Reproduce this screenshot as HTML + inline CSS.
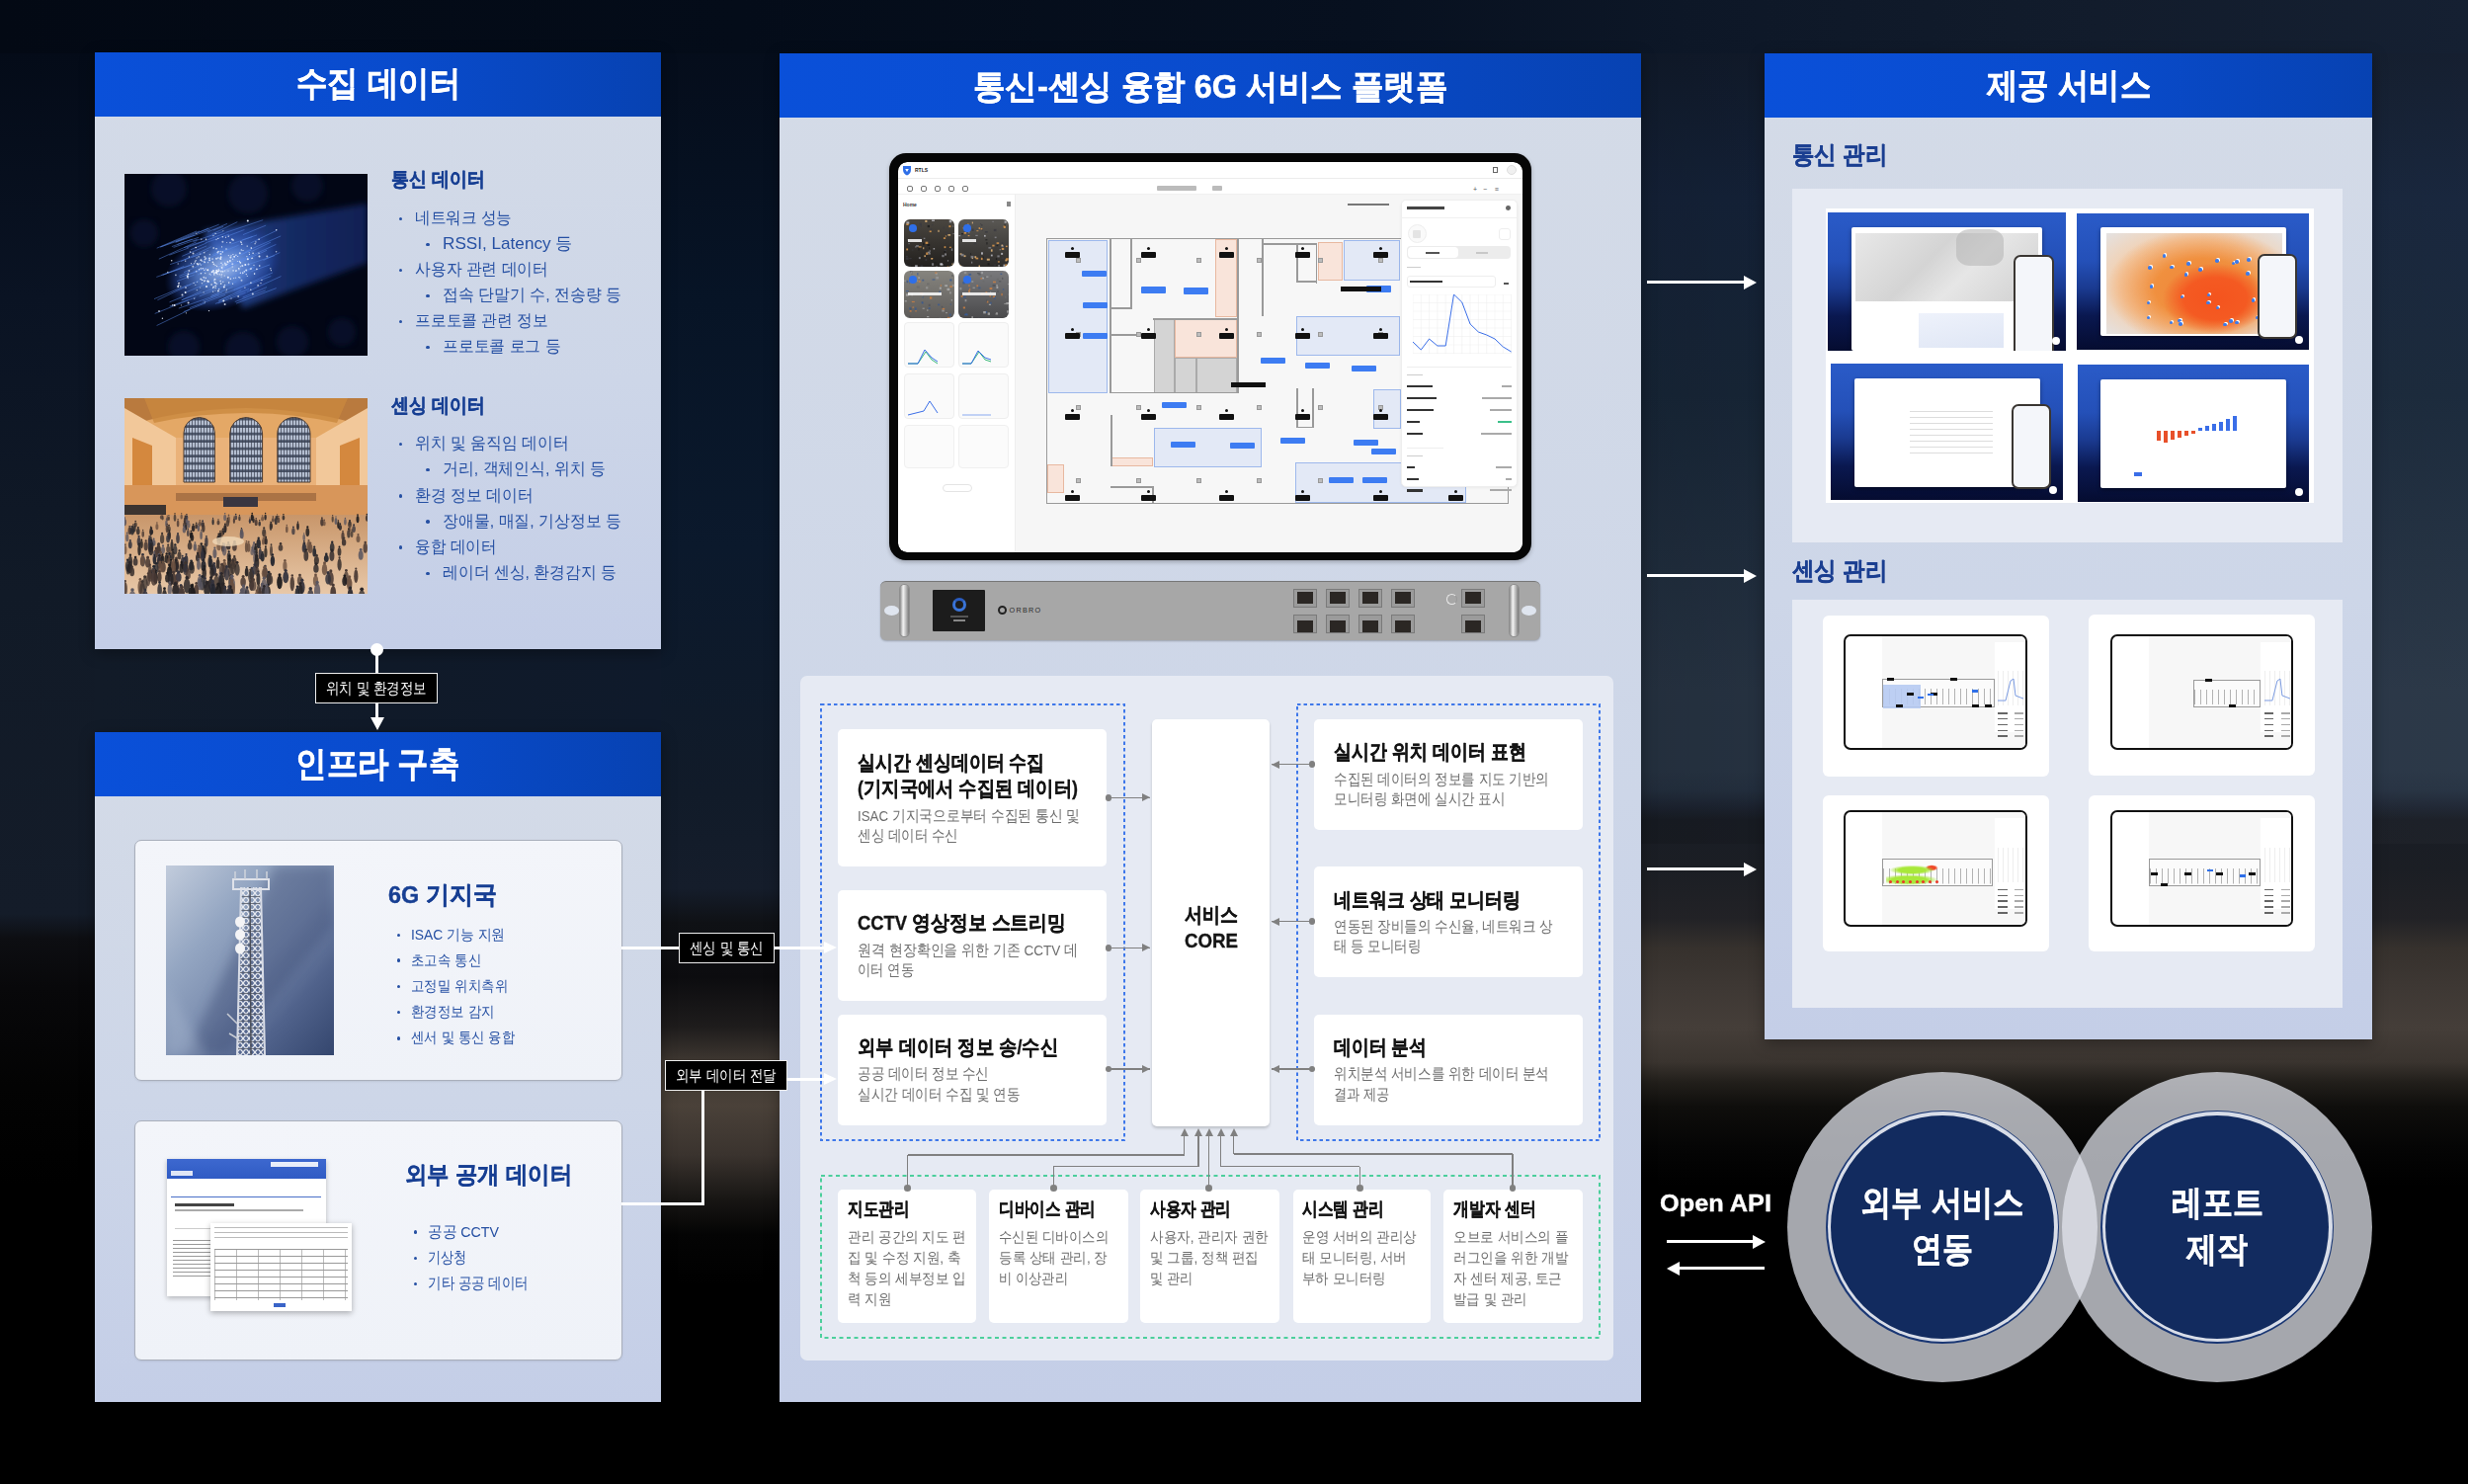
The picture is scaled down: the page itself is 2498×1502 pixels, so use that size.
<!DOCTYPE html>
<html lang="ko"><head><meta charset="utf-8"><title>6G Platform</title><style>
*{box-sizing:border-box;margin:0;padding:0}
html,body{width:2498px;height:1502px;overflow:hidden;background:#000}
body{position:relative;font-family:"Liberation Sans",sans-serif}
.a{position:absolute}
.bg{position:absolute}
.panel{position:absolute;background:linear-gradient(180deg,#d4dbe7 0%,#cdd6e8 55%,#c4cee7 100%);box-shadow:0 4px 14px rgba(0,0,0,.35)}
.hdr{position:absolute;left:0;top:0;width:100%;background:linear-gradient(90deg,#0a50d9 0%,#094bcc 55%,#0742b2 100%);color:#fff;font-weight:bold;text-align:center;white-space:nowrap}
.t{position:absolute;white-space:nowrap}
.lbl{position:absolute;background:#000;border:1.6px solid #eee;color:#fff;font-size:16.5px;text-align:center;white-space:nowrap;letter-spacing:-0.3px}
.wl{position:absolute;background:#fff}
</style></head>
<body>

<div class="bg" style="left:0;top:0;width:2498px;height:60px;background:linear-gradient(90deg,#030914 0%,#040c19 30%,#07101f 55%,#0d1727 68%,#121c2c 85%,#152032 100%)"></div>
<div class="bg" style="left:0;top:54px;width:96px;height:1448px;background:linear-gradient(180deg,#040b18 0px,#0a1323 246px,#111a27 546px,#141c29 871px,#0d0e12 896px,#08080a 946px,#030303 1046px,#000 1146px)"></div>
<div class="bg" style="left:96px;top:657px;width:573px;height:84px;background:linear-gradient(90deg,#121b28,#101a29 50%,#0f1a2b)"></div>
<div class="bg" style="left:669px;top:54px;width:120px;height:1448px;background:linear-gradient(180deg,#050d1b 0px,#071426 250px,#0b192c 500px,#111b29 750px,#151d2b 845px,#0f1115 880px,#0c0c0f 935px,#1e1c1c 985px,#3e3731 1020px,#4a4139 1065px,#3a332e 1115px,#181614 1160px,#040404 1195px,#000 1246px)"></div>
<div class="bg" style="left:1661px;top:54px;width:837px;height:1448px;background:linear-gradient(180deg,#111b2c 0px,#15233a 146px,#182739 346px,#283545 646px,#283545 726px,#253141 746px,#1e2634 761px,#191d25 776px,#1b1e24 826px,#222226 876px,#36312d 906px,#3e3834 946px,#453e39 986px,#3a342f 1021px,#221f1b 1041px,#0f0e0c 1066px,#050505 1106px,#000 1146px)"></div>
<div class="bg" style="left:1661px;top:54px;width:837px;height:800px;background:linear-gradient(90deg,rgba(0,0,0,.12),rgba(0,0,0,0) 40%,rgba(255,255,255,.02))"></div>

<div class="panel" style="left:96px;top:53px;width:573px;height:604px;"><div class="hdr" style="height:65px"></div></div>
<div class="t" style="left:299.5px;top:61.0px;font-size:35px;line-height:46px;font-weight:700;color:#fff;transform:scaleX(0.8986);transform-origin:0 50%;-webkit-text-stroke:0.5px #fff;">수집 데이터</div>
<div class="panel" style="left:96px;top:741px;width:573px;height:678px;"><div class="hdr" style="height:65px"></div></div>
<div class="t" style="left:299.4px;top:750.3px;font-size:35px;line-height:46px;font-weight:700;color:#fff;transform:scaleX(0.9002);transform-origin:0 50%;-webkit-text-stroke:0.5px #fff;">인프라 구축</div>
<div class="panel" style="left:789px;top:54px;width:872px;height:1365px;"><div class="hdr" style="height:65px"></div></div>
<div class="t" style="left:985.0px;top:64.5px;font-size:34px;line-height:44px;font-weight:700;color:#fff;transform:scaleX(0.9553);transform-origin:0 50%;-webkit-text-stroke:0.5px #fff;">통신-센싱 융합 6G 서비스 플랫폼</div>
<div class="panel" style="left:1786px;top:54px;width:615px;height:998px;"><div class="hdr" style="height:65px"></div></div>
<div class="t" style="left:2010.5px;top:63.0px;font-size:35px;line-height:46px;font-weight:700;color:#fff;transform:scaleX(0.8986);transform-origin:0 50%;-webkit-text-stroke:0.5px #fff;">제공 서비스</div>

<svg class="a" style="left:126px;top:176px" width="246" height="184" viewBox="0 0 246 184"><defs><linearGradient id="fs" x1="0" y1="0" x2="1" y2="0"><stop offset="0" stop-color="#3a64c0" stop-opacity=".75"/><stop offset=".5" stop-color="#22449a" stop-opacity=".6"/><stop offset="1" stop-color="#1a3486" stop-opacity=".55"/></linearGradient><radialGradient id="fc" cx=".5" cy=".5" r=".5"><stop offset="0" stop-color="#a8c4f4" stop-opacity=".95"/><stop offset=".45" stop-color="#5a86dc" stop-opacity=".8"/><stop offset=".8" stop-color="#2f56b8" stop-opacity=".45"/><stop offset="1" stop-color="#1a3a90" stop-opacity="0"/></radialGradient><filter id="fb"><feGaussianBlur stdDeviation="3"/></filter></defs><rect width="246" height="184" fill="#020615"/><circle cx="45" cy="15" r="18" fill="#0a1838" opacity=".55" filter="url(#fb)"/><circle cx="125" cy="20" r="20" fill="#0a1838" opacity=".55" filter="url(#fb)"/><circle cx="185" cy="12" r="16" fill="#0a1838" opacity=".55" filter="url(#fb)"/><circle cx="20" cy="60" r="14" fill="#0a1838" opacity=".55" filter="url(#fb)"/><circle cx="60" cy="175" r="16" fill="#0a1838" opacity=".55" filter="url(#fb)"/><circle cx="120" cy="178" r="18" fill="#0a1838" opacity=".55" filter="url(#fb)"/><circle cx="170" cy="170" r="16" fill="#0a1838" opacity=".55" filter="url(#fb)"/><circle cx="220" cy="160" r="14" fill="#0a1838" opacity=".55" filter="url(#fb)"/><polygon points="80,58 246,30 246,90 120,136" fill="url(#fs)" filter="url(#fb)"/><ellipse cx="100" cy="96" rx="62" ry="40" transform="rotate(-22 100 96)" fill="url(#fc)"/><line x1="75.1" y1="108.3" x2="63.5" y2="113.1" stroke="#5a8ae8" stroke-width=".7" opacity=".7"/><line x1="65.8" y1="99.1" x2="55.3" y2="103.3" stroke="#5a8ae8" stroke-width=".7" opacity=".7"/><line x1="69.1" y1="91.7" x2="32.3" y2="104.4" stroke="#5a8ae8" stroke-width=".7" opacity=".7"/><line x1="122.7" y1="120.1" x2="94.6" y2="131.0" stroke="#5a8ae8" stroke-width=".7" opacity=".7"/><line x1="64.7" y1="127.5" x2="45.6" y2="134.1" stroke="#5a8ae8" stroke-width=".7" opacity=".7"/><line x1="90.8" y1="117.6" x2="75.8" y2="123.9" stroke="#5a8ae8" stroke-width=".7" opacity=".7"/><line x1="97.2" y1="94.5" x2="85.7" y2="98.4" stroke="#5a8ae8" stroke-width=".7" opacity=".7"/><line x1="128.0" y1="77.2" x2="108.7" y2="85.3" stroke="#5a8ae8" stroke-width=".7" opacity=".7"/><line x1="90.0" y1="116.1" x2="57.6" y2="127.8" stroke="#5a8ae8" stroke-width=".7" opacity=".7"/><line x1="112.5" y1="116.9" x2="79.2" y2="129.2" stroke="#5a8ae8" stroke-width=".7" opacity=".7"/><line x1="71.8" y1="90.5" x2="37.3" y2="102.5" stroke="#5a8ae8" stroke-width=".7" opacity=".7"/><line x1="63.9" y1="112.5" x2="30.0" y2="126.6" stroke="#5a8ae8" stroke-width=".7" opacity=".7"/><line x1="91.4" y1="107.8" x2="62.9" y2="119.6" stroke="#5a8ae8" stroke-width=".7" opacity=".7"/><line x1="144.0" y1="114.6" x2="119.6" y2="125.1" stroke="#5a8ae8" stroke-width=".7" opacity=".7"/><line x1="130.1" y1="94.2" x2="89.4" y2="112.8" stroke="#5a8ae8" stroke-width=".7" opacity=".7"/><line x1="98.6" y1="103.8" x2="88.6" y2="107.8" stroke="#5a8ae8" stroke-width=".7" opacity=".7"/><line x1="71.7" y1="61.8" x2="36.8" y2="73.8" stroke="#5a8ae8" stroke-width=".7" opacity=".7"/><line x1="99.1" y1="119.9" x2="87.2" y2="124.7" stroke="#5a8ae8" stroke-width=".7" opacity=".7"/><line x1="148.3" y1="103.5" x2="110.6" y2="117.4" stroke="#5a8ae8" stroke-width=".7" opacity=".7"/><line x1="95.9" y1="121.8" x2="54.8" y2="136.1" stroke="#5a8ae8" stroke-width=".7" opacity=".7"/><line x1="83.2" y1="72.9" x2="58.3" y2="83.3" stroke="#5a8ae8" stroke-width=".7" opacity=".7"/><line x1="60.4" y1="93.4" x2="39.2" y2="102.2" stroke="#5a8ae8" stroke-width=".7" opacity=".7"/><line x1="129.0" y1="84.0" x2="100.0" y2="96.5" stroke="#5a8ae8" stroke-width=".7" opacity=".7"/><line x1="150.0" y1="99.9" x2="113.0" y2="116.7" stroke="#5a8ae8" stroke-width=".7" opacity=".7"/><line x1="99.9" y1="58.3" x2="69.4" y2="68.5" stroke="#5a8ae8" stroke-width=".7" opacity=".7"/><line x1="80.9" y1="67.8" x2="60.1" y2="74.7" stroke="#5a8ae8" stroke-width=".7" opacity=".7"/><line x1="75.1" y1="64.3" x2="53.5" y2="71.4" stroke="#5a8ae8" stroke-width=".7" opacity=".7"/><line x1="121.4" y1="56.5" x2="103.8" y2="63.2" stroke="#5a8ae8" stroke-width=".7" opacity=".7"/><line x1="72.3" y1="124.8" x2="30.7" y2="141.4" stroke="#5a8ae8" stroke-width=".7" opacity=".7"/><line x1="68.6" y1="66.0" x2="47.9" y2="73.6" stroke="#5a8ae8" stroke-width=".7" opacity=".7"/><line x1="76.1" y1="57.8" x2="36.1" y2="74.2" stroke="#5a8ae8" stroke-width=".7" opacity=".7"/><line x1="114.3" y1="48.6" x2="88.7" y2="61.0" stroke="#5a8ae8" stroke-width=".7" opacity=".7"/><line x1="129.6" y1="63.5" x2="108.1" y2="71.0" stroke="#5a8ae8" stroke-width=".7" opacity=".7"/><line x1="113.3" y1="109.0" x2="93.0" y2="116.3" stroke="#5a8ae8" stroke-width=".7" opacity=".7"/><line x1="158.5" y1="103.6" x2="123.7" y2="119.5" stroke="#5a8ae8" stroke-width=".7" opacity=".7"/><line x1="82.7" y1="95.7" x2="61.4" y2="102.8" stroke="#5a8ae8" stroke-width=".7" opacity=".7"/><line x1="87.9" y1="73.7" x2="57.1" y2="88.6" stroke="#5a8ae8" stroke-width=".7" opacity=".7"/><line x1="153.7" y1="115.6" x2="113.1" y2="131.1" stroke="#5a8ae8" stroke-width=".7" opacity=".7"/><line x1="82.7" y1="70.1" x2="66.9" y2="76.8" stroke="#5a8ae8" stroke-width=".7" opacity=".7"/><line x1="144.0" y1="77.3" x2="114.1" y2="90.9" stroke="#5a8ae8" stroke-width=".7" opacity=".7"/><line x1="126.1" y1="116.3" x2="91.9" y2="131.5" stroke="#5a8ae8" stroke-width=".7" opacity=".7"/><line x1="77.9" y1="118.7" x2="58.1" y2="127.6" stroke="#5a8ae8" stroke-width=".7" opacity=".7"/><line x1="99.6" y1="82.2" x2="60.1" y2="99.6" stroke="#5a8ae8" stroke-width=".7" opacity=".7"/><line x1="72.7" y1="68.9" x2="34.8" y2="86.2" stroke="#5a8ae8" stroke-width=".7" opacity=".7"/><line x1="142.7" y1="117.8" x2="111.8" y2="129.5" stroke="#5a8ae8" stroke-width=".7" opacity=".7"/><line x1="73.1" y1="57.9" x2="32.7" y2="75.2" stroke="#5a8ae8" stroke-width=".7" opacity=".7"/><line x1="153.4" y1="71.4" x2="116.5" y2="88.2" stroke="#5a8ae8" stroke-width=".7" opacity=".7"/><line x1="85.2" y1="77.1" x2="68.2" y2="84.2" stroke="#5a8ae8" stroke-width=".7" opacity=".7"/><line x1="101.9" y1="60.0" x2="62.8" y2="74.9" stroke="#5a8ae8" stroke-width=".7" opacity=".7"/><line x1="118.3" y1="117.8" x2="96.0" y2="128.3" stroke="#5a8ae8" stroke-width=".7" opacity=".7"/><line x1="113.2" y1="88.6" x2="103.3" y2="92.5" stroke="#5a8ae8" stroke-width=".7" opacity=".7"/><line x1="60.4" y1="123.8" x2="45.5" y2="129.8" stroke="#5a8ae8" stroke-width=".7" opacity=".7"/><line x1="115.6" y1="72.2" x2="89.6" y2="82.9" stroke="#5a8ae8" stroke-width=".7" opacity=".7"/><line x1="70.6" y1="102.2" x2="53.1" y2="108.6" stroke="#5a8ae8" stroke-width=".7" opacity=".7"/><line x1="110.8" y1="92.2" x2="77.7" y2="107.9" stroke="#5a8ae8" stroke-width=".7" opacity=".7"/><line x1="121.3" y1="85.1" x2="95.7" y2="96.3" stroke="#5a8ae8" stroke-width=".7" opacity=".7"/><line x1="113.3" y1="84.9" x2="74.0" y2="102.1" stroke="#5a8ae8" stroke-width=".7" opacity=".7"/><line x1="154.2" y1="57.2" x2="127.5" y2="70.0" stroke="#5a8ae8" stroke-width=".7" opacity=".7"/><line x1="73.7" y1="66.3" x2="49.6" y2="74.4" stroke="#5a8ae8" stroke-width=".7" opacity=".7"/><line x1="67.3" y1="111.7" x2="33.4" y2="127.7" stroke="#5a8ae8" stroke-width=".7" opacity=".7"/><line x1="131.6" y1="94.9" x2="118.0" y2="101.3" stroke="#5a8ae8" stroke-width=".7" opacity=".7"/><line x1="82.0" y1="130.7" x2="59.7" y2="139.6" stroke="#5a8ae8" stroke-width=".7" opacity=".7"/><line x1="143.2" y1="52.1" x2="120.0" y2="61.6" stroke="#5a8ae8" stroke-width=".7" opacity=".7"/><line x1="79.6" y1="80.6" x2="46.1" y2="91.6" stroke="#5a8ae8" stroke-width=".7" opacity=".7"/><line x1="104.0" y1="50.4" x2="84.2" y2="58.9" stroke="#5a8ae8" stroke-width=".7" opacity=".7"/><line x1="66.4" y1="137.2" x2="32.6" y2="153.5" stroke="#5a8ae8" stroke-width=".7" opacity=".7"/><line x1="86.6" y1="56.5" x2="51.6" y2="69.4" stroke="#5a8ae8" stroke-width=".7" opacity=".7"/><line x1="102.2" y1="122.4" x2="65.9" y2="135.6" stroke="#5a8ae8" stroke-width=".7" opacity=".7"/><line x1="151.9" y1="82.7" x2="119.2" y2="93.7" stroke="#5a8ae8" stroke-width=".7" opacity=".7"/><line x1="128.8" y1="76.8" x2="117.5" y2="82.2" stroke="#5a8ae8" stroke-width=".7" opacity=".7"/><line x1="140.2" y1="46.7" x2="102.3" y2="59.4" stroke="#5a8ae8" stroke-width=".7" opacity=".7"/><line x1="105.4" y1="75.8" x2="78.9" y2="88.4" stroke="#5a8ae8" stroke-width=".7" opacity=".7"/><line x1="72.9" y1="98.9" x2="55.6" y2="104.9" stroke="#5a8ae8" stroke-width=".7" opacity=".7"/><line x1="65.0" y1="74.9" x2="45.4" y2="82.2" stroke="#5a8ae8" stroke-width=".7" opacity=".7"/><line x1="89.0" y1="92.8" x2="73.8" y2="98.5" stroke="#5a8ae8" stroke-width=".7" opacity=".7"/><line x1="85.0" y1="55.0" x2="52.1" y2="68.6" stroke="#5a8ae8" stroke-width=".7" opacity=".7"/><line x1="107.5" y1="122.9" x2="95.0" y2="128.6" stroke="#5a8ae8" stroke-width=".7" opacity=".7"/><line x1="109.5" y1="114.4" x2="87.5" y2="123.3" stroke="#5a8ae8" stroke-width=".7" opacity=".7"/><line x1="158.2" y1="62.9" x2="122.4" y2="78.6" stroke="#5a8ae8" stroke-width=".7" opacity=".7"/><line x1="100.5" y1="77.7" x2="89.2" y2="81.6" stroke="#5a8ae8" stroke-width=".7" opacity=".7"/><line x1="134.1" y1="61.9" x2="119.2" y2="67.0" stroke="#5a8ae8" stroke-width=".7" opacity=".7"/><line x1="147.1" y1="91.9" x2="128.4" y2="98.7" stroke="#5a8ae8" stroke-width=".7" opacity=".7"/><line x1="105.9" y1="61.1" x2="81.9" y2="69.9" stroke="#5a8ae8" stroke-width=".7" opacity=".7"/><line x1="157.3" y1="79.5" x2="140.5" y2="87.5" stroke="#5a8ae8" stroke-width=".7" opacity=".7"/><line x1="95.7" y1="51.2" x2="74.0" y2="59.8" stroke="#5a8ae8" stroke-width=".7" opacity=".7"/><line x1="80.1" y1="95.4" x2="70.5" y2="98.9" stroke="#5a8ae8" stroke-width=".7" opacity=".7"/><line x1="100.0" y1="53.3" x2="89.8" y2="57.1" stroke="#5a8ae8" stroke-width=".7" opacity=".7"/><line x1="118.6" y1="87.7" x2="85.2" y2="102.0" stroke="#5a8ae8" stroke-width=".7" opacity=".7"/><line x1="147.9" y1="69.2" x2="128.6" y2="78.5" stroke="#5a8ae8" stroke-width=".7" opacity=".7"/><line x1="132.4" y1="93.4" x2="121.9" y2="98.2" stroke="#5a8ae8" stroke-width=".7" opacity=".7"/><circle cx="124.2" cy="73.1" r="0.7" fill="#eef4ff" opacity="0.96"/><circle cx="98.6" cy="73.8" r="0.6" fill="#eef4ff" opacity="0.93"/><circle cx="54.2" cy="91.0" r="0.7" fill="#eef4ff" opacity="0.63"/><circle cx="131.0" cy="92.4" r="0.6" fill="#eef4ff" opacity="0.75"/><circle cx="90.6" cy="99.9" r="0.6" fill="#eef4ff" opacity="0.85"/><circle cx="86.3" cy="81.7" r="0.6" fill="#eef4ff" opacity="0.78"/><circle cx="148.4" cy="97.7" r="0.6" fill="#eef4ff" opacity="0.86"/><circle cx="133.9" cy="96.4" r="0.8" fill="#eef4ff" opacity="0.92"/><circle cx="108.0" cy="82.8" r="0.7" fill="#eef4ff" opacity="0.69"/><circle cx="82.3" cy="85.4" r="1.0" fill="#eef4ff" opacity="0.63"/><circle cx="114.7" cy="83.5" r="0.6" fill="#eef4ff" opacity="0.85"/><circle cx="92.0" cy="92.5" r="0.7" fill="#eef4ff" opacity="0.73"/><circle cx="76.6" cy="81.1" r="0.7" fill="#eef4ff" opacity="0.60"/><circle cx="115.6" cy="95.7" r="0.6" fill="#eef4ff" opacity="0.88"/><circle cx="89.0" cy="86.1" r="0.8" fill="#eef4ff" opacity="0.79"/><circle cx="86.2" cy="101.3" r="0.7" fill="#eef4ff" opacity="0.72"/><circle cx="121.3" cy="98.9" r="0.8" fill="#eef4ff" opacity="0.78"/><circle cx="124.8" cy="47.6" r="1.0" fill="#eef4ff" opacity="1.00"/><circle cx="57.5" cy="132.9" r="0.7" fill="#eef4ff" opacity="0.63"/><circle cx="131.6" cy="101.1" r="0.8" fill="#eef4ff" opacity="0.98"/><circle cx="127.9" cy="110.3" r="0.8" fill="#eef4ff" opacity="0.95"/><circle cx="93.0" cy="85.7" r="1.0" fill="#eef4ff" opacity="0.76"/><circle cx="129.8" cy="121.5" r="1.0" fill="#eef4ff" opacity="0.76"/><circle cx="94.4" cy="79.6" r="1.0" fill="#eef4ff" opacity="0.73"/><circle cx="98.8" cy="94.9" r="0.8" fill="#eef4ff" opacity="0.94"/><circle cx="138.0" cy="110.6" r="0.6" fill="#eef4ff" opacity="0.96"/><circle cx="92.3" cy="113.6" r="1.0" fill="#eef4ff" opacity="0.76"/><circle cx="104.5" cy="89.1" r="1.0" fill="#eef4ff" opacity="0.90"/><circle cx="109.9" cy="81.5" r="0.6" fill="#eef4ff" opacity="0.93"/><circle cx="85.5" cy="138.6" r="0.7" fill="#eef4ff" opacity="0.99"/><circle cx="78.8" cy="107.5" r="0.8" fill="#eef4ff" opacity="0.91"/><circle cx="92.8" cy="99.4" r="1.0" fill="#eef4ff" opacity="0.97"/><circle cx="126.2" cy="79.7" r="0.6" fill="#eef4ff" opacity="0.62"/><circle cx="95.1" cy="78.4" r="0.7" fill="#eef4ff" opacity="0.86"/><circle cx="96.3" cy="101.8" r="0.7" fill="#eef4ff" opacity="0.67"/><circle cx="81.2" cy="108.1" r="0.8" fill="#eef4ff" opacity="0.90"/><circle cx="116.4" cy="88.5" r="0.7" fill="#eef4ff" opacity="0.72"/><circle cx="75.5" cy="96.7" r="0.7" fill="#eef4ff" opacity="0.86"/><circle cx="123.2" cy="97.6" r="1.0" fill="#eef4ff" opacity="0.82"/><circle cx="77.3" cy="106.6" r="1.0" fill="#eef4ff" opacity="0.77"/><circle cx="80.8" cy="97.4" r="0.7" fill="#eef4ff" opacity="0.74"/><circle cx="112.9" cy="98.3" r="0.8" fill="#eef4ff" opacity="0.92"/><circle cx="99.4" cy="98.8" r="1.0" fill="#eef4ff" opacity="0.75"/><circle cx="97.6" cy="84.5" r="0.8" fill="#eef4ff" opacity="0.74"/><circle cx="115.9" cy="95.8" r="0.8" fill="#eef4ff" opacity="0.65"/><circle cx="64.2" cy="105.6" r="0.7" fill="#eef4ff" opacity="0.64"/><circle cx="116.8" cy="80.2" r="1.0" fill="#eef4ff" opacity="0.77"/><circle cx="81.3" cy="129.9" r="0.6" fill="#eef4ff" opacity="0.65"/><circle cx="61.7" cy="120.0" r="1.0" fill="#eef4ff" opacity="0.99"/><circle cx="88.7" cy="99.2" r="1.0" fill="#eef4ff" opacity="0.99"/><circle cx="98.1" cy="104.1" r="0.7" fill="#eef4ff" opacity="0.66"/><circle cx="109.3" cy="91.2" r="1.0" fill="#eef4ff" opacity="0.63"/><circle cx="98.2" cy="95.1" r="0.7" fill="#eef4ff" opacity="0.69"/><circle cx="128.3" cy="75.1" r="0.8" fill="#eef4ff" opacity="0.98"/><circle cx="77.4" cy="87.3" r="1.0" fill="#eef4ff" opacity="0.88"/><circle cx="105.0" cy="98.1" r="0.7" fill="#eef4ff" opacity="0.76"/><circle cx="103.4" cy="117.1" r="0.6" fill="#eef4ff" opacity="0.81"/><circle cx="117.4" cy="89.9" r="0.8" fill="#eef4ff" opacity="0.86"/><circle cx="118.3" cy="77.0" r="0.7" fill="#eef4ff" opacity="0.82"/><circle cx="122.3" cy="91.9" r="0.8" fill="#eef4ff" opacity="0.62"/><circle cx="115.2" cy="124.0" r="1.0" fill="#eef4ff" opacity="0.63"/><circle cx="101.5" cy="112.6" r="0.8" fill="#eef4ff" opacity="0.69"/><circle cx="119.3" cy="92.9" r="1.0" fill="#eef4ff" opacity="0.74"/><circle cx="95.8" cy="97.9" r="0.8" fill="#eef4ff" opacity="0.90"/><circle cx="81.7" cy="100.5" r="0.7" fill="#eef4ff" opacity="0.72"/><circle cx="105.4" cy="82.6" r="0.7" fill="#eef4ff" opacity="0.71"/><circle cx="106.9" cy="88.1" r="1.0" fill="#eef4ff" opacity="0.84"/><circle cx="120.0" cy="77.5" r="0.6" fill="#eef4ff" opacity="0.98"/><circle cx="112.5" cy="105.2" r="0.7" fill="#eef4ff" opacity="0.61"/><circle cx="77.5" cy="92.1" r="0.6" fill="#eef4ff" opacity="0.67"/><circle cx="62.0" cy="115.1" r="0.8" fill="#eef4ff" opacity="0.89"/><circle cx="153.6" cy="78.7" r="0.8" fill="#eef4ff" opacity="0.68"/><circle cx="81.2" cy="84.1" r="1.0" fill="#eef4ff" opacity="0.61"/><circle cx="86.0" cy="85.4" r="0.8" fill="#eef4ff" opacity="0.99"/><circle cx="87.2" cy="102.1" r="0.6" fill="#eef4ff" opacity="0.71"/><circle cx="62.4" cy="140.8" r="0.6" fill="#eef4ff" opacity="0.82"/><circle cx="99.3" cy="79.0" r="0.8" fill="#eef4ff" opacity="0.93"/><circle cx="91.0" cy="100.3" r="1.0" fill="#eef4ff" opacity="0.68"/><circle cx="72.8" cy="98.8" r="0.8" fill="#eef4ff" opacity="0.75"/><circle cx="102.7" cy="92.0" r="1.0" fill="#eef4ff" opacity="0.70"/><circle cx="80.8" cy="88.9" r="1.0" fill="#eef4ff" opacity="0.61"/><circle cx="147.8" cy="95.7" r="0.8" fill="#eef4ff" opacity="0.68"/><circle cx="128.2" cy="95.9" r="0.8" fill="#eef4ff" opacity="0.71"/><circle cx="130.1" cy="80.2" r="0.8" fill="#eef4ff" opacity="0.90"/><circle cx="77.8" cy="66.2" r="0.8" fill="#eef4ff" opacity="0.60"/><circle cx="99.9" cy="57.6" r="0.6" fill="#eef4ff" opacity="0.61"/><circle cx="100.8" cy="114.4" r="1.0" fill="#eef4ff" opacity="0.98"/><circle cx="84.2" cy="108.6" r="1.0" fill="#eef4ff" opacity="0.93"/><circle cx="116.9" cy="105.1" r="0.6" fill="#eef4ff" opacity="0.92"/><circle cx="94.8" cy="65.4" r="0.7" fill="#eef4ff" opacity="0.84"/><circle cx="88.1" cy="112.1" r="0.8" fill="#eef4ff" opacity="0.91"/><circle cx="74.3" cy="91.6" r="1.0" fill="#eef4ff" opacity="0.90"/><circle cx="98.1" cy="102.2" r="0.6" fill="#eef4ff" opacity="0.79"/><circle cx="84.3" cy="97.3" r="1.0" fill="#eef4ff" opacity="0.95"/><circle cx="116.8" cy="89.3" r="0.6" fill="#eef4ff" opacity="0.68"/><circle cx="35.0" cy="139.1" r="1.0" fill="#eef4ff" opacity="0.67"/><circle cx="115.9" cy="104.6" r="0.7" fill="#eef4ff" opacity="0.90"/><circle cx="118.3" cy="69.3" r="0.6" fill="#eef4ff" opacity="0.91"/><circle cx="92.7" cy="110.8" r="0.8" fill="#eef4ff" opacity="0.75"/><circle cx="96.8" cy="85.1" r="0.7" fill="#eef4ff" opacity="0.67"/><circle cx="99.8" cy="109.2" r="0.7" fill="#eef4ff" opacity="0.73"/><circle cx="38.4" cy="146.2" r="0.7" fill="#eef4ff" opacity="0.86"/><circle cx="119.6" cy="100.7" r="0.6" fill="#eef4ff" opacity="0.64"/><circle cx="54.2" cy="114.1" r="1.0" fill="#eef4ff" opacity="0.97"/><circle cx="117.4" cy="93.7" r="0.6" fill="#eef4ff" opacity="0.62"/><circle cx="61.7" cy="88.1" r="0.7" fill="#eef4ff" opacity="0.97"/><circle cx="64.6" cy="130.6" r="1.0" fill="#eef4ff" opacity="0.84"/><circle cx="103.6" cy="69.5" r="0.6" fill="#eef4ff" opacity="0.64"/><circle cx="70.5" cy="90.8" r="0.7" fill="#eef4ff" opacity="0.61"/><circle cx="94.1" cy="101.5" r="0.8" fill="#eef4ff" opacity="0.62"/><circle cx="92.1" cy="60.4" r="0.6" fill="#eef4ff" opacity="0.93"/><circle cx="78.5" cy="110.7" r="0.8" fill="#eef4ff" opacity="0.63"/><circle cx="125.5" cy="91.6" r="1.0" fill="#eef4ff" opacity="0.63"/><circle cx="117.4" cy="100.3" r="0.7" fill="#eef4ff" opacity="0.86"/><circle cx="110.1" cy="97.9" r="0.8" fill="#eef4ff" opacity="0.76"/><circle cx="93.7" cy="111.5" r="0.6" fill="#eef4ff" opacity="0.72"/><circle cx="77.4" cy="95.7" r="1.0" fill="#eef4ff" opacity="0.61"/><circle cx="102.5" cy="64.2" r="0.7" fill="#eef4ff" opacity="0.76"/><circle cx="50.6" cy="133.0" r="1.0" fill="#eef4ff" opacity="0.96"/><circle cx="58.5" cy="122.4" r="1.0" fill="#eef4ff" opacity="0.83"/><circle cx="70.7" cy="126.2" r="0.7" fill="#eef4ff" opacity="0.61"/><circle cx="65.4" cy="98.0" r="1.0" fill="#eef4ff" opacity="0.64"/><circle cx="81.4" cy="89.6" r="0.7" fill="#eef4ff" opacity="0.66"/><circle cx="92.0" cy="118.0" r="0.6" fill="#eef4ff" opacity="0.64"/><circle cx="54.7" cy="110.8" r="0.7" fill="#eef4ff" opacity="0.72"/><circle cx="101.7" cy="90.6" r="1.0" fill="#eef4ff" opacity="0.73"/><circle cx="71.4" cy="88.9" r="0.6" fill="#eef4ff" opacity="0.96"/><circle cx="65.4" cy="84.0" r="0.7" fill="#eef4ff" opacity="0.86"/><circle cx="118.8" cy="71.2" r="0.7" fill="#eef4ff" opacity="0.93"/><circle cx="104.9" cy="104.8" r="1.0" fill="#eef4ff" opacity="0.98"/><circle cx="110.6" cy="105.6" r="0.7" fill="#eef4ff" opacity="0.70"/><circle cx="90.0" cy="62.6" r="0.6" fill="#eef4ff" opacity="0.95"/><circle cx="117.7" cy="68.9" r="0.8" fill="#eef4ff" opacity="0.65"/><circle cx="73.4" cy="90.8" r="0.8" fill="#eef4ff" opacity="0.86"/><circle cx="91.5" cy="110.0" r="1.0" fill="#eef4ff" opacity="0.86"/><circle cx="73.6" cy="109.3" r="0.6" fill="#eef4ff" opacity="0.60"/><circle cx="124.8" cy="86.3" r="1.0" fill="#eef4ff" opacity="0.91"/><circle cx="103.0" cy="76.0" r="0.7" fill="#eef4ff" opacity="0.92"/><circle cx="90.8" cy="101.9" r="0.8" fill="#eef4ff" opacity="0.77"/><circle cx="119.7" cy="99.5" r="0.6" fill="#eef4ff" opacity="0.62"/><circle cx="135.1" cy="112.9" r="0.8" fill="#eef4ff" opacity="0.91"/><circle cx="90.0" cy="98.0" r="1.0" fill="#eef4ff" opacity="0.86"/><circle cx="99.2" cy="91.8" r="0.6" fill="#eef4ff" opacity="1.00"/><circle cx="93.0" cy="66.5" r="0.7" fill="#eef4ff" opacity="0.65"/><circle cx="112.9" cy="82.3" r="0.7" fill="#eef4ff" opacity="0.87"/><circle cx="94.9" cy="85.1" r="0.8" fill="#eef4ff" opacity="0.84"/><circle cx="97.7" cy="111.1" r="0.8" fill="#eef4ff" opacity="0.96"/><circle cx="80.3" cy="104.8" r="1.0" fill="#eef4ff" opacity="0.68"/><circle cx="95.7" cy="116.8" r="0.8" fill="#eef4ff" opacity="0.75"/><circle cx="105.7" cy="110.1" r="0.8" fill="#eef4ff" opacity="0.87"/><circle cx="109.6" cy="86.2" r="0.8" fill="#eef4ff" opacity="0.65"/><circle cx="64.5" cy="101.4" r="0.8" fill="#eef4ff" opacity="0.99"/><circle cx="70.1" cy="110.4" r="0.6" fill="#eef4ff" opacity="0.70"/><circle cx="51.9" cy="102.4" r="0.8" fill="#eef4ff" opacity="0.71"/><circle cx="129.4" cy="85.2" r="0.8" fill="#eef4ff" opacity="0.73"/><circle cx="113.1" cy="97.5" r="0.6" fill="#eef4ff" opacity="0.72"/><circle cx="77.4" cy="100.7" r="0.8" fill="#eef4ff" opacity="0.89"/><circle cx="97.7" cy="84.1" r="0.8" fill="#eef4ff" opacity="0.85"/><circle cx="71.8" cy="112.3" r="0.6" fill="#eef4ff" opacity="0.65"/><circle cx="103.0" cy="119.0" r="0.6" fill="#eef4ff" opacity="0.62"/><circle cx="79.4" cy="95.7" r="0.8" fill="#eef4ff" opacity="0.81"/><circle cx="80.6" cy="108.7" r="0.7" fill="#eef4ff" opacity="0.68"/><circle cx="78.6" cy="88.3" r="0.7" fill="#eef4ff" opacity="0.61"/><circle cx="110.0" cy="67.1" r="1.0" fill="#eef4ff" opacity="0.64"/><circle cx="66.6" cy="79.1" r="0.8" fill="#eef4ff" opacity="0.76"/><circle cx="97.7" cy="98.7" r="0.8" fill="#eef4ff" opacity="0.84"/><circle cx="69.3" cy="93.7" r="1.0" fill="#eef4ff" opacity="0.70"/><circle cx="103.9" cy="91.3" r="0.6" fill="#eef4ff" opacity="0.76"/><circle cx="98.6" cy="101.7" r="0.6" fill="#eef4ff" opacity="0.60"/><circle cx="43.8" cy="99.5" r="0.7" fill="#eef4ff" opacity="0.77"/><circle cx="63.8" cy="103.5" r="1.0" fill="#eef4ff" opacity="0.93"/><circle cx="107.4" cy="106.2" r="0.8" fill="#eef4ff" opacity="0.85"/><circle cx="136.5" cy="83.4" r="1.0" fill="#eef4ff" opacity="0.89"/><circle cx="144.3" cy="83.4" r="1.0" fill="#eef4ff" opacity="0.63"/><circle cx="89.7" cy="89.7" r="0.6" fill="#eef4ff" opacity="0.70"/><circle cx="90.4" cy="91.4" r="0.8" fill="#eef4ff" opacity="0.88"/><circle cx="94.9" cy="118.4" r="1.0" fill="#eef4ff" opacity="0.87"/><circle cx="153.7" cy="56.7" r="0.8" fill="#eef4ff" opacity="0.86"/><circle cx="114.4" cy="88.5" r="0.6" fill="#eef4ff" opacity="0.67"/><circle cx="136.1" cy="66.2" r="0.7" fill="#eef4ff" opacity="0.98"/><circle cx="97.5" cy="81.0" r="1.0" fill="#eef4ff" opacity="0.73"/><circle cx="101.6" cy="131.9" r="1.0" fill="#eef4ff" opacity="0.79"/><circle cx="95.3" cy="96.4" r="0.6" fill="#eef4ff" opacity="0.77"/><circle cx="93.0" cy="75.7" r="0.8" fill="#eef4ff" opacity="0.92"/><circle cx="73.3" cy="117.6" r="0.7" fill="#eef4ff" opacity="0.66"/><circle cx="109.2" cy="94.0" r="0.7" fill="#eef4ff" opacity="0.74"/><circle cx="101.6" cy="98.1" r="0.6" fill="#eef4ff" opacity="0.66"/><circle cx="93.6" cy="93.4" r="0.6" fill="#eef4ff" opacity="0.89"/><circle cx="127.4" cy="96.3" r="0.8" fill="#eef4ff" opacity="0.68"/><circle cx="126.5" cy="81.5" r="0.6" fill="#eef4ff" opacity="0.95"/><circle cx="99.4" cy="68.8" r="1.0" fill="#eef4ff" opacity="0.64"/><circle cx="101.2" cy="103.0" r="0.6" fill="#eef4ff" opacity="0.98"/><circle cx="132.1" cy="70.7" r="0.6" fill="#eef4ff" opacity="0.93"/><circle cx="84.6" cy="89.7" r="0.6" fill="#eef4ff" opacity="0.65"/><circle cx="107.0" cy="69.6" r="0.8" fill="#eef4ff" opacity="0.73"/><circle cx="93.6" cy="98.9" r="0.8" fill="#eef4ff" opacity="0.97"/><circle cx="136.7" cy="93.0" r="0.8" fill="#eef4ff" opacity="0.91"/><circle cx="76.1" cy="91.0" r="0.8" fill="#eef4ff" opacity="0.85"/><circle cx="122.3" cy="92.1" r="1.0" fill="#eef4ff" opacity="0.81"/><circle cx="120.0" cy="100.5" r="0.6" fill="#eef4ff" opacity="0.82"/><circle cx="108.0" cy="126.1" r="0.6" fill="#eef4ff" opacity="0.83"/><circle cx="92.1" cy="115.5" r="0.7" fill="#eef4ff" opacity="0.72"/><circle cx="98.0" cy="90.3" r="0.8" fill="#eef4ff" opacity="0.80"/><circle cx="55.2" cy="110.5" r="0.7" fill="#eef4ff" opacity="0.99"/><circle cx="47.7" cy="87.7" r="0.8" fill="#eef4ff" opacity="0.83"/><circle cx="121.9" cy="115.1" r="0.7" fill="#eef4ff" opacity="0.80"/><circle cx="124.3" cy="103.5" r="0.6" fill="#eef4ff" opacity="0.80"/><circle cx="128.8" cy="85.6" r="0.6" fill="#eef4ff" opacity="0.85"/><circle cx="83.0" cy="114.1" r="1.0" fill="#eef4ff" opacity="0.96"/><circle cx="97.2" cy="78.4" r="0.6" fill="#eef4ff" opacity="0.75"/><circle cx="89.7" cy="115.5" r="0.7" fill="#eef4ff" opacity="0.75"/><circle cx="111.1" cy="83.8" r="1.0" fill="#eef4ff" opacity="0.65"/><circle cx="67.5" cy="90.7" r="0.6" fill="#eef4ff" opacity="0.74"/><circle cx="91.5" cy="106.7" r="1.0" fill="#eef4ff" opacity="0.86"/><circle cx="97.3" cy="85.9" r="1.0" fill="#eef4ff" opacity="0.88"/><circle cx="97.2" cy="108.5" r="0.8" fill="#eef4ff" opacity="0.78"/><circle cx="111.3" cy="83.7" r="0.7" fill="#eef4ff" opacity="0.71"/><circle cx="99.3" cy="63.8" r="0.7" fill="#eef4ff" opacity="0.89"/><circle cx="136.0" cy="80.3" r="0.8" fill="#eef4ff" opacity="0.66"/><circle cx="90.7" cy="107.9" r="0.6" fill="#eef4ff" opacity="0.67"/><circle cx="89.3" cy="89.2" r="0.7" fill="#eef4ff" opacity="0.99"/><circle cx="108.9" cy="66.2" r="1.0" fill="#eef4ff" opacity="0.71"/><circle cx="138.9" cy="107.5" r="0.8" fill="#eef4ff" opacity="0.68"/><circle cx="93.2" cy="100.3" r="1.0" fill="#eef4ff" opacity="0.94"/><circle cx="82.3" cy="105.4" r="0.8" fill="#eef4ff" opacity="0.79"/><circle cx="118.5" cy="107.8" r="1.0" fill="#eef4ff" opacity="0.60"/><circle cx="100.3" cy="128.6" r="1.0" fill="#eef4ff" opacity="0.94"/><circle cx="80.8" cy="79.7" r="0.7" fill="#eef4ff" opacity="0.87"/><circle cx="81.4" cy="86.5" r="0.8" fill="#eef4ff" opacity="0.70"/><circle cx="82.5" cy="66.3" r="0.7" fill="#eef4ff" opacity="0.91"/><circle cx="90.2" cy="75.0" r="0.8" fill="#eef4ff" opacity="0.94"/><circle cx="93.2" cy="97.8" r="1.0" fill="#eef4ff" opacity="0.81"/><circle cx="72.2" cy="74.5" r="0.8" fill="#eef4ff" opacity="0.91"/><circle cx="76.7" cy="115.1" r="0.6" fill="#eef4ff" opacity="0.62"/><circle cx="84.3" cy="97.4" r="0.7" fill="#eef4ff" opacity="0.81"/><circle cx="123.3" cy="101.6" r="0.7" fill="#eef4ff" opacity="0.89"/><circle cx="63.8" cy="104.4" r="0.8" fill="#eef4ff" opacity="0.81"/><circle cx="48.7" cy="132.9" r="0.7" fill="#eef4ff" opacity="1.00"/><circle cx="109.6" cy="111.2" r="0.6" fill="#eef4ff" opacity="0.89"/><circle cx="72.2" cy="87.8" r="0.8" fill="#eef4ff" opacity="0.71"/><circle cx="94.8" cy="98.6" r="1.0" fill="#eef4ff" opacity="0.97"/><circle cx="73.1" cy="85.0" r="0.8" fill="#eef4ff" opacity="0.64"/><circle cx="90.0" cy="114.6" r="0.7" fill="#eef4ff" opacity="1.00"/><circle cx="123.9" cy="83.6" r="0.7" fill="#eef4ff" opacity="0.65"/><circle cx="105.3" cy="63.3" r="0.7" fill="#eef4ff" opacity="0.79"/><circle cx="82.1" cy="96.1" r="0.7" fill="#eef4ff" opacity="0.74"/><circle cx="69.5" cy="80.5" r="1.0" fill="#eef4ff" opacity="0.79"/><circle cx="89.7" cy="119.1" r="0.7" fill="#eef4ff" opacity="0.91"/><circle cx="56.8" cy="114.0" r="0.7" fill="#eef4ff" opacity="0.71"/><circle cx="84.9" cy="109.0" r="1.0" fill="#eef4ff" opacity="0.87"/><circle cx="54.9" cy="112.5" r="0.8" fill="#eef4ff" opacity="0.74"/><circle cx="86.1" cy="87.3" r="1.0" fill="#eef4ff" opacity="0.77"/><circle cx="75.1" cy="83.9" r="0.8" fill="#eef4ff" opacity="0.66"/><circle cx="90.2" cy="114.2" r="0.6" fill="#eef4ff" opacity="0.93"/><circle cx="132.9" cy="68.9" r="0.7" fill="#eef4ff" opacity="0.81"/><circle cx="80.1" cy="119.9" r="0.6" fill="#eef4ff" opacity="0.68"/><circle cx="116.0" cy="96.8" r="0.6" fill="#eef4ff" opacity="0.83"/><circle cx="107.4" cy="84.5" r="1.0" fill="#eef4ff" opacity="0.74"/><circle cx="127.8" cy="117.2" r="0.7" fill="#eef4ff" opacity="0.84"/><circle cx="72.9" cy="60.3" r="0.6" fill="#eef4ff" opacity="0.87"/></svg>
<svg class="a" style="left:126px;top:403px" width="246" height="198" viewBox="0 0 246 198"><defs><pattern id="gw" width="3" height="7.5" patternUnits="userSpaceOnUse"><rect width="3" height="7.5" fill="#4a5468"/><rect y="0" width="3" height="4.8" fill="#b4bed0"/><rect x="2.3" width=".7" height="7.5" fill="#3a4050"/></pattern><linearGradient id="gf" x1="0" y1="0" x2="0" y2="1"><stop offset="0" stop-color="#c8966a"/><stop offset="1" stop-color="#e8c8a8"/></linearGradient><filter id="gb"><feGaussianBlur stdDeviation=".6"/></filter></defs><rect width="246" height="198" fill="#e4a866"/><path d="M0 0H246V30Q200 12 123 10Q46 12 0 30Z" fill="#b97a3e"/><path d="M20 0Q123 -5 226 0L215 25Q123 5 30 25Z" fill="#c9883f" opacity=".8"/><path d="M0 10L52 40L52 125L0 120Z" fill="#f2c89a"/><path d="M246 10L194 40L194 125L246 120Z" fill="#f2c89a"/><path d="M8 40L28 48L28 110L8 108Z" fill="#d4883e"/><path d="M238 40L218 48L218 110L238 108Z" fill="#d4883e"/><rect x="52" y="40" width="142" height="58" fill="#eab27a"/><path d="M60 85V35.2A15.700000000000003 15.700000000000003 0 0 1 91.4 35.2V85Z" fill="url(#gw)" stroke="#4a3a30" stroke-width="1"/><path d="M106.7 85V35.949999999999996A16.449999999999996 16.449999999999996 0 0 1 139.6 35.949999999999996V85Z" fill="url(#gw)" stroke="#4a3a30" stroke-width="1"/><path d="M154.8 85V36.099999999999994A16.599999999999994 16.599999999999994 0 0 1 188 36.099999999999994V85Z" fill="url(#gw)" stroke="#4a3a30" stroke-width="1"/><rect x="0" y="88" width="246" height="32" fill="#d8965a"/><rect x="0" y="108" width="42" height="12" fill="#3c3430"/><rect x="52" y="96" width="142" height="8" fill="#a06a40" opacity=".8"/><rect x="100" y="100" width="35" height="10" fill="#3a3640"/><rect x="0" y="118" width="246" height="80" fill="url(#gf)"/><ellipse cx="57.7" cy="120.1" rx="1.2" ry="2.5" fill="#6a5040" opacity="0.86"/><circle cx="57.7" cy="116.8" r="0.7" fill="#6a5040"/><ellipse cx="142.6" cy="120.5" rx="1.2" ry="3.1" fill="#2a2628" opacity="0.94"/><circle cx="142.6" cy="116.5" r="0.7" fill="#2a2628"/><ellipse cx="37.3" cy="120.6" rx="1.4" ry="2.1" fill="#4a3a34" opacity="0.76"/><circle cx="37.3" cy="117.7" r="0.8" fill="#4a3a34"/><ellipse cx="154.6" cy="120.8" rx="1.0" ry="2.2" fill="#3e3430" opacity="0.94"/><circle cx="154.6" cy="117.8" r="0.5" fill="#3e3430"/><ellipse cx="129.2" cy="120.8" rx="1.4" ry="3.5" fill="#1e1c1e" opacity="0.93"/><circle cx="129.2" cy="116.5" r="0.8" fill="#1e1c1e"/><ellipse cx="112.7" cy="120.9" rx="1.5" ry="2.4" fill="#33323c" opacity="0.76"/><circle cx="112.7" cy="117.6" r="0.8" fill="#33323c"/><ellipse cx="101.7" cy="120.9" rx="1.5" ry="3.2" fill="#5a5660" opacity="0.76"/><circle cx="101.7" cy="116.8" r="0.8" fill="#5a5660"/><ellipse cx="62.9" cy="120.9" rx="1.4" ry="2.4" fill="#33323c" opacity="0.94"/><circle cx="62.9" cy="117.7" r="0.8" fill="#33323c"/><ellipse cx="160.9" cy="121.0" rx="1.4" ry="2.5" fill="#2a2628" opacity="0.83"/><circle cx="160.9" cy="117.7" r="0.8" fill="#2a2628"/><ellipse cx="51.0" cy="121.2" rx="1.3" ry="3.6" fill="#3e3430" opacity="0.78"/><circle cx="51.0" cy="116.8" r="0.7" fill="#3e3430"/><ellipse cx="38.7" cy="121.2" rx="1.0" ry="2.4" fill="#3e3430" opacity="0.76"/><circle cx="38.7" cy="118.0" r="0.6" fill="#3e3430"/><ellipse cx="245.5" cy="121.6" rx="1.6" ry="3.1" fill="#2a2628" opacity="0.78"/><circle cx="245.5" cy="117.7" r="0.9" fill="#2a2628"/><ellipse cx="116.4" cy="121.7" rx="1.2" ry="2.6" fill="#3e3430" opacity="0.85"/><circle cx="116.4" cy="118.4" r="0.6" fill="#3e3430"/><ellipse cx="44.9" cy="121.8" rx="1.0" ry="2.3" fill="#3e3430" opacity="0.80"/><circle cx="44.9" cy="118.7" r="0.6" fill="#3e3430"/><ellipse cx="139.6" cy="122.2" rx="1.5" ry="2.4" fill="#6a5040" opacity="0.81"/><circle cx="139.6" cy="119.0" r="0.8" fill="#6a5040"/><ellipse cx="43.3" cy="122.2" rx="1.1" ry="2.3" fill="#4a3a34" opacity="0.78"/><circle cx="43.3" cy="119.1" r="0.6" fill="#4a3a34"/><ellipse cx="210.7" cy="122.5" rx="1.1" ry="3.2" fill="#3e3430" opacity="0.78"/><circle cx="210.7" cy="118.5" r="0.6" fill="#3e3430"/><ellipse cx="236.0" cy="122.6" rx="1.5" ry="3.7" fill="#1e1c1e" opacity="0.91"/><circle cx="236.0" cy="118.1" r="0.9" fill="#1e1c1e"/><ellipse cx="105.5" cy="122.9" rx="1.4" ry="3.6" fill="#6a5040" opacity="0.81"/><circle cx="105.5" cy="118.4" r="0.8" fill="#6a5040"/><ellipse cx="150.3" cy="123.3" rx="1.4" ry="2.3" fill="#4a3a34" opacity="0.76"/><circle cx="150.3" cy="120.1" r="0.8" fill="#4a3a34"/><ellipse cx="156.0" cy="123.4" rx="1.3" ry="2.8" fill="#4a3a34" opacity="0.80"/><circle cx="156.0" cy="119.8" r="0.7" fill="#4a3a34"/><ellipse cx="130.6" cy="123.7" rx="1.2" ry="2.6" fill="#2a2628" opacity="0.89"/><circle cx="130.6" cy="120.3" r="0.7" fill="#2a2628"/><ellipse cx="61.3" cy="123.8" rx="1.4" ry="3.8" fill="#2a2628" opacity="0.80"/><circle cx="61.3" cy="119.2" r="0.7" fill="#2a2628"/><ellipse cx="110.9" cy="124.1" rx="1.1" ry="3.1" fill="#4a3a34" opacity="0.92"/><circle cx="110.9" cy="120.2" r="0.6" fill="#4a3a34"/><ellipse cx="126.9" cy="124.3" rx="1.1" ry="2.6" fill="#33323c" opacity="0.93"/><circle cx="126.9" cy="121.0" r="0.6" fill="#33323c"/><ellipse cx="214.0" cy="124.4" rx="1.4" ry="3.5" fill="#5a5660" opacity="0.88"/><circle cx="214.0" cy="120.0" r="0.7" fill="#5a5660"/><ellipse cx="153.3" cy="124.4" rx="1.5" ry="3.6" fill="#24262e" opacity="0.82"/><circle cx="153.3" cy="120.1" r="0.8" fill="#24262e"/><ellipse cx="89.6" cy="125.2" rx="1.1" ry="3.1" fill="#24262e" opacity="0.90"/><circle cx="89.6" cy="121.3" r="0.6" fill="#24262e"/><ellipse cx="63.2" cy="125.3" rx="1.3" ry="3.5" fill="#5a5660" opacity="0.93"/><circle cx="63.2" cy="121.0" r="0.7" fill="#5a5660"/><ellipse cx="223.4" cy="125.3" rx="1.3" ry="3.2" fill="#5a5660" opacity="0.78"/><circle cx="223.4" cy="121.4" r="0.7" fill="#5a5660"/><ellipse cx="0.2" cy="125.6" rx="1.7" ry="3.7" fill="#5a5660" opacity="0.92"/><circle cx="0.2" cy="121.1" r="0.9" fill="#5a5660"/><ellipse cx="199.9" cy="125.7" rx="1.7" ry="3.7" fill="#4a3a34" opacity="0.95"/><circle cx="199.9" cy="121.2" r="0.9" fill="#4a3a34"/><ellipse cx="133.2" cy="125.9" rx="1.5" ry="3.2" fill="#4a3a34" opacity="0.90"/><circle cx="133.2" cy="121.9" r="0.8" fill="#4a3a34"/><ellipse cx="95.0" cy="126.1" rx="1.5" ry="2.3" fill="#4a3a34" opacity="0.89"/><circle cx="95.0" cy="123.0" r="0.8" fill="#4a3a34"/><ellipse cx="104.4" cy="126.3" rx="1.7" ry="3.6" fill="#3e3430" opacity="0.77"/><circle cx="104.4" cy="121.9" r="0.9" fill="#3e3430"/><ellipse cx="202.2" cy="126.8" rx="1.5" ry="2.5" fill="#6a5040" opacity="0.81"/><circle cx="202.2" cy="123.5" r="0.9" fill="#6a5040"/><ellipse cx="42.4" cy="126.8" rx="1.2" ry="3.6" fill="#5a5660" opacity="0.87"/><circle cx="42.4" cy="122.4" r="0.6" fill="#5a5660"/><ellipse cx="54.1" cy="126.9" rx="1.3" ry="3.4" fill="#4a3a34" opacity="0.80"/><circle cx="54.1" cy="122.7" r="0.7" fill="#4a3a34"/><ellipse cx="136.7" cy="127.1" rx="1.3" ry="2.5" fill="#24262e" opacity="0.85"/><circle cx="136.7" cy="123.8" r="0.7" fill="#24262e"/><ellipse cx="76.3" cy="127.2" rx="1.7" ry="2.5" fill="#6a5040" opacity="0.91"/><circle cx="76.3" cy="123.9" r="0.9" fill="#6a5040"/><ellipse cx="79.1" cy="127.7" rx="1.6" ry="2.7" fill="#33323c" opacity="0.84"/><circle cx="79.1" cy="124.2" r="0.9" fill="#33323c"/><ellipse cx="228.0" cy="127.8" rx="1.7" ry="3.2" fill="#2a2628" opacity="0.91"/><circle cx="228.0" cy="123.9" r="1.0" fill="#2a2628"/><ellipse cx="11.2" cy="128.1" rx="1.7" ry="2.6" fill="#3e3430" opacity="0.80"/><circle cx="11.2" cy="124.6" r="0.9" fill="#3e3430"/><ellipse cx="60.6" cy="128.3" rx="1.6" ry="2.7" fill="#3e3430" opacity="0.77"/><circle cx="60.6" cy="124.8" r="0.9" fill="#3e3430"/><ellipse cx="216.4" cy="128.3" rx="1.2" ry="3.6" fill="#1e1c1e" opacity="0.88"/><circle cx="216.4" cy="124.0" r="0.7" fill="#1e1c1e"/><ellipse cx="65.0" cy="128.5" rx="1.6" ry="2.8" fill="#5a5660" opacity="0.75"/><circle cx="65.0" cy="125.0" r="0.9" fill="#5a5660"/><ellipse cx="148.5" cy="129.4" rx="1.4" ry="2.8" fill="#1e1c1e" opacity="0.93"/><circle cx="148.5" cy="125.9" r="0.8" fill="#1e1c1e"/><ellipse cx="175.5" cy="129.7" rx="1.3" ry="3.7" fill="#2a2628" opacity="0.95"/><circle cx="175.5" cy="125.2" r="0.7" fill="#2a2628"/><ellipse cx="72.7" cy="129.7" rx="1.4" ry="2.6" fill="#3e3430" opacity="0.94"/><circle cx="72.7" cy="126.4" r="0.8" fill="#3e3430"/><ellipse cx="148.0" cy="130.1" rx="1.3" ry="4.0" fill="#3e3430" opacity="0.89"/><circle cx="148.0" cy="125.2" r="0.7" fill="#3e3430"/><ellipse cx="32.9" cy="130.1" rx="1.5" ry="3.2" fill="#6a5040" opacity="0.79"/><circle cx="32.9" cy="126.1" r="0.8" fill="#6a5040"/><ellipse cx="62.2" cy="130.8" rx="1.3" ry="3.0" fill="#24262e" opacity="0.94"/><circle cx="62.2" cy="127.0" r="0.7" fill="#24262e"/><ellipse cx="218.3" cy="131.0" rx="1.7" ry="2.9" fill="#2a2628" opacity="0.88"/><circle cx="218.3" cy="127.2" r="0.9" fill="#2a2628"/><ellipse cx="228.0" cy="131.4" rx="1.2" ry="3.7" fill="#6a5040" opacity="0.77"/><circle cx="228.0" cy="126.9" r="0.7" fill="#6a5040"/><ellipse cx="74.9" cy="131.6" rx="1.3" ry="3.4" fill="#5a5660" opacity="0.85"/><circle cx="74.9" cy="127.4" r="0.7" fill="#5a5660"/><ellipse cx="69.6" cy="131.7" rx="1.7" ry="3.2" fill="#2a2628" opacity="0.93"/><circle cx="69.6" cy="127.8" r="0.9" fill="#2a2628"/><ellipse cx="79.8" cy="131.7" rx="1.7" ry="4.1" fill="#3e3430" opacity="0.87"/><circle cx="79.8" cy="126.9" r="0.9" fill="#3e3430"/><ellipse cx="10.4" cy="132.0" rx="1.2" ry="3.6" fill="#24262e" opacity="0.82"/><circle cx="10.4" cy="127.6" r="0.6" fill="#24262e"/><ellipse cx="101.9" cy="132.2" rx="1.6" ry="4.1" fill="#2a2628" opacity="0.95"/><circle cx="101.9" cy="127.4" r="0.9" fill="#2a2628"/><ellipse cx="43.2" cy="132.3" rx="1.5" ry="3.9" fill="#4a3a34" opacity="0.85"/><circle cx="43.2" cy="127.6" r="0.8" fill="#4a3a34"/><ellipse cx="232.1" cy="132.5" rx="1.8" ry="3.5" fill="#33323c" opacity="0.76"/><circle cx="232.1" cy="128.2" r="1.0" fill="#33323c"/><ellipse cx="45.0" cy="132.6" rx="1.8" ry="3.0" fill="#3e3430" opacity="0.78"/><circle cx="45.0" cy="128.8" r="1.0" fill="#3e3430"/><ellipse cx="8.8" cy="132.8" rx="1.4" ry="3.9" fill="#3e3430" opacity="0.84"/><circle cx="8.8" cy="128.1" r="0.8" fill="#3e3430"/><ellipse cx="164.3" cy="132.8" rx="1.3" ry="3.5" fill="#6a5040" opacity="0.89"/><circle cx="164.3" cy="128.5" r="0.7" fill="#6a5040"/><ellipse cx="60.4" cy="133.3" rx="1.7" ry="3.2" fill="#5a5660" opacity="0.84"/><circle cx="60.4" cy="129.4" r="0.9" fill="#5a5660"/><ellipse cx="5.9" cy="134.1" rx="1.5" ry="3.6" fill="#33323c" opacity="0.87"/><circle cx="5.9" cy="129.7" r="0.8" fill="#33323c"/><ellipse cx="5.1" cy="134.3" rx="1.6" ry="3.7" fill="#4a3a34" opacity="0.86"/><circle cx="5.1" cy="129.8" r="0.9" fill="#4a3a34"/><ellipse cx="7.9" cy="134.8" rx="1.9" ry="3.8" fill="#24262e" opacity="0.81"/><circle cx="7.9" cy="130.1" r="1.0" fill="#24262e"/><ellipse cx="170.9" cy="134.8" rx="1.7" ry="3.5" fill="#33323c" opacity="0.76"/><circle cx="170.9" cy="130.5" r="0.9" fill="#33323c"/><ellipse cx="13.8" cy="135.1" rx="1.8" ry="3.3" fill="#2a2628" opacity="0.83"/><circle cx="13.8" cy="131.0" r="1.0" fill="#2a2628"/><ellipse cx="26.7" cy="135.1" rx="1.4" ry="4.0" fill="#3e3430" opacity="0.91"/><circle cx="26.7" cy="130.4" r="0.8" fill="#3e3430"/><ellipse cx="27.3" cy="135.3" rx="1.8" ry="2.9" fill="#2a2628" opacity="0.94"/><circle cx="27.3" cy="131.6" r="1.0" fill="#2a2628"/><ellipse cx="118.4" cy="135.5" rx="1.3" ry="2.9" fill="#24262e" opacity="0.75"/><circle cx="118.4" cy="131.8" r="0.7" fill="#24262e"/><ellipse cx="185.3" cy="135.6" rx="1.9" ry="4.4" fill="#1e1c1e" opacity="0.83"/><circle cx="185.3" cy="130.4" r="1.1" fill="#1e1c1e"/><ellipse cx="99.7" cy="136.0" rx="1.6" ry="2.7" fill="#2a2628" opacity="0.94"/><circle cx="99.7" cy="132.5" r="0.9" fill="#2a2628"/><ellipse cx="141.2" cy="136.2" rx="2.0" ry="4.0" fill="#3e3430" opacity="0.87"/><circle cx="141.2" cy="131.4" r="1.1" fill="#3e3430"/><ellipse cx="64.3" cy="136.6" rx="1.3" ry="3.5" fill="#33323c" opacity="0.76"/><circle cx="64.3" cy="132.3" r="0.7" fill="#33323c"/><ellipse cx="226.9" cy="137.3" rx="1.7" ry="4.3" fill="#2a2628" opacity="0.75"/><circle cx="226.9" cy="132.2" r="0.9" fill="#2a2628"/><ellipse cx="18.7" cy="137.5" rx="1.3" ry="3.3" fill="#4a3a34" opacity="0.82"/><circle cx="18.7" cy="133.4" r="0.7" fill="#4a3a34"/><ellipse cx="230.1" cy="137.5" rx="1.3" ry="3.5" fill="#3e3430" opacity="0.78"/><circle cx="230.1" cy="133.2" r="0.7" fill="#3e3430"/><ellipse cx="118.7" cy="138.1" rx="2.0" ry="4.3" fill="#5a5660" opacity="0.94"/><circle cx="118.7" cy="133.0" r="1.1" fill="#5a5660"/><ellipse cx="98.3" cy="138.3" rx="1.5" ry="3.4" fill="#6a5040" opacity="0.82"/><circle cx="98.3" cy="134.1" r="0.8" fill="#6a5040"/><ellipse cx="67.4" cy="138.7" rx="1.5" ry="3.3" fill="#1e1c1e" opacity="0.92"/><circle cx="67.4" cy="134.6" r="0.9" fill="#1e1c1e"/><ellipse cx="77.6" cy="138.8" rx="1.3" ry="4.3" fill="#5a5660" opacity="0.86"/><circle cx="77.6" cy="133.8" r="0.7" fill="#5a5660"/><ellipse cx="45.4" cy="139.0" rx="1.5" ry="4.2" fill="#1e1c1e" opacity="0.89"/><circle cx="45.4" cy="134.0" r="0.8" fill="#1e1c1e"/><ellipse cx="96.9" cy="139.5" rx="1.4" ry="4.0" fill="#1e1c1e" opacity="0.80"/><circle cx="96.9" cy="134.8" r="0.8" fill="#1e1c1e"/><ellipse cx="221.0" cy="139.8" rx="1.6" ry="4.2" fill="#4a3a34" opacity="0.90"/><circle cx="221.0" cy="134.8" r="0.9" fill="#4a3a34"/><ellipse cx="181.7" cy="141.0" rx="1.3" ry="3.2" fill="#5a5660" opacity="0.78"/><circle cx="181.7" cy="137.0" r="0.7" fill="#5a5660"/><ellipse cx="2.7" cy="141.2" rx="1.6" ry="3.9" fill="#5a5660" opacity="0.78"/><circle cx="2.7" cy="136.5" r="0.9" fill="#5a5660"/><ellipse cx="68.4" cy="141.2" rx="1.8" ry="3.5" fill="#1e1c1e" opacity="0.87"/><circle cx="68.4" cy="136.9" r="1.0" fill="#1e1c1e"/><ellipse cx="44.1" cy="142.3" rx="1.9" ry="4.0" fill="#33323c" opacity="0.87"/><circle cx="44.1" cy="137.6" r="1.0" fill="#33323c"/><ellipse cx="54.0" cy="142.3" rx="1.8" ry="4.7" fill="#33323c" opacity="0.84"/><circle cx="54.0" cy="136.9" r="1.0" fill="#33323c"/><ellipse cx="236.5" cy="142.5" rx="2.0" ry="3.6" fill="#6a5040" opacity="0.87"/><circle cx="236.5" cy="138.1" r="1.1" fill="#6a5040"/><ellipse cx="38.1" cy="142.5" rx="2.1" ry="4.8" fill="#3e3430" opacity="0.80"/><circle cx="38.1" cy="136.9" r="1.1" fill="#3e3430"/><ellipse cx="95.5" cy="142.8" rx="2.1" ry="4.5" fill="#2a2628" opacity="0.94"/><circle cx="95.5" cy="137.5" r="1.1" fill="#2a2628"/><ellipse cx="142.5" cy="143.4" rx="1.6" ry="4.7" fill="#6a5040" opacity="0.85"/><circle cx="142.5" cy="137.9" r="0.9" fill="#6a5040"/><ellipse cx="26.5" cy="143.9" rx="1.4" ry="4.4" fill="#3e3430" opacity="0.89"/><circle cx="26.5" cy="138.7" r="0.7" fill="#3e3430"/><ellipse cx="143.2" cy="145.0" rx="1.6" ry="3.6" fill="#2a2628" opacity="0.87"/><circle cx="143.2" cy="140.7" r="0.9" fill="#2a2628"/><ellipse cx="25.2" cy="145.1" rx="1.4" ry="4.5" fill="#33323c" opacity="0.93"/><circle cx="25.2" cy="139.9" r="0.8" fill="#33323c"/><ellipse cx="14.6" cy="145.3" rx="1.9" ry="4.6" fill="#33323c" opacity="0.88"/><circle cx="14.6" cy="139.9" r="1.1" fill="#33323c"/><ellipse cx="140.4" cy="145.3" rx="1.4" ry="3.3" fill="#6a5040" opacity="0.84"/><circle cx="140.4" cy="141.3" r="0.8" fill="#6a5040"/><ellipse cx="82.9" cy="145.5" rx="1.7" ry="5.0" fill="#33323c" opacity="0.86"/><circle cx="82.9" cy="139.8" r="0.9" fill="#33323c"/><ellipse cx="222.1" cy="145.9" rx="2.2" ry="3.5" fill="#3e3430" opacity="0.93"/><circle cx="222.1" cy="141.6" r="1.2" fill="#3e3430"/><ellipse cx="29.6" cy="146.5" rx="1.9" ry="3.3" fill="#5a5660" opacity="0.90"/><circle cx="29.6" cy="142.4" r="1.0" fill="#5a5660"/><ellipse cx="135.7" cy="147.3" rx="2.2" ry="4.7" fill="#24262e" opacity="0.94"/><circle cx="135.7" cy="141.8" r="1.2" fill="#24262e"/><ellipse cx="17.4" cy="148.0" rx="1.4" ry="3.9" fill="#1e1c1e" opacity="0.81"/><circle cx="17.4" cy="143.4" r="0.8" fill="#1e1c1e"/><ellipse cx="5.8" cy="148.5" rx="1.9" ry="3.7" fill="#33323c" opacity="0.86"/><circle cx="5.8" cy="144.0" r="1.1" fill="#33323c"/><ellipse cx="27.2" cy="149.4" rx="2.2" ry="4.6" fill="#24262e" opacity="0.83"/><circle cx="27.2" cy="143.9" r="1.2" fill="#24262e"/><ellipse cx="66.1" cy="149.6" rx="2.3" ry="3.9" fill="#3e3430" opacity="0.89"/><circle cx="66.1" cy="144.9" r="1.3" fill="#3e3430"/><ellipse cx="186.5" cy="149.8" rx="2.0" ry="5.0" fill="#6a5040" opacity="0.82"/><circle cx="186.5" cy="144.0" r="1.1" fill="#6a5040"/><ellipse cx="21.7" cy="149.8" rx="2.1" ry="4.6" fill="#4a3a34" opacity="0.88"/><circle cx="21.7" cy="144.4" r="1.1" fill="#4a3a34"/><ellipse cx="48.0" cy="150.1" rx="1.6" ry="5.3" fill="#2a2628" opacity="0.88"/><circle cx="48.0" cy="144.0" r="0.9" fill="#2a2628"/><ellipse cx="181.8" cy="150.2" rx="1.6" ry="4.5" fill="#33323c" opacity="0.75"/><circle cx="181.8" cy="144.9" r="0.9" fill="#33323c"/><ellipse cx="105.2" cy="150.3" rx="2.2" ry="3.3" fill="#2a2628" opacity="0.85"/><circle cx="105.2" cy="146.1" r="1.2" fill="#2a2628"/><ellipse cx="95.5" cy="150.3" rx="2.2" ry="4.0" fill="#6a5040" opacity="0.77"/><circle cx="95.5" cy="145.5" r="1.2" fill="#6a5040"/><ellipse cx="111.4" cy="150.4" rx="2.3" ry="4.3" fill="#4a3a34" opacity="0.90"/><circle cx="111.4" cy="145.3" r="1.3" fill="#4a3a34"/><ellipse cx="123.4" cy="150.8" rx="1.5" ry="5.3" fill="#6a5040" opacity="0.91"/><circle cx="123.4" cy="144.7" r="0.8" fill="#6a5040"/><ellipse cx="71.4" cy="150.8" rx="1.7" ry="3.9" fill="#5a5660" opacity="0.88"/><circle cx="71.4" cy="146.1" r="0.9" fill="#5a5660"/><ellipse cx="26.1" cy="151.0" rx="2.2" ry="5.1" fill="#33323c" opacity="0.89"/><circle cx="26.1" cy="145.1" r="1.2" fill="#33323c"/><ellipse cx="125.6" cy="151.1" rx="1.9" ry="4.7" fill="#6a5040" opacity="0.88"/><circle cx="125.6" cy="145.6" r="1.1" fill="#6a5040"/><ellipse cx="210.2" cy="151.3" rx="2.3" ry="4.7" fill="#24262e" opacity="0.83"/><circle cx="210.2" cy="145.8" r="1.2" fill="#24262e"/><ellipse cx="158.0" cy="151.5" rx="2.3" ry="3.3" fill="#3e3430" opacity="0.85"/><circle cx="158.0" cy="147.4" r="1.3" fill="#3e3430"/><ellipse cx="99.7" cy="151.7" rx="1.7" ry="3.9" fill="#4a3a34" opacity="0.92"/><circle cx="99.7" cy="147.0" r="0.9" fill="#4a3a34"/><ellipse cx="243.7" cy="151.7" rx="2.2" ry="5.0" fill="#4a3a34" opacity="0.86"/><circle cx="243.7" cy="145.9" r="1.2" fill="#4a3a34"/><ellipse cx="131.1" cy="151.9" rx="2.1" ry="4.8" fill="#5a5660" opacity="0.76"/><circle cx="131.1" cy="146.3" r="1.1" fill="#5a5660"/><ellipse cx="182.0" cy="152.1" rx="2.3" ry="4.4" fill="#33323c" opacity="0.81"/><circle cx="182.0" cy="147.0" r="1.3" fill="#33323c"/><ellipse cx="188.1" cy="152.3" rx="2.4" ry="4.8" fill="#6a5040" opacity="0.88"/><circle cx="188.1" cy="146.8" r="1.3" fill="#6a5040"/><ellipse cx="44.2" cy="153.0" rx="2.0" ry="3.5" fill="#3e3430" opacity="0.76"/><circle cx="44.2" cy="148.7" r="1.1" fill="#3e3430"/><ellipse cx="77.8" cy="153.2" rx="2.4" ry="4.8" fill="#2a2628" opacity="0.78"/><circle cx="77.8" cy="147.6" r="1.3" fill="#2a2628"/><ellipse cx="0.8" cy="153.6" rx="1.6" ry="4.6" fill="#6a5040" opacity="0.76"/><circle cx="0.8" cy="148.2" r="0.9" fill="#6a5040"/><ellipse cx="15.0" cy="153.7" rx="1.7" ry="5.6" fill="#1e1c1e" opacity="0.86"/><circle cx="15.0" cy="147.3" r="0.9" fill="#1e1c1e"/><ellipse cx="51.3" cy="153.7" rx="2.1" ry="4.5" fill="#24262e" opacity="0.76"/><circle cx="51.3" cy="148.4" r="1.2" fill="#24262e"/><ellipse cx="39.0" cy="153.8" rx="2.0" ry="3.6" fill="#5a5660" opacity="0.81"/><circle cx="39.0" cy="149.4" r="1.1" fill="#5a5660"/><ellipse cx="81.5" cy="153.8" rx="1.9" ry="4.9" fill="#3e3430" opacity="0.76"/><circle cx="81.5" cy="148.1" r="1.0" fill="#3e3430"/><ellipse cx="26.8" cy="153.9" rx="2.4" ry="5.1" fill="#2a2628" opacity="0.87"/><circle cx="26.8" cy="148.0" r="1.3" fill="#2a2628"/><ellipse cx="34.6" cy="153.9" rx="2.3" ry="5.6" fill="#2a2628" opacity="0.83"/><circle cx="34.6" cy="147.5" r="1.3" fill="#2a2628"/><ellipse cx="101.1" cy="154.1" rx="2.3" ry="5.4" fill="#5a5660" opacity="0.76"/><circle cx="101.1" cy="147.9" r="1.3" fill="#5a5660"/><ellipse cx="34.4" cy="154.2" rx="2.1" ry="4.9" fill="#4a3a34" opacity="0.79"/><circle cx="34.4" cy="148.5" r="1.2" fill="#4a3a34"/><ellipse cx="132.9" cy="154.4" rx="1.8" ry="5.5" fill="#1e1c1e" opacity="0.88"/><circle cx="132.9" cy="148.0" r="1.0" fill="#1e1c1e"/><ellipse cx="148.5" cy="154.6" rx="1.5" ry="5.6" fill="#3e3430" opacity="0.77"/><circle cx="148.5" cy="148.2" r="0.9" fill="#3e3430"/><ellipse cx="75.4" cy="155.0" rx="2.1" ry="4.6" fill="#6a5040" opacity="0.82"/><circle cx="75.4" cy="149.6" r="1.2" fill="#6a5040"/><ellipse cx="129.2" cy="155.4" rx="1.8" ry="3.5" fill="#5a5660" opacity="0.76"/><circle cx="129.2" cy="151.2" r="1.0" fill="#5a5660"/><ellipse cx="217.5" cy="155.5" rx="1.9" ry="4.2" fill="#1e1c1e" opacity="0.76"/><circle cx="217.5" cy="150.5" r="1.0" fill="#1e1c1e"/><ellipse cx="192.2" cy="156.1" rx="1.9" ry="4.6" fill="#24262e" opacity="0.92"/><circle cx="192.2" cy="150.7" r="1.1" fill="#24262e"/><ellipse cx="142.9" cy="156.1" rx="1.6" ry="5.2" fill="#1e1c1e" opacity="0.78"/><circle cx="142.9" cy="150.2" r="0.9" fill="#1e1c1e"/><ellipse cx="79.3" cy="156.2" rx="2.4" ry="5.0" fill="#24262e" opacity="0.81"/><circle cx="79.3" cy="150.3" r="1.3" fill="#24262e"/><ellipse cx="77.2" cy="157.0" rx="2.4" ry="5.4" fill="#6a5040" opacity="0.88"/><circle cx="77.2" cy="150.8" r="1.3" fill="#6a5040"/><ellipse cx="91.4" cy="157.2" rx="2.0" ry="4.8" fill="#5a5660" opacity="0.85"/><circle cx="91.4" cy="151.6" r="1.1" fill="#5a5660"/><ellipse cx="32.0" cy="157.2" rx="2.4" ry="4.3" fill="#4a3a34" opacity="0.94"/><circle cx="32.0" cy="152.1" r="1.3" fill="#4a3a34"/><ellipse cx="137.3" cy="157.7" rx="1.7" ry="5.5" fill="#33323c" opacity="0.88"/><circle cx="137.3" cy="151.4" r="0.9" fill="#33323c"/><ellipse cx="80.4" cy="158.3" rx="2.0" ry="4.9" fill="#1e1c1e" opacity="0.89"/><circle cx="80.4" cy="152.6" r="1.1" fill="#1e1c1e"/><ellipse cx="46.3" cy="158.5" rx="1.6" ry="5.8" fill="#6a5040" opacity="0.84"/><circle cx="46.3" cy="151.8" r="0.9" fill="#6a5040"/><ellipse cx="49.0" cy="159.0" rx="1.6" ry="4.6" fill="#1e1c1e" opacity="0.81"/><circle cx="49.0" cy="153.5" r="0.9" fill="#1e1c1e"/><ellipse cx="239.2" cy="159.0" rx="2.5" ry="4.8" fill="#5a5660" opacity="0.88"/><circle cx="239.2" cy="153.4" r="1.4" fill="#5a5660"/><ellipse cx="55.5" cy="159.2" rx="2.0" ry="4.0" fill="#2a2628" opacity="0.78"/><circle cx="55.5" cy="154.3" r="1.1" fill="#2a2628"/><ellipse cx="183.8" cy="159.6" rx="2.4" ry="5.3" fill="#2a2628" opacity="0.80"/><circle cx="183.8" cy="153.5" r="1.3" fill="#2a2628"/><ellipse cx="78.9" cy="159.6" rx="1.9" ry="5.5" fill="#33323c" opacity="0.90"/><circle cx="78.9" cy="153.3" r="1.0" fill="#33323c"/><ellipse cx="209.9" cy="159.8" rx="2.5" ry="5.1" fill="#2a2628" opacity="0.80"/><circle cx="209.9" cy="153.8" r="1.4" fill="#2a2628"/><ellipse cx="105.7" cy="160.6" rx="2.0" ry="4.3" fill="#24262e" opacity="0.81"/><circle cx="105.7" cy="155.4" r="1.1" fill="#24262e"/><ellipse cx="139.7" cy="161.1" rx="2.0" ry="4.3" fill="#24262e" opacity="0.93"/><circle cx="139.7" cy="156.0" r="1.1" fill="#24262e"/><ellipse cx="131.8" cy="161.3" rx="1.6" ry="6.0" fill="#5a5660" opacity="0.77"/><circle cx="131.8" cy="154.5" r="0.9" fill="#5a5660"/><ellipse cx="133.7" cy="161.5" rx="1.8" ry="4.0" fill="#2a2628" opacity="0.85"/><circle cx="133.7" cy="156.6" r="1.0" fill="#2a2628"/><ellipse cx="74.2" cy="161.6" rx="2.2" ry="3.9" fill="#2a2628" opacity="0.89"/><circle cx="74.2" cy="156.9" r="1.2" fill="#2a2628"/><ellipse cx="30.2" cy="161.9" rx="1.8" ry="4.9" fill="#5a5660" opacity="0.76"/><circle cx="30.2" cy="156.1" r="1.0" fill="#5a5660"/><ellipse cx="45.4" cy="162.0" rx="2.4" ry="3.8" fill="#24262e" opacity="0.91"/><circle cx="45.4" cy="157.4" r="1.3" fill="#24262e"/><ellipse cx="204.3" cy="162.3" rx="2.4" ry="3.6" fill="#24262e" opacity="0.94"/><circle cx="204.3" cy="157.9" r="1.3" fill="#24262e"/><ellipse cx="36.6" cy="162.4" rx="2.5" ry="5.3" fill="#6a5040" opacity="0.88"/><circle cx="36.6" cy="156.2" r="1.4" fill="#6a5040"/><ellipse cx="42.7" cy="162.6" rx="2.2" ry="4.4" fill="#1e1c1e" opacity="0.84"/><circle cx="42.7" cy="157.4" r="1.2" fill="#1e1c1e"/><ellipse cx="38.5" cy="163.5" rx="1.8" ry="4.4" fill="#1e1c1e" opacity="0.88"/><circle cx="38.5" cy="158.3" r="1.0" fill="#1e1c1e"/><ellipse cx="30.5" cy="164.1" rx="1.7" ry="4.3" fill="#24262e" opacity="0.89"/><circle cx="30.5" cy="159.0" r="0.9" fill="#24262e"/><ellipse cx="34.9" cy="164.2" rx="2.3" ry="5.2" fill="#5a5660" opacity="0.83"/><circle cx="34.9" cy="158.2" r="1.3" fill="#5a5660"/><ellipse cx="62.5" cy="164.2" rx="1.9" ry="5.2" fill="#33323c" opacity="0.94"/><circle cx="62.5" cy="158.1" r="1.1" fill="#33323c"/><ellipse cx="194.4" cy="164.3" rx="2.5" ry="4.3" fill="#3e3430" opacity="0.92"/><circle cx="194.4" cy="159.2" r="1.4" fill="#3e3430"/><ellipse cx="149.9" cy="164.6" rx="2.2" ry="5.4" fill="#24262e" opacity="0.95"/><circle cx="149.9" cy="158.4" r="1.2" fill="#24262e"/><ellipse cx="18.5" cy="164.8" rx="2.6" ry="5.6" fill="#33323c" opacity="0.78"/><circle cx="18.5" cy="158.4" r="1.4" fill="#33323c"/><ellipse cx="45.2" cy="165.1" rx="1.9" ry="4.2" fill="#6a5040" opacity="0.80"/><circle cx="45.2" cy="160.0" r="1.0" fill="#6a5040"/><ellipse cx="18.1" cy="165.5" rx="2.2" ry="4.3" fill="#6a5040" opacity="0.81"/><circle cx="18.1" cy="160.4" r="1.2" fill="#6a5040"/><ellipse cx="5.9" cy="165.6" rx="2.2" ry="6.0" fill="#2a2628" opacity="0.83"/><circle cx="5.9" cy="158.7" r="1.2" fill="#2a2628"/><ellipse cx="11.1" cy="165.7" rx="2.4" ry="3.9" fill="#2a2628" opacity="0.80"/><circle cx="11.1" cy="161.0" r="1.3" fill="#2a2628"/><ellipse cx="111.3" cy="165.9" rx="2.2" ry="5.1" fill="#3e3430" opacity="0.87"/><circle cx="111.3" cy="160.1" r="1.2" fill="#3e3430"/><ellipse cx="86.4" cy="165.9" rx="1.9" ry="5.3" fill="#24262e" opacity="0.90"/><circle cx="86.4" cy="159.8" r="1.1" fill="#24262e"/><ellipse cx="35.4" cy="166.3" rx="2.4" ry="6.3" fill="#2a2628" opacity="0.80"/><circle cx="35.4" cy="159.2" r="1.3" fill="#2a2628"/><ellipse cx="133.9" cy="166.5" rx="2.4" ry="5.9" fill="#2a2628" opacity="0.89"/><circle cx="133.9" cy="159.9" r="1.3" fill="#2a2628"/><ellipse cx="106.3" cy="166.6" rx="2.2" ry="5.9" fill="#1e1c1e" opacity="0.88"/><circle cx="106.3" cy="159.8" r="1.2" fill="#1e1c1e"/><ellipse cx="58.7" cy="166.7" rx="1.8" ry="6.2" fill="#33323c" opacity="0.90"/><circle cx="58.7" cy="159.7" r="1.0" fill="#33323c"/><ellipse cx="23.6" cy="166.7" rx="2.6" ry="4.7" fill="#4a3a34" opacity="0.88"/><circle cx="23.6" cy="161.2" r="1.4" fill="#4a3a34"/><ellipse cx="94.6" cy="167.8" rx="1.9" ry="5.1" fill="#1e1c1e" opacity="0.84"/><circle cx="94.6" cy="161.9" r="1.0" fill="#1e1c1e"/><ellipse cx="87.7" cy="168.0" rx="1.8" ry="6.2" fill="#24262e" opacity="0.83"/><circle cx="87.7" cy="161.0" r="1.0" fill="#24262e"/><ellipse cx="52.5" cy="168.3" rx="2.8" ry="5.5" fill="#4a3a34" opacity="0.83"/><circle cx="52.5" cy="162.0" r="1.5" fill="#4a3a34"/><ellipse cx="217.6" cy="168.4" rx="2.1" ry="6.3" fill="#3e3430" opacity="0.90"/><circle cx="217.6" cy="161.3" r="1.1" fill="#3e3430"/><ellipse cx="60.5" cy="168.4" rx="2.8" ry="5.4" fill="#33323c" opacity="0.75"/><circle cx="60.5" cy="162.3" r="1.5" fill="#33323c"/><ellipse cx="109.9" cy="168.7" rx="2.8" ry="4.2" fill="#6a5040" opacity="0.80"/><circle cx="109.9" cy="163.6" r="1.5" fill="#6a5040"/><ellipse cx="75.0" cy="168.7" rx="1.9" ry="5.0" fill="#5a5660" opacity="0.85"/><circle cx="75.0" cy="162.8" r="1.0" fill="#5a5660"/><ellipse cx="80.0" cy="169.9" rx="2.6" ry="5.2" fill="#24262e" opacity="0.93"/><circle cx="80.0" cy="163.9" r="1.5" fill="#24262e"/><ellipse cx="162.4" cy="169.9" rx="2.1" ry="4.8" fill="#6a5040" opacity="0.79"/><circle cx="162.4" cy="164.3" r="1.2" fill="#6a5040"/><ellipse cx="67.6" cy="170.0" rx="2.5" ry="4.4" fill="#24262e" opacity="0.89"/><circle cx="67.6" cy="164.8" r="1.4" fill="#24262e"/><ellipse cx="3.1" cy="170.1" rx="2.2" ry="5.5" fill="#24262e" opacity="0.76"/><circle cx="3.1" cy="163.8" r="1.2" fill="#24262e"/><ellipse cx="52.2" cy="170.5" rx="2.7" ry="5.6" fill="#2a2628" opacity="0.93"/><circle cx="52.2" cy="164.1" r="1.5" fill="#2a2628"/><ellipse cx="47.1" cy="170.7" rx="1.9" ry="6.0" fill="#1e1c1e" opacity="0.85"/><circle cx="47.1" cy="163.8" r="1.1" fill="#1e1c1e"/><ellipse cx="49.4" cy="170.9" rx="2.5" ry="6.6" fill="#6a5040" opacity="0.95"/><circle cx="49.4" cy="163.6" r="1.4" fill="#6a5040"/><ellipse cx="39.2" cy="171.0" rx="2.4" ry="4.9" fill="#24262e" opacity="0.80"/><circle cx="39.2" cy="165.3" r="1.3" fill="#24262e"/><ellipse cx="101.2" cy="171.2" rx="2.6" ry="6.0" fill="#6a5040" opacity="0.87"/><circle cx="101.2" cy="164.4" r="1.4" fill="#6a5040"/><ellipse cx="39.0" cy="171.6" rx="2.6" ry="5.0" fill="#6a5040" opacity="0.77"/><circle cx="39.0" cy="165.8" r="1.4" fill="#6a5040"/><ellipse cx="109.8" cy="171.7" rx="2.7" ry="6.6" fill="#3e3430" opacity="0.78"/><circle cx="109.8" cy="164.3" r="1.5" fill="#3e3430"/><ellipse cx="36.0" cy="171.8" rx="2.7" ry="5.1" fill="#6a5040" opacity="0.84"/><circle cx="36.0" cy="165.9" r="1.5" fill="#6a5040"/><ellipse cx="57.7" cy="171.9" rx="2.3" ry="5.0" fill="#1e1c1e" opacity="0.84"/><circle cx="57.7" cy="166.1" r="1.2" fill="#1e1c1e"/><ellipse cx="5.7" cy="171.9" rx="2.5" ry="5.4" fill="#3e3430" opacity="0.89"/><circle cx="5.7" cy="165.7" r="1.4" fill="#3e3430"/><ellipse cx="61.6" cy="172.0" rx="2.6" ry="4.5" fill="#3e3430" opacity="0.76"/><circle cx="61.6" cy="166.7" r="1.5" fill="#3e3430"/><ellipse cx="62.2" cy="172.1" rx="2.6" ry="4.4" fill="#3e3430" opacity="0.80"/><circle cx="62.2" cy="166.8" r="1.4" fill="#3e3430"/><ellipse cx="5.2" cy="172.2" rx="2.6" ry="4.8" fill="#2a2628" opacity="0.90"/><circle cx="5.2" cy="166.5" r="1.4" fill="#2a2628"/><ellipse cx="68.1" cy="172.5" rx="2.9" ry="5.2" fill="#2a2628" opacity="0.77"/><circle cx="68.1" cy="166.5" r="1.6" fill="#2a2628"/><ellipse cx="193.9" cy="172.7" rx="2.7" ry="4.1" fill="#2a2628" opacity="0.82"/><circle cx="193.9" cy="167.8" r="1.5" fill="#2a2628"/><ellipse cx="32.2" cy="172.8" rx="2.3" ry="4.5" fill="#24262e" opacity="0.76"/><circle cx="32.2" cy="167.4" r="1.3" fill="#24262e"/><ellipse cx="114.1" cy="173.4" rx="2.6" ry="6.3" fill="#2a2628" opacity="0.76"/><circle cx="114.1" cy="166.3" r="1.4" fill="#2a2628"/><ellipse cx="202.5" cy="173.4" rx="2.7" ry="5.9" fill="#6a5040" opacity="0.86"/><circle cx="202.5" cy="166.7" r="1.5" fill="#6a5040"/><ellipse cx="90.8" cy="173.6" rx="2.2" ry="5.5" fill="#33323c" opacity="0.87"/><circle cx="90.8" cy="167.3" r="1.2" fill="#33323c"/><ellipse cx="98.7" cy="173.8" rx="2.9" ry="4.6" fill="#4a3a34" opacity="0.81"/><circle cx="98.7" cy="168.4" r="1.6" fill="#4a3a34"/><ellipse cx="132.0" cy="173.9" rx="2.8" ry="4.6" fill="#33323c" opacity="0.84"/><circle cx="132.0" cy="168.5" r="1.6" fill="#33323c"/><ellipse cx="3.6" cy="174.3" rx="1.8" ry="4.2" fill="#2a2628" opacity="0.76"/><circle cx="3.6" cy="169.3" r="1.0" fill="#2a2628"/><ellipse cx="62.0" cy="174.6" rx="2.6" ry="4.4" fill="#33323c" opacity="0.77"/><circle cx="62.0" cy="169.4" r="1.4" fill="#33323c"/><ellipse cx="90.2" cy="174.8" rx="2.6" ry="5.1" fill="#33323c" opacity="0.79"/><circle cx="90.2" cy="168.9" r="1.4" fill="#33323c"/><ellipse cx="45.5" cy="175.6" rx="2.5" ry="5.7" fill="#1e1c1e" opacity="0.95"/><circle cx="45.5" cy="169.1" r="1.4" fill="#1e1c1e"/><ellipse cx="107.4" cy="175.7" rx="2.7" ry="5.8" fill="#3e3430" opacity="0.76"/><circle cx="107.4" cy="169.1" r="1.5" fill="#3e3430"/><ellipse cx="134.4" cy="175.8" rx="2.0" ry="4.5" fill="#4a3a34" opacity="0.77"/><circle cx="134.4" cy="170.5" r="1.1" fill="#4a3a34"/><ellipse cx="7.7" cy="175.9" rx="2.4" ry="4.3" fill="#3e3430" opacity="0.89"/><circle cx="7.7" cy="170.8" r="1.3" fill="#3e3430"/><ellipse cx="100.6" cy="176.1" rx="2.2" ry="5.2" fill="#4a3a34" opacity="0.76"/><circle cx="100.6" cy="170.1" r="1.2" fill="#4a3a34"/><ellipse cx="123.7" cy="176.2" rx="1.9" ry="4.4" fill="#1e1c1e" opacity="0.90"/><circle cx="123.7" cy="171.0" r="1.1" fill="#1e1c1e"/><ellipse cx="88.5" cy="176.3" rx="2.3" ry="5.4" fill="#2a2628" opacity="0.86"/><circle cx="88.5" cy="170.1" r="1.3" fill="#2a2628"/><ellipse cx="25.8" cy="176.4" rx="2.1" ry="6.9" fill="#4a3a34" opacity="0.81"/><circle cx="25.8" cy="168.7" r="1.2" fill="#4a3a34"/><ellipse cx="142.4" cy="176.5" rx="2.4" ry="5.7" fill="#33323c" opacity="0.94"/><circle cx="142.4" cy="170.0" r="1.3" fill="#33323c"/><ellipse cx="29.7" cy="176.7" rx="2.7" ry="5.5" fill="#24262e" opacity="0.82"/><circle cx="29.7" cy="170.3" r="1.5" fill="#24262e"/><ellipse cx="141.8" cy="177.2" rx="3.0" ry="5.2" fill="#6a5040" opacity="0.84"/><circle cx="141.8" cy="171.2" r="1.6" fill="#6a5040"/><ellipse cx="80.7" cy="177.2" rx="2.2" ry="6.2" fill="#1e1c1e" opacity="0.83"/><circle cx="80.7" cy="170.1" r="1.2" fill="#1e1c1e"/><ellipse cx="103.5" cy="178.0" rx="2.9" ry="6.5" fill="#33323c" opacity="0.82"/><circle cx="103.5" cy="170.7" r="1.6" fill="#33323c"/><ellipse cx="128.9" cy="178.2" rx="2.4" ry="5.4" fill="#33323c" opacity="0.94"/><circle cx="128.9" cy="172.0" r="1.3" fill="#33323c"/><ellipse cx="64.4" cy="178.9" rx="2.5" ry="4.3" fill="#4a3a34" opacity="0.81"/><circle cx="64.4" cy="173.8" r="1.4" fill="#4a3a34"/><ellipse cx="234.3" cy="180.2" rx="2.1" ry="6.9" fill="#4a3a34" opacity="0.92"/><circle cx="234.3" cy="172.5" r="1.1" fill="#4a3a34"/><ellipse cx="29.9" cy="180.6" rx="2.5" ry="5.6" fill="#5a5660" opacity="0.92"/><circle cx="29.9" cy="174.1" r="1.4" fill="#5a5660"/><ellipse cx="127.7" cy="180.8" rx="2.6" ry="6.2" fill="#3e3430" opacity="0.86"/><circle cx="127.7" cy="173.8" r="1.4" fill="#3e3430"/><ellipse cx="25.9" cy="180.9" rx="2.6" ry="4.8" fill="#4a3a34" opacity="0.79"/><circle cx="25.9" cy="175.2" r="1.5" fill="#4a3a34"/><ellipse cx="35.4" cy="181.2" rx="2.2" ry="4.9" fill="#4a3a34" opacity="0.93"/><circle cx="35.4" cy="175.4" r="1.2" fill="#4a3a34"/><ellipse cx="54.6" cy="181.2" rx="3.0" ry="4.5" fill="#33323c" opacity="0.91"/><circle cx="54.6" cy="175.9" r="1.7" fill="#33323c"/><ellipse cx="163.2" cy="181.3" rx="2.9" ry="6.0" fill="#33323c" opacity="0.93"/><circle cx="163.2" cy="174.5" r="1.6" fill="#33323c"/><ellipse cx="224.4" cy="181.8" rx="2.5" ry="6.7" fill="#4a3a34" opacity="0.77"/><circle cx="224.4" cy="174.3" r="1.4" fill="#4a3a34"/><ellipse cx="31.6" cy="181.9" rx="2.1" ry="6.5" fill="#1e1c1e" opacity="0.84"/><circle cx="31.6" cy="174.6" r="1.2" fill="#1e1c1e"/><ellipse cx="43.4" cy="182.2" rx="2.3" ry="4.3" fill="#1e1c1e" opacity="0.85"/><circle cx="43.4" cy="177.1" r="1.3" fill="#1e1c1e"/><ellipse cx="29.7" cy="182.7" rx="3.1" ry="7.1" fill="#4a3a34" opacity="0.83"/><circle cx="29.7" cy="174.8" r="1.7" fill="#4a3a34"/><ellipse cx="208.8" cy="182.8" rx="3.0" ry="7.0" fill="#4a3a34" opacity="0.88"/><circle cx="208.8" cy="174.9" r="1.6" fill="#4a3a34"/><ellipse cx="135.4" cy="183.0" rx="2.0" ry="6.8" fill="#2a2628" opacity="0.91"/><circle cx="135.4" cy="175.4" r="1.1" fill="#2a2628"/><ellipse cx="49.7" cy="183.0" rx="2.8" ry="5.9" fill="#4a3a34" opacity="0.93"/><circle cx="49.7" cy="176.3" r="1.6" fill="#4a3a34"/><ellipse cx="206.1" cy="183.1" rx="2.9" ry="5.5" fill="#33323c" opacity="0.85"/><circle cx="206.1" cy="176.7" r="1.6" fill="#33323c"/><ellipse cx="46.7" cy="183.1" rx="2.9" ry="6.8" fill="#2a2628" opacity="0.94"/><circle cx="46.7" cy="175.5" r="1.6" fill="#2a2628"/><ellipse cx="146.1" cy="183.2" rx="2.5" ry="6.4" fill="#24262e" opacity="0.87"/><circle cx="146.1" cy="176.1" r="1.4" fill="#24262e"/><ellipse cx="147.5" cy="183.8" rx="2.7" ry="4.9" fill="#3e3430" opacity="0.83"/><circle cx="147.5" cy="178.1" r="1.5" fill="#3e3430"/><ellipse cx="24.0" cy="184.3" rx="2.2" ry="6.0" fill="#4a3a34" opacity="0.75"/><circle cx="24.0" cy="177.5" r="1.2" fill="#4a3a34"/><ellipse cx="177.5" cy="184.6" rx="2.6" ry="4.7" fill="#4a3a34" opacity="0.77"/><circle cx="177.5" cy="179.1" r="1.4" fill="#4a3a34"/><ellipse cx="193.5" cy="184.9" rx="2.6" ry="5.1" fill="#6a5040" opacity="0.79"/><circle cx="193.5" cy="179.0" r="1.4" fill="#6a5040"/><ellipse cx="96.8" cy="184.9" rx="2.1" ry="7.3" fill="#5a5660" opacity="0.95"/><circle cx="96.8" cy="176.9" r="1.2" fill="#5a5660"/><ellipse cx="222.8" cy="185.3" rx="2.5" ry="4.7" fill="#1e1c1e" opacity="0.87"/><circle cx="222.8" cy="179.8" r="1.4" fill="#1e1c1e"/><ellipse cx="76.1" cy="185.6" rx="2.4" ry="5.6" fill="#5a5660" opacity="0.79"/><circle cx="76.1" cy="179.2" r="1.3" fill="#5a5660"/><ellipse cx="107.7" cy="185.9" rx="2.4" ry="5.7" fill="#3e3430" opacity="0.94"/><circle cx="107.7" cy="179.4" r="1.3" fill="#3e3430"/><ellipse cx="98.2" cy="185.9" rx="3.0" ry="7.5" fill="#2a2628" opacity="0.91"/><circle cx="98.2" cy="177.5" r="1.6" fill="#2a2628"/><ellipse cx="120.1" cy="186.0" rx="2.8" ry="4.6" fill="#4a3a34" opacity="0.87"/><circle cx="120.1" cy="180.6" r="1.5" fill="#4a3a34"/><ellipse cx="157.0" cy="186.4" rx="2.8" ry="6.8" fill="#1e1c1e" opacity="0.94"/><circle cx="157.0" cy="178.8" r="1.5" fill="#1e1c1e"/><ellipse cx="93.0" cy="187.0" rx="3.1" ry="7.4" fill="#3e3430" opacity="0.80"/><circle cx="93.0" cy="178.7" r="1.7" fill="#3e3430"/><ellipse cx="169.8" cy="187.7" rx="2.2" ry="7.5" fill="#4a3a34" opacity="0.91"/><circle cx="169.8" cy="179.4" r="1.2" fill="#4a3a34"/><ellipse cx="81.6" cy="187.8" rx="2.2" ry="4.8" fill="#33323c" opacity="0.76"/><circle cx="81.6" cy="182.2" r="1.2" fill="#33323c"/><ellipse cx="20.7" cy="187.9" rx="2.9" ry="6.3" fill="#3e3430" opacity="0.76"/><circle cx="20.7" cy="180.8" r="1.6" fill="#3e3430"/><ellipse cx="78.8" cy="188.0" rx="2.8" ry="6.6" fill="#24262e" opacity="0.76"/><circle cx="78.8" cy="180.5" r="1.6" fill="#24262e"/><ellipse cx="227.7" cy="188.1" rx="2.7" ry="6.6" fill="#6a5040" opacity="0.95"/><circle cx="227.7" cy="180.7" r="1.5" fill="#6a5040"/><ellipse cx="87.6" cy="188.2" rx="3.0" ry="5.8" fill="#2a2628" opacity="0.94"/><circle cx="87.6" cy="181.6" r="1.6" fill="#2a2628"/><ellipse cx="108.8" cy="188.4" rx="3.2" ry="7.3" fill="#5a5660" opacity="0.79"/><circle cx="108.8" cy="180.3" r="1.8" fill="#5a5660"/><ellipse cx="141.3" cy="189.1" rx="2.8" ry="6.1" fill="#5a5660" opacity="0.80"/><circle cx="141.3" cy="182.2" r="1.6" fill="#5a5660"/><ellipse cx="128.6" cy="189.2" rx="2.5" ry="5.8" fill="#3e3430" opacity="0.93"/><circle cx="128.6" cy="182.6" r="1.4" fill="#3e3430"/><ellipse cx="76.3" cy="189.6" rx="3.0" ry="4.7" fill="#5a5660" opacity="0.86"/><circle cx="76.3" cy="184.1" r="1.6" fill="#5a5660"/><ellipse cx="130.3" cy="189.8" rx="3.2" ry="5.3" fill="#4a3a34" opacity="0.75"/><circle cx="130.3" cy="183.7" r="1.8" fill="#4a3a34"/><ellipse cx="63.2" cy="189.9" rx="3.3" ry="7.5" fill="#2a2628" opacity="0.84"/><circle cx="63.2" cy="181.7" r="1.8" fill="#2a2628"/><ellipse cx="15.9" cy="191.3" rx="2.4" ry="7.2" fill="#6a5040" opacity="0.87"/><circle cx="15.9" cy="183.3" r="1.3" fill="#6a5040"/><ellipse cx="179.8" cy="191.5" rx="2.8" ry="6.5" fill="#33323c" opacity="0.92"/><circle cx="179.8" cy="184.2" r="1.6" fill="#33323c"/><ellipse cx="89.1" cy="193.1" rx="3.0" ry="7.0" fill="#33323c" opacity="0.95"/><circle cx="89.1" cy="185.3" r="1.7" fill="#33323c"/><ellipse cx="0.7" cy="193.1" rx="2.2" ry="7.2" fill="#4a3a34" opacity="0.85"/><circle cx="0.7" cy="185.1" r="1.2" fill="#4a3a34"/><ellipse cx="108.7" cy="193.4" rx="3.3" ry="7.8" fill="#6a5040" opacity="0.91"/><circle cx="108.7" cy="184.8" r="1.8" fill="#6a5040"/><ellipse cx="45.8" cy="193.6" rx="2.2" ry="6.2" fill="#5a5660" opacity="0.80"/><circle cx="45.8" cy="186.5" r="1.2" fill="#5a5660"/><ellipse cx="100.5" cy="193.7" rx="2.2" ry="5.2" fill="#4a3a34" opacity="0.91"/><circle cx="100.5" cy="187.8" r="1.2" fill="#4a3a34"/><ellipse cx="52.5" cy="193.8" rx="3.4" ry="6.5" fill="#4a3a34" opacity="0.80"/><circle cx="52.5" cy="186.5" r="1.9" fill="#4a3a34"/><ellipse cx="83.6" cy="193.9" rx="3.4" ry="6.4" fill="#2a2628" opacity="0.92"/><circle cx="83.6" cy="186.6" r="1.9" fill="#2a2628"/><ellipse cx="99.5" cy="194.2" rx="3.3" ry="5.3" fill="#2a2628" opacity="0.83"/><circle cx="99.5" cy="188.1" r="1.8" fill="#2a2628"/><ellipse cx="18.1" cy="194.3" rx="2.8" ry="8.0" fill="#3e3430" opacity="0.77"/><circle cx="18.1" cy="185.5" r="1.5" fill="#3e3430"/><ellipse cx="178.0" cy="194.4" rx="2.6" ry="6.0" fill="#2a2628" opacity="0.86"/><circle cx="178.0" cy="187.6" r="1.4" fill="#2a2628"/><ellipse cx="35.6" cy="194.5" rx="2.3" ry="7.2" fill="#24262e" opacity="0.80"/><circle cx="35.6" cy="186.5" r="1.3" fill="#24262e"/><ellipse cx="51.6" cy="194.6" rx="3.5" ry="6.1" fill="#2a2628" opacity="0.86"/><circle cx="51.6" cy="187.8" r="1.9" fill="#2a2628"/><ellipse cx="139.6" cy="194.8" rx="3.4" ry="5.3" fill="#5a5660" opacity="0.83"/><circle cx="139.6" cy="188.7" r="1.9" fill="#5a5660"/><ellipse cx="195.1" cy="195.0" rx="3.1" ry="7.8" fill="#5a5660" opacity="0.83"/><circle cx="195.1" cy="186.5" r="1.7" fill="#5a5660"/><ellipse cx="68.9" cy="195.2" rx="2.2" ry="5.6" fill="#6a5040" opacity="0.90"/><circle cx="68.9" cy="188.8" r="1.2" fill="#6a5040"/><ellipse cx="72.7" cy="195.7" rx="2.4" ry="7.6" fill="#4a3a34" opacity="0.90"/><circle cx="72.7" cy="187.3" r="1.3" fill="#4a3a34"/><ellipse cx="145.1" cy="195.7" rx="2.7" ry="5.8" fill="#1e1c1e" opacity="0.87"/><circle cx="145.1" cy="189.1" r="1.5" fill="#1e1c1e"/><ellipse cx="141.4" cy="196.0" rx="2.6" ry="4.8" fill="#2a2628" opacity="0.79"/><circle cx="141.4" cy="190.4" r="1.4" fill="#2a2628"/><ellipse cx="135.8" cy="196.0" rx="2.2" ry="7.9" fill="#3e3430" opacity="0.80"/><circle cx="135.8" cy="187.3" r="1.2" fill="#3e3430"/><ellipse cx="120.5" cy="196.3" rx="3.1" ry="5.5" fill="#5a5660" opacity="0.90"/><circle cx="120.5" cy="190.0" r="1.7" fill="#5a5660"/><ellipse cx="211.2" cy="196.7" rx="2.9" ry="6.8" fill="#4a3a34" opacity="0.95"/><circle cx="211.2" cy="189.1" r="1.6" fill="#4a3a34"/><ellipse cx="95.1" cy="197.0" rx="3.5" ry="7.7" fill="#1e1c1e" opacity="0.92"/><circle cx="95.1" cy="188.4" r="1.9" fill="#1e1c1e"/><ellipse cx="68.2" cy="197.0" rx="3.6" ry="6.3" fill="#1e1c1e" opacity="0.94"/><circle cx="68.2" cy="189.9" r="2.0" fill="#1e1c1e"/><ellipse cx="144.0" cy="197.2" rx="2.4" ry="7.2" fill="#5a5660" opacity="0.88"/><circle cx="144.0" cy="189.2" r="1.3" fill="#5a5660"/><ellipse cx="107.0" cy="197.2" rx="3.2" ry="5.5" fill="#1e1c1e" opacity="0.82"/><circle cx="107.0" cy="190.9" r="1.7" fill="#1e1c1e"/><ellipse cx="57.1" cy="197.5" rx="2.7" ry="7.1" fill="#33323c" opacity="0.75"/><circle cx="57.1" cy="189.6" r="1.5" fill="#33323c"/><ellipse cx="58.1" cy="197.9" rx="3.1" ry="5.9" fill="#4a3a34" opacity="0.92"/><circle cx="58.1" cy="191.2" r="1.7" fill="#4a3a34"/><ellipse cx="175.0" cy="197.9" rx="2.4" ry="6.4" fill="#24262e" opacity="0.89"/><circle cx="175.0" cy="190.7" r="1.3" fill="#24262e"/><ellipse cx="89.5" cy="198.0" rx="2.6" ry="7.8" fill="#24262e" opacity="0.87"/><circle cx="89.5" cy="189.4" r="1.4" fill="#24262e"/><ellipse cx="228.5" cy="198.3" rx="2.6" ry="6.3" fill="#5a5660" opacity="0.90"/><circle cx="228.5" cy="191.3" r="1.4" fill="#5a5660"/><ellipse cx="101.8" cy="198.5" rx="2.6" ry="6.5" fill="#33323c" opacity="0.92"/><circle cx="101.8" cy="191.2" r="1.4" fill="#33323c"/><ellipse cx="105.8" cy="198.9" rx="2.8" ry="7.3" fill="#33323c" opacity="0.79"/><circle cx="105.8" cy="190.8" r="1.5" fill="#33323c"/><ellipse cx="137.2" cy="199.7" rx="2.4" ry="5.9" fill="#4a3a34" opacity="0.76"/><circle cx="137.2" cy="193.0" r="1.3" fill="#4a3a34"/><ellipse cx="228.6" cy="200.1" rx="2.9" ry="7.2" fill="#2a2628" opacity="0.77"/><circle cx="228.6" cy="192.1" r="1.6" fill="#2a2628"/><ellipse cx="188.3" cy="200.4" rx="3.2" ry="6.8" fill="#33323c" opacity="0.80"/><circle cx="188.3" cy="192.8" r="1.8" fill="#33323c"/><ellipse cx="124.1" cy="200.6" rx="2.6" ry="8.1" fill="#33323c" opacity="0.79"/><circle cx="124.1" cy="191.7" r="1.4" fill="#33323c"/><ellipse cx="21.0" cy="200.7" rx="2.7" ry="6.0" fill="#33323c" opacity="0.88"/><circle cx="21.0" cy="193.9" r="1.5" fill="#33323c"/><ellipse cx="8.0" cy="201.0" rx="3.3" ry="6.1" fill="#5a5660" opacity="0.79"/><circle cx="8.0" cy="194.0" r="1.8" fill="#5a5660"/><ellipse cx="40.5" cy="201.0" rx="2.5" ry="7.5" fill="#1e1c1e" opacity="0.84"/><circle cx="40.5" cy="192.7" r="1.4" fill="#1e1c1e"/><ellipse cx="133.8" cy="201.1" rx="2.4" ry="5.5" fill="#6a5040" opacity="0.79"/><circle cx="133.8" cy="194.8" r="1.3" fill="#6a5040"/><ellipse cx="240.2" cy="201.4" rx="3.4" ry="7.2" fill="#2a2628" opacity="0.75"/><circle cx="240.2" cy="193.3" r="1.9" fill="#2a2628"/><ellipse cx="118.9" cy="201.8" rx="3.5" ry="6.7" fill="#5a5660" opacity="0.92"/><circle cx="118.9" cy="194.3" r="1.9" fill="#5a5660"/><ellipse cx="105" cy="145" rx="16" ry="5" fill="#f0d8b8" opacity=".8"/></svg>
<div class="t" style="left:396.0px;top:168.7px;font-size:19.5px;line-height:25px;font-weight:700;color:#173f93;transform:scaleX(0.8964);transform-origin:0 50%;-webkit-text-stroke:0.35px #173f93;">통신 데이터</div>
<div class="a" style="left:403.8px;top:219.7px;width:3.6px;height:3.6px;border-radius:50%;background:#2650a3;"></div>
<div class="t" style="left:420.0px;top:210.0px;font-size:17px;line-height:22px;font-weight:400;color:#2650a3;transform:scaleX(0.9182);transform-origin:0 50%;">네트워크 성능</div>
<div class="a" style="left:431.2px;top:245.7px;width:3.6px;height:3.6px;border-radius:50%;background:#2650a3;"></div>
<div class="t" style="left:448.0px;top:236.0px;font-size:17px;line-height:22px;font-weight:400;color:#2650a3;transform:scaleX(1.0085);transform-origin:0 50%;">RSSI, Latency 등</div>
<div class="a" style="left:403.8px;top:271.7px;width:3.6px;height:3.6px;border-radius:50%;background:#2650a3;"></div>
<div class="t" style="left:420.0px;top:262.0px;font-size:17px;line-height:22px;font-weight:400;color:#2650a3;transform:scaleX(0.9281);transform-origin:0 50%;">사용자 관련 데이터</div>
<div class="a" style="left:431.2px;top:297.7px;width:3.6px;height:3.6px;border-radius:50%;background:#2650a3;"></div>
<div class="t" style="left:448.0px;top:288.0px;font-size:17px;line-height:22px;font-weight:400;color:#2650a3;transform:scaleX(0.9348);transform-origin:0 50%;">접속 단말기 수, 전송량 등</div>
<div class="a" style="left:403.8px;top:323.7px;width:3.6px;height:3.6px;border-radius:50%;background:#2650a3;"></div>
<div class="t" style="left:420.0px;top:314.0px;font-size:17px;line-height:22px;font-weight:400;color:#2650a3;transform:scaleX(0.9281);transform-origin:0 50%;">프로토콜 관련 정보</div>
<div class="a" style="left:431.2px;top:349.7px;width:3.6px;height:3.6px;border-radius:50%;background:#2650a3;"></div>
<div class="t" style="left:448.0px;top:340.0px;font-size:17px;line-height:22px;font-weight:400;color:#2650a3;transform:scaleX(0.9303);transform-origin:0 50%;">프로토콜 로그 등</div>
<div class="t" style="left:396.0px;top:397.7px;font-size:19.5px;line-height:25px;font-weight:700;color:#173f93;transform:scaleX(0.8964);transform-origin:0 50%;-webkit-text-stroke:0.35px #173f93;">센싱 데이터</div>
<div class="a" style="left:403.8px;top:447.7px;width:3.6px;height:3.6px;border-radius:50%;background:#2650a3;"></div>
<div class="t" style="left:420.0px;top:438.0px;font-size:17px;line-height:22px;font-weight:400;color:#2650a3;transform:scaleX(0.9332);transform-origin:0 50%;">위치 및 움직임 데이터</div>
<div class="a" style="left:431.2px;top:473.7px;width:3.6px;height:3.6px;border-radius:50%;background:#2650a3;"></div>
<div class="t" style="left:448.0px;top:464.0px;font-size:17px;line-height:22px;font-weight:400;color:#2650a3;transform:scaleX(0.9342);transform-origin:0 50%;">거리, 객체인식, 위치 등</div>
<div class="a" style="left:403.8px;top:500.2px;width:3.6px;height:3.6px;border-radius:50%;background:#2650a3;"></div>
<div class="t" style="left:420.0px;top:490.5px;font-size:17px;line-height:22px;font-weight:400;color:#2650a3;transform:scaleX(0.9303);transform-origin:0 50%;">환경 정보 데이터</div>
<div class="a" style="left:431.2px;top:526.2px;width:3.6px;height:3.6px;border-radius:50%;background:#2650a3;"></div>
<div class="t" style="left:448.0px;top:516.5px;font-size:17px;line-height:22px;font-weight:400;color:#2650a3;transform:scaleX(0.9348);transform-origin:0 50%;">장애물, 매질, 기상정보 등</div>
<div class="a" style="left:403.8px;top:552.2px;width:3.6px;height:3.6px;border-radius:50%;background:#2650a3;"></div>
<div class="t" style="left:420.0px;top:542.5px;font-size:17px;line-height:22px;font-weight:400;color:#2650a3;transform:scaleX(0.9194);transform-origin:0 50%;">융합 데이터</div>
<div class="a" style="left:431.2px;top:578.7px;width:3.6px;height:3.6px;border-radius:50%;background:#2650a3;"></div>
<div class="t" style="left:448.0px;top:569.0px;font-size:17px;line-height:22px;font-weight:400;color:#2650a3;transform:scaleX(0.9317);transform-origin:0 50%;">레이더 센싱, 환경감지 등</div>
<div class="a" style="left:375.0px;top:650.5px;width:13.0px;height:13.0px;border-radius:50%;background:#fff;"></div>
<div class="wl" style="left:380px;top:657px;width:3px;height:26px"></div>
<div class="lbl" style="left:319px;top:681px;width:124px;height:31px"></div>
<div class="t" style="left:330.0px;top:685.8px;font-size:16px;line-height:21px;font-weight:400;color:#fff;transform:scaleX(0.8437);transform-origin:0 50%;">위치 및 환경정보</div>
<div class="wl" style="left:380px;top:711px;width:3px;height:16px"></div>
<div class="a" style="left:374.5px;top:726px;width:0;height:0;border-left:7px solid transparent;border-right:7px solid transparent;border-top:13px solid #fff"></div>

<div class="a" style="left:136px;top:850px;width:494px;height:244px;background:linear-gradient(180deg,#f3f5fa,#eff2f8);border:1px solid #a9afbb;border-radius:7px;box-shadow:0 1px 2px rgba(0,0,0,.08)"></div>
<div class="a" style="left:136px;top:1134px;width:494px;height:243px;background:linear-gradient(180deg,#f3f5fa,#eff2f8);border:1px solid #a9afbb;border-radius:7px;box-shadow:0 1px 2px rgba(0,0,0,.08)"></div>
<svg class="a" style="left:168px;top:876px" width="170" height="192" viewBox="0 0 170 192"><defs><linearGradient id="ts" x1="0" y1="0" x2="1" y2="1"><stop offset="0" stop-color="#c2ccdc"/><stop offset=".3" stop-color="#94a6c2"/><stop offset=".55" stop-color="#7a8cae"/><stop offset=".75" stop-color="#51638c"/><stop offset="1" stop-color="#34466e"/></linearGradient><linearGradient id="tb" x1="0" y1="0" x2="1" y2="0"><stop offset="0" stop-color="#2a3a64" stop-opacity="0"/><stop offset=".5" stop-color="#2a3a64" stop-opacity=".55"/><stop offset="1" stop-color="#2a3a64" stop-opacity="0"/></linearGradient><pattern id="tl" width="6" height="7" patternUnits="userSpaceOnUse"><path d="M0 0L6 7M6 0L0 7" stroke="#e8eaf0" stroke-width="1.2"/><path d="M0 3.5H6" stroke="#555a66" stroke-width=".8"/></pattern><filter id="tbf"><feGaussianBlur stdDeviation="6"/></filter></defs><rect width="170" height="192" fill="url(#ts)"/><path d="M110 0L170 0L170 60L60 192L20 192Z" fill="#2e3e68" opacity=".35" filter="url(#tbf)"/><path d="M0 120L40 192L0 192Z" fill="#a8b8d0" opacity=".4" filter="url(#tbf)"/><path d="M76 22L96 22L100 192L72 192Z" fill="url(#tl)"/><path d="M76 22L72 192M96 22L100 192" stroke="#d8dce6" stroke-width="2"/><path d="M85 22L86 192" stroke="#4a4e5a" stroke-width="1.5"/><rect x="68" y="14" width="36" height="10" fill="none" stroke="#dfe2ea" stroke-width="2"/><path d="M70 14V6M80 14V4M92 14V4M102 14V6" stroke="#cfd3dc" stroke-width="1.5"/><ellipse cx="75" cy="57" rx="5" ry="5.5" fill="#f4f4f6"/><ellipse cx="75" cy="70" rx="5" ry="5.5" fill="#f4f4f6"/><ellipse cx="75" cy="84" rx="5" ry="5.5" fill="#f4f4f6"/><path d="M62 150L72 160M64 170L74 176" stroke="#c8ccd4" stroke-width="1.5"/></svg>
<div class="t" style="left:392.5px;top:889.8px;font-size:24.5px;line-height:32px;font-weight:700;color:#173f93;transform:scaleX(0.9563);transform-origin:0 50%;-webkit-text-stroke:0.35px #173f93;">6G 기지국</div>
<div class="a" style="left:401.9px;top:944.5px;width:3.4px;height:3.4px;border-radius:50%;background:#2650a3;"></div>
<div class="t" style="left:416.0px;top:935.7px;font-size:15px;line-height:20px;font-weight:400;color:#2650a3;transform:scaleX(0.9220);transform-origin:0 50%;">ISAC 기능 지원</div>
<div class="a" style="left:401.9px;top:970.4px;width:3.4px;height:3.4px;border-radius:50%;background:#2650a3;"></div>
<div class="t" style="left:416.0px;top:961.6px;font-size:15px;line-height:20px;font-weight:400;color:#2650a3;transform:scaleX(0.8968);transform-origin:0 50%;">초고속 통신</div>
<div class="a" style="left:401.9px;top:996.7px;width:3.4px;height:3.4px;border-radius:50%;background:#2650a3;"></div>
<div class="t" style="left:416.0px;top:987.9px;font-size:15px;line-height:20px;font-weight:400;color:#2650a3;transform:scaleX(0.8977);transform-origin:0 50%;">고정밀 위치측위</div>
<div class="a" style="left:401.9px;top:1022.9px;width:3.4px;height:3.4px;border-radius:50%;background:#2650a3;"></div>
<div class="t" style="left:416.0px;top:1014.1px;font-size:15px;line-height:20px;font-weight:400;color:#2650a3;transform:scaleX(0.8973);transform-origin:0 50%;">환경정보 감지</div>
<div class="a" style="left:401.9px;top:1049.2px;width:3.4px;height:3.4px;border-radius:50%;background:#2650a3;"></div>
<div class="t" style="left:416.0px;top:1040.4px;font-size:15px;line-height:20px;font-weight:400;color:#2650a3;transform:scaleX(0.8935);transform-origin:0 50%;">센서 및 통신 융합</div>
<div class="a" style="left:169px;top:1173px;width:161px;height:139px;background:#fff;box-shadow:0 2px 5px rgba(0,0,0,.25);overflow:hidden">
<div class="a" style="left:0;top:0;width:161px;height:20px;background:linear-gradient(180deg,#3d68cf,#2f5bc4)"></div>
<div class="a" style="left:4px;top:12px;width:22px;height:5px;background:#dfe6f6"></div>
<div class="a" style="left:105px;top:3px;width:48px;height:5px;background:#e8eefa"></div>
<div class="a" style="left:4px;top:38px;width:152px;height:1px;background:#4a70c8"></div>
<div class="a" style="left:8px;top:45px;width:60px;height:3px;background:#444"></div>
<div class="a" style="left:8px;top:51px;width:130px;height:2px;background:#aaa"></div>
<div class="a" style="left:8px;top:70px;width:150px;height:1px;background:#ccc"></div>
<div class="a" style="left:6px;top:82px;width:40px;height:40px;background:repeating-linear-gradient(180deg,#999 0 1px,transparent 1px 4px)"></div>
</div>
<div class="a" style="left:213px;top:1238px;width:143px;height:89px;background:#fff;box-shadow:0 2px 6px rgba(0,0,0,.3);overflow:hidden">
<div class="a" style="left:4px;top:4px;width:135px;height:12px;background:repeating-linear-gradient(180deg,#bbb 0 1px,transparent 1px 5px)"></div>
<div class="a" style="left:4px;top:26px;width:135px;height:52px;background:repeating-linear-gradient(180deg,#999 0 1px,transparent 1px 7px),repeating-linear-gradient(90deg,#bbb 0 1px,transparent 1px 22px)"></div>
<div class="a" style="left:64px;top:81px;width:12px;height:4px;background:#3a64c8"></div>
</div>
<div class="t" style="left:410.0px;top:1172.7px;font-size:24px;line-height:31px;font-weight:700;color:#173f93;transform:scaleX(0.9319);transform-origin:0 50%;-webkit-text-stroke:0.35px #173f93;">외부 공개 데이터</div>
<div class="a" style="left:418.7px;top:1245.3px;width:3.4px;height:3.4px;border-radius:50%;background:#2650a3;"></div>
<div class="t" style="left:433.0px;top:1236.5px;font-size:15.5px;line-height:20px;font-weight:400;color:#2650a3;transform:scaleX(0.9172);transform-origin:0 50%;">공공 CCTV</div>
<div class="a" style="left:418.7px;top:1271.5px;width:3.4px;height:3.4px;border-radius:50%;background:#2650a3;"></div>
<div class="t" style="left:433.0px;top:1262.7px;font-size:15.5px;line-height:20px;font-weight:400;color:#2650a3;transform:scaleX(0.8229);transform-origin:0 50%;">기상청</div>
<div class="a" style="left:418.7px;top:1298.1px;width:3.4px;height:3.4px;border-radius:50%;background:#2650a3;"></div>
<div class="t" style="left:433.0px;top:1289.3px;font-size:15.5px;line-height:20px;font-weight:400;color:#2650a3;transform:scaleX(0.8456);transform-origin:0 50%;">기타 공공 데이터</div>

<div class="a" style="left:900px;top:155px;width:650px;height:412px;background:#060606;border-radius:17px;box-shadow:0 2px 4px rgba(0,0,0,.25)"></div>
<div class="a" style="left:909px;top:164px;width:632px;height:395px;overflow:hidden;border-radius:9px">
<div class="a" style="left:0px;top:0px;width:632px;height:395px;background:#fff;border-radius:9px"></div>
<div class="a" style="left:0px;top:16px;width:632px;height:1px;background:#ececec"></div>
<svg class="a" style="left:4px;top:3px" width="10" height="11" viewBox="0 0 10 11"><path d="M1 1h8v4c0 3-2 4.5-4 5.5C3 9.5 1 8 1 5z" fill="#2f6fe8"/><path d="M3.2 4h3.6L5 7z" fill="#fff"/></svg>
<div class="t" style="left:17px;top:5.0px;font-size:5px;line-height:6px;font-weight:700;color:#222;letter-spacing:0px;">RTLS</div>
<div class="a" style="left:616.0px;top:3.0px;width:10px;height:10px;border-radius:50%;background:#f0f0f0;border:1px solid #ddd"></div>
<div class="a" style="left:602px;top:5px;width:5px;height:6px;border:1px solid #666"></div>
<div class="a" style="left:9px;top:24px;width:6px;height:6px;border:1px solid #777;border-radius:2px"></div>
<div class="a" style="left:23px;top:24px;width:6px;height:6px;border:1px solid #777;border-radius:2px"></div>
<div class="a" style="left:37px;top:24px;width:6px;height:6px;border:1px solid #777;border-radius:2px"></div>
<div class="a" style="left:51px;top:24px;width:6px;height:6px;border:1px solid #777;border-radius:2px"></div>
<div class="a" style="left:65px;top:24px;width:6px;height:6px;border:1px solid #777;border-radius:2px"></div>
<div class="a" style="left:262px;top:24px;width:40px;height:5px;background:#bbb;border-radius:1px"></div>
<div class="a" style="left:318px;top:24px;width:10px;height:5px;background:#bbb;border-radius:1px"></div>
<div class="t" style="left:582px;top:22.5px;font-size:7px;line-height:9px;font-weight:400;color:#555;letter-spacing:0px;">+ &nbsp; − &nbsp;&nbsp; ≡</div>
<div class="a" style="left:0px;top:32px;width:632px;height:1px;background:#f0f0f0"></div>
<div class="a" style="left:118px;top:33px;width:1px;height:362px;background:#eee"></div>
<div class="t" style="left:5px;top:40.0px;font-size:5px;line-height:6px;font-weight:700;color:#333;letter-spacing:0px;">Home</div>
<div class="a" style="left:110px;top:40px;width:4px;height:5px;background:#888"></div>
<svg class="a" style="left:6px;top:58px" width="51" height="48" viewBox="0 0 51 48"><defs><clipPath id="tc0"><rect width="51" height="48" rx="6"/></clipPath><linearGradient id="tg0" x1="0" y1="0" x2="0" y2="1"><stop offset="0" stop-color="#4a4640"/><stop offset="1" stop-color="#22201e"/></linearGradient></defs><g clip-path="url(#tc0)"><rect width="51" height="48" fill="url(#tg0)"/><rect x="12.1" y="26.1" width="2.8" height="1.7" fill="#8a8a90" opacity=".8"/><rect x="29.6" y="29.1" width="1.5" height="1.4" fill="#c0c0c8" opacity=".8"/><rect x="50.8" y="22.6" width="2.0" height="2.0" fill="#3a3a40" opacity=".8"/><rect x="7.7" y="30.5" width="1.8" height="1.0" fill="#3a3a40" opacity=".8"/><rect x="39.6" y="7.7" width="1.1" height="2.2" fill="#3a3a40" opacity=".8"/><rect x="42.0" y="12.9" width="2.4" height="2.3" fill="#3a3a40" opacity=".8"/><rect x="36.4" y="44.2" width="2.5" height="1.9" fill="#c0c0c8" opacity=".8"/><rect x="49.2" y="6.4" width="1.2" height="1.2" fill="#8a8a90" opacity=".8"/><rect x="11.1" y="46.3" width="2.6" height="2.3" fill="#c0c0c8" opacity=".8"/><rect x="21.5" y="40.0" width="1.7" height="1.9" fill="#3a3a40" opacity=".8"/><rect x="29.8" y="43.4" width="2.8" height="1.0" fill="#1a1a1c" opacity=".8"/><rect x="14.3" y="29.1" width="1.3" height="2.3" fill="#1a1a1c" opacity=".8"/><rect x="49.2" y="43.4" width="1.2" height="2.0" fill="#3a3a40" opacity=".8"/><rect x="32.3" y="47.4" width="1.6" height="1.1" fill="#8a8a90" opacity=".8"/><rect x="43.6" y="47.5" width="1.7" height="1.1" fill="#e8a050" opacity=".8"/><rect x="45.8" y="1.0" width="2.5" height="2.3" fill="#c0c0c8" opacity=".8"/><rect x="2.3" y="29.5" width="1.8" height="1.9" fill="#e8a050" opacity=".8"/><rect x="28.1" y="44.3" width="2.0" height="2.5" fill="#8a8a90" opacity=".8"/><rect x="15.8" y="3.7" width="2.1" height="2.4" fill="#3a3a40" opacity=".8"/><rect x="49.5" y="14.0" width="1.3" height="1.1" fill="#8a8a90" opacity=".8"/><rect x="44.3" y="15.1" width="2.8" height="1.6" fill="#f0c080" opacity=".8"/><rect x="23.5" y="25.0" width="2.7" height="2.0" fill="#1a1a1c" opacity=".8"/><rect x="5.2" y="46.7" width="1.5" height="2.0" fill="#3a3a40" opacity=".8"/><rect x="36.5" y="44.9" width="3.0" height="1.8" fill="#c0c0c8" opacity=".8"/><rect x="28.0" y="0.5" width="3.0" height="1.5" fill="#c0c0c8" opacity=".8"/><rect x="19.2" y="28.3" width="1.1" height="1.9" fill="#f0c080" opacity=".8"/><rect x="23.8" y="32.6" width="2.2" height="1.4" fill="#8a8a90" opacity=".8"/><rect x="25.0" y="28.3" width="1.0" height="1.6" fill="#1a1a1c" opacity=".8"/><rect x="32.0" y="14.3" width="1.6" height="1.5" fill="#3a3a40" opacity=".8"/><rect x="15.9" y="17.7" width="1.5" height="2.2" fill="#3a3a40" opacity=".8"/><rect x="5.3" y="39.0" width="2.4" height="1.2" fill="#3a3a40" opacity=".8"/><rect x="25.5" y="31.4" width="1.5" height="1.3" fill="#8a8a90" opacity=".8"/><rect x="22.2" y="33.5" width="2.2" height="2.4" fill="#e8a050" opacity=".8"/><rect x="34.4" y="10.8" width="1.2" height="2.1" fill="#f0c080" opacity=".8"/><rect x="11.1" y="27.3" width="1.5" height="1.2" fill="#8a8a90" opacity=".8"/><rect x="27.0" y="9.2" width="1.4" height="1.4" fill="#3a3a40" opacity=".8"/><rect x="41.2" y="30.8" width="1.7" height="1.2" fill="#3a3a40" opacity=".8"/><rect x="14.9" y="38.1" width="1.9" height="2.0" fill="#8a8a90" opacity=".8"/><rect x="14.8" y="27.3" width="2.8" height="1.2" fill="#e8a050" opacity=".8"/><rect x="0.2" y="45.3" width="3.0" height="1.7" fill="#3a3a40" opacity=".8"/><rect x="48.5" y="44.5" width="1.1" height="1.7" fill="#f0c080" opacity=".8"/><rect x="38.4" y="35.9" width="2.1" height="2.3" fill="#8a8a90" opacity=".8"/><rect x="43.9" y="41.2" width="1.2" height="1.4" fill="#8a8a90" opacity=".8"/><rect x="1.8" y="38.5" width="2.8" height="2.3" fill="#3a3a40" opacity=".8"/><rect x="45.9" y="27.7" width="2.0" height="1.2" fill="#e8a050" opacity=".8"/><rect x="25.7" y="11.5" width="2.0" height="1.6" fill="#e8a050" opacity=".8"/><rect x="47.9" y="29.4" width="1.3" height="2.5" fill="#8a8a90" opacity=".8"/><rect x="27.6" y="39.0" width="1.7" height="1.3" fill="#e8a050" opacity=".8"/><rect x="27.3" y="39.2" width="1.5" height="1.4" fill="#f0c080" opacity=".8"/><rect x="45.4" y="6.2" width="2.0" height="1.9" fill="#e8a050" opacity=".8"/><rect x="20.4" y="36.3" width="1.5" height="1.8" fill="#f0c080" opacity=".8"/><rect x="21.6" y="22.7" width="2.7" height="2.2" fill="#e8a050" opacity=".8"/><rect x="2.4" y="2.4" width="2.9" height="2.3" fill="#c0c0c8" opacity=".8"/><rect x="4.4" y="24.1" width="1.3" height="1.1" fill="#8a8a90" opacity=".8"/><rect x="19.7" y="18.7" width="1.7" height="1.3" fill="#8a8a90" opacity=".8"/><rect x="16.8" y="5.9" width="1.0" height="2.1" fill="#3a3a40" opacity=".8"/><rect x="40.6" y="27.2" width="1.7" height="1.9" fill="#e8a050" opacity=".8"/><rect x="39.9" y="18.3" width="2.2" height="1.6" fill="#e8a050" opacity=".8"/><rect x="19.0" y="23.8" width="1.6" height="2.4" fill="#1a1a1c" opacity=".8"/><rect x="21.3" y="0.9" width="2.1" height="2.0" fill="#f0c080" opacity=".8"/><rect x="3.7" y="20.4" width="1.3" height="1.0" fill="#c0c0c8" opacity=".8"/><rect x="16.6" y="46.5" width="2.6" height="1.4" fill="#3a3a40" opacity=".8"/><rect x="23.7" y="5.9" width="2.3" height="2.3" fill="#1a1a1c" opacity=".8"/><rect x="40.4" y="32.0" width="1.6" height="1.8" fill="#1a1a1c" opacity=".8"/><rect x="41.4" y="34.4" width="1.3" height="2.2" fill="#c0c0c8" opacity=".8"/><rect x="2.3" y="4.4" width="2.3" height="1.6" fill="#e8a050" opacity=".8"/><rect x="41.8" y="16.4" width="1.1" height="1.2" fill="#e8a050" opacity=".8"/><rect x="24.6" y="33.4" width="2.2" height="2.2" fill="#8a8a90" opacity=".8"/><rect x="1.8" y="36.8" width="2.1" height="1.4" fill="#3a3a40" opacity=".8"/><rect x="28.3" y="4.8" width="1.1" height="1.5" fill="#3a3a40" opacity=".8"/></g></svg>
<div class="a" style="left:11.2px;top:63.2px;width:7.6px;height:7.6px;border-radius:50%;background:#2f6fe8;"></div>
<div class="a" style="left:10px;top:78px;width:14px;height:2.5px;background:rgba(255,255,255,.85)"></div>
<svg class="a" style="left:61px;top:58px" width="51" height="48" viewBox="0 0 51 48"><defs><clipPath id="tc1"><rect width="51" height="48" rx="6"/></clipPath><linearGradient id="tg1" x1="0" y1="0" x2="0" y2="1"><stop offset="0" stop-color="#5a5854"/><stop offset="1" stop-color="#2e2c2a"/></linearGradient></defs><g clip-path="url(#tc1)"><rect width="51" height="48" fill="url(#tg1)"/><rect x="28.8" y="39.7" width="3.0" height="2.0" fill="#f0c080" opacity=".8"/><rect x="23.2" y="33.6" width="1.5" height="1.9" fill="#c0c0c8" opacity=".8"/><rect x="47.9" y="26.7" width="1.8" height="1.4" fill="#e8a050" opacity=".8"/><rect x="47.4" y="40.5" width="1.8" height="1.9" fill="#f0c080" opacity=".8"/><rect x="29.6" y="44.3" width="2.0" height="2.0" fill="#1a1a1c" opacity=".8"/><rect x="45.8" y="7.2" width="2.0" height="1.7" fill="#e8a050" opacity=".8"/><rect x="35.6" y="45.6" width="2.4" height="1.3" fill="#3a3a40" opacity=".8"/><rect x="13.6" y="9.6" width="2.0" height="2.4" fill="#3a3a40" opacity=".8"/><rect x="43.4" y="25.8" width="2.3" height="2.3" fill="#8a8a90" opacity=".8"/><rect x="30.4" y="28.1" width="2.8" height="1.5" fill="#8a8a90" opacity=".8"/><rect x="13.7" y="38.6" width="1.3" height="1.5" fill="#f0c080" opacity=".8"/><rect x="16.4" y="37.2" width="1.8" height="2.0" fill="#f0c080" opacity=".8"/><rect x="35.8" y="9.9" width="2.7" height="2.2" fill="#3a3a40" opacity=".8"/><rect x="28.4" y="23.1" width="1.1" height="2.4" fill="#1a1a1c" opacity=".8"/><rect x="39.9" y="42.3" width="1.9" height="1.3" fill="#e8a050" opacity=".8"/><rect x="12.0" y="34.4" width="1.1" height="1.3" fill="#1a1a1c" opacity=".8"/><rect x="13.0" y="42.7" width="1.3" height="1.9" fill="#8a8a90" opacity=".8"/><rect x="34.4" y="1.8" width="1.3" height="1.1" fill="#8a8a90" opacity=".8"/><rect x="9.3" y="4.4" width="1.2" height="1.4" fill="#e8a050" opacity=".8"/><rect x="46.6" y="1.7" width="2.2" height="2.0" fill="#c0c0c8" opacity=".8"/><rect x="0.4" y="16.1" width="1.8" height="1.1" fill="#c0c0c8" opacity=".8"/><rect x="32.9" y="35.6" width="1.8" height="1.8" fill="#c0c0c8" opacity=".8"/><rect x="6.1" y="13.2" width="1.9" height="1.7" fill="#1a1a1c" opacity=".8"/><rect x="26.9" y="12.0" width="2.9" height="1.6" fill="#3a3a40" opacity=".8"/><rect x="39.4" y="36.4" width="2.3" height="2.0" fill="#8a8a90" opacity=".8"/><rect x="48.2" y="39.2" width="2.5" height="2.4" fill="#e8a050" opacity=".8"/><rect x="34.3" y="25.7" width="2.3" height="1.8" fill="#e8a050" opacity=".8"/><rect x="3.0" y="14.1" width="2.1" height="1.3" fill="#1a1a1c" opacity=".8"/><rect x="32.9" y="30.3" width="1.7" height="2.4" fill="#f0c080" opacity=".8"/><rect x="23.2" y="5.2" width="1.3" height="1.5" fill="#3a3a40" opacity=".8"/><rect x="36.7" y="28.7" width="1.6" height="1.3" fill="#3a3a40" opacity=".8"/><rect x="24.6" y="37.5" width="1.1" height="2.1" fill="#1a1a1c" opacity=".8"/><rect x="38.5" y="26.1" width="1.8" height="1.1" fill="#1a1a1c" opacity=".8"/><rect x="13.8" y="2.6" width="1.1" height="1.8" fill="#f0c080" opacity=".8"/><rect x="12.6" y="36.9" width="2.8" height="2.4" fill="#8a8a90" opacity=".8"/><rect x="22.9" y="38.8" width="1.7" height="2.3" fill="#e8a050" opacity=".8"/><rect x="5.7" y="13.0" width="2.4" height="1.8" fill="#e8a050" opacity=".8"/><rect x="46.4" y="5.4" width="1.4" height="1.6" fill="#1a1a1c" opacity=".8"/><rect x="37.9" y="39.2" width="1.3" height="1.9" fill="#1a1a1c" opacity=".8"/><rect x="43.8" y="38.3" width="2.1" height="1.9" fill="#3a3a40" opacity=".8"/><rect x="10.3" y="12.0" width="1.1" height="2.2" fill="#8a8a90" opacity=".8"/><rect x="45.5" y="45.6" width="1.6" height="2.4" fill="#c0c0c8" opacity=".8"/><rect x="15.8" y="23.9" width="2.4" height="1.4" fill="#3a3a40" opacity=".8"/><rect x="43.9" y="23.2" width="1.4" height="2.0" fill="#3a3a40" opacity=".8"/><rect x="5.5" y="36.3" width="2.0" height="1.8" fill="#f0c080" opacity=".8"/><rect x="23.5" y="9.3" width="1.4" height="2.2" fill="#3a3a40" opacity=".8"/><rect x="47.2" y="45.4" width="2.1" height="2.4" fill="#e8a050" opacity=".8"/><rect x="45.5" y="6.5" width="2.2" height="1.1" fill="#e8a050" opacity=".8"/><rect x="18.4" y="11.2" width="2.0" height="1.0" fill="#e8a050" opacity=".8"/><rect x="17.3" y="15.8" width="2.4" height="1.2" fill="#8a8a90" opacity=".8"/><rect x="43.8" y="28.9" width="2.4" height="2.1" fill="#e8a050" opacity=".8"/><rect x="17.5" y="38.7" width="2.7" height="1.7" fill="#e8a050" opacity=".8"/><rect x="38.6" y="23.3" width="2.6" height="1.6" fill="#e8a050" opacity=".8"/><rect x="43.1" y="33.9" width="2.0" height="2.0" fill="#c0c0c8" opacity=".8"/><rect x="27.4" y="20.3" width="2.0" height="1.0" fill="#1a1a1c" opacity=".8"/><rect x="23.3" y="33.2" width="1.4" height="2.3" fill="#c0c0c8" opacity=".8"/><rect x="36.7" y="17.6" width="1.9" height="1.5" fill="#8a8a90" opacity=".8"/><rect x="20.5" y="46.5" width="1.5" height="1.6" fill="#f0c080" opacity=".8"/><rect x="43.6" y="25.6" width="1.4" height="1.3" fill="#f0c080" opacity=".8"/><rect x="20.6" y="8.1" width="1.3" height="1.9" fill="#e8a050" opacity=".8"/><rect x="22.6" y="8.9" width="1.8" height="1.5" fill="#e8a050" opacity=".8"/><rect x="1.7" y="34.3" width="1.8" height="1.6" fill="#f0c080" opacity=".8"/><rect x="1.4" y="46.3" width="1.5" height="1.6" fill="#f0c080" opacity=".8"/><rect x="9.7" y="16.0" width="1.7" height="1.2" fill="#e8a050" opacity=".8"/><rect x="2.6" y="34.9" width="3.0" height="2.4" fill="#8a8a90" opacity=".8"/><rect x="40.3" y="46.2" width="1.5" height="1.4" fill="#c0c0c8" opacity=".8"/><rect x="41.5" y="30.2" width="1.6" height="1.1" fill="#8a8a90" opacity=".8"/><rect x="22.2" y="4.3" width="1.0" height="1.0" fill="#3a3a40" opacity=".8"/><rect x="4.6" y="8.2" width="2.0" height="1.3" fill="#e8a050" opacity=".8"/><rect x="26.0" y="15.9" width="1.7" height="1.7" fill="#c0c0c8" opacity=".8"/></g></svg>
<div class="a" style="left:66.2px;top:63.2px;width:7.6px;height:7.6px;border-radius:50%;background:#2f6fe8;"></div>
<div class="a" style="left:65px;top:78px;width:14px;height:2.5px;background:rgba(255,255,255,.85)"></div>
<svg class="a" style="left:6px;top:110px" width="51" height="48" viewBox="0 0 51 48"><defs><clipPath id="tc2"><rect width="51" height="48" rx="6"/></clipPath><linearGradient id="tg2" x1="0" y1="0" x2="0" y2="1"><stop offset="0" stop-color="#86847e"/><stop offset="1" stop-color="#5e5c5a"/></linearGradient></defs><g clip-path="url(#tc2)"><rect width="51" height="48" fill="url(#tg2)"/><rect x="17.9" y="31.6" width="1.6" height="1.9" fill="#3a5a90" opacity=".8"/><rect x="48.3" y="4.2" width="1.4" height="1.6" fill="#505258" opacity=".8"/><rect x="25.9" y="26.3" width="2.4" height="2.4" fill="#d08040" opacity=".8"/><rect x="8.9" y="35.5" width="1.8" height="2.4" fill="#6a6a6a" opacity=".8"/><rect x="18.3" y="8.8" width="1.9" height="1.7" fill="#3a5a90" opacity=".8"/><rect x="35.8" y="16.6" width="2.0" height="2.1" fill="#b0b0b0" opacity=".8"/><rect x="46.7" y="33.5" width="1.1" height="1.3" fill="#3a5a90" opacity=".8"/><rect x="38.3" y="39.5" width="2.5" height="2.0" fill="#9a9a9a" opacity=".8"/><rect x="5.0" y="11.4" width="1.1" height="1.9" fill="#6a6a6a" opacity=".8"/><rect x="2.5" y="22.4" width="2.3" height="2.5" fill="#6a6a6a" opacity=".8"/><rect x="0.1" y="9.4" width="1.7" height="1.5" fill="#9a9a9a" opacity=".8"/><rect x="23.0" y="39.5" width="1.5" height="1.1" fill="#b0b0b0" opacity=".8"/><rect x="7.8" y="30.9" width="3.0" height="1.2" fill="#d08040" opacity=".8"/><rect x="14.7" y="10.0" width="2.0" height="1.8" fill="#d08040" opacity=".8"/><rect x="46.3" y="15.3" width="2.6" height="1.7" fill="#d08040" opacity=".8"/><rect x="31.7" y="2.0" width="2.2" height="2.3" fill="#9a9a9a" opacity=".8"/><rect x="5.2" y="45.3" width="1.2" height="1.7" fill="#505258" opacity=".8"/><rect x="11.4" y="39.8" width="1.2" height="1.7" fill="#d08040" opacity=".8"/><rect x="34.1" y="33.6" width="2.2" height="1.7" fill="#3a5a90" opacity=".8"/><rect x="5.7" y="40.1" width="1.9" height="1.6" fill="#d08040" opacity=".8"/><rect x="6.0" y="0.4" width="2.5" height="1.1" fill="#505258" opacity=".8"/><rect x="17.7" y="23.3" width="2.8" height="2.0" fill="#9a9a9a" opacity=".8"/><rect x="18.6" y="37.6" width="2.2" height="1.3" fill="#9a9a9a" opacity=".8"/><rect x="17.9" y="47.8" width="1.5" height="1.7" fill="#505258" opacity=".8"/><rect x="12.8" y="15.5" width="2.9" height="2.1" fill="#6a6a6a" opacity=".8"/><rect x="44.6" y="47.4" width="1.9" height="2.1" fill="#d08040" opacity=".8"/><rect x="43.5" y="17.7" width="2.8" height="2.4" fill="#b0b0b0" opacity=".8"/><rect x="24.7" y="37.1" width="1.9" height="1.9" fill="#3a5a90" opacity=".8"/><rect x="1.8" y="46.0" width="1.4" height="1.1" fill="#9a9a9a" opacity=".8"/><rect x="36.8" y="14.1" width="1.1" height="1.7" fill="#d08040" opacity=".8"/><rect x="9.9" y="10.0" width="1.9" height="1.5" fill="#3a5a90" opacity=".8"/><rect x="37.8" y="35.8" width="1.3" height="1.7" fill="#505258" opacity=".8"/><rect x="46.3" y="21.3" width="1.3" height="2.1" fill="#b0b0b0" opacity=".8"/><rect x="35.7" y="46.9" width="1.7" height="1.2" fill="#6a6a6a" opacity=".8"/><rect x="15.9" y="22.2" width="3.0" height="1.3" fill="#d08040" opacity=".8"/><rect x="48.8" y="13.8" width="1.9" height="2.3" fill="#9a9a9a" opacity=".8"/><rect x="41.2" y="14.3" width="2.9" height="1.8" fill="#b0b0b0" opacity=".8"/><rect x="0.7" y="30.2" width="2.1" height="1.2" fill="#b0b0b0" opacity=".8"/><rect x="2.6" y="9.8" width="1.7" height="2.4" fill="#3a5a90" opacity=".8"/><rect x="18.5" y="26.5" width="1.4" height="1.0" fill="#3a5a90" opacity=".8"/><rect x="22.1" y="16.2" width="2.2" height="2.2" fill="#9a9a9a" opacity=".8"/><rect x="23.0" y="12.6" width="2.6" height="1.6" fill="#6a6a6a" opacity=".8"/><rect x="13.3" y="2.1" width="1.1" height="2.5" fill="#3a5a90" opacity=".8"/><rect x="8.4" y="36.5" width="1.5" height="1.2" fill="#d08040" opacity=".8"/><rect x="38.7" y="37.9" width="2.5" height="1.5" fill="#d08040" opacity=".8"/><rect x="6.8" y="0.8" width="1.0" height="2.0" fill="#9a9a9a" opacity=".8"/><rect x="45.7" y="43.5" width="2.0" height="2.1" fill="#3a5a90" opacity=".8"/><rect x="43.9" y="46.9" width="1.8" height="1.8" fill="#d08040" opacity=".8"/><rect x="8.7" y="8.8" width="1.3" height="2.2" fill="#6a6a6a" opacity=".8"/><rect x="5.2" y="37.2" width="1.9" height="2.2" fill="#3a5a90" opacity=".8"/><rect x="23.1" y="46.0" width="2.2" height="1.2" fill="#b0b0b0" opacity=".8"/><rect x="1.9" y="23.3" width="2.7" height="2.4" fill="#b0b0b0" opacity=".8"/><rect x="31.2" y="1.5" width="2.2" height="1.2" fill="#d08040" opacity=".8"/><rect x="6.4" y="37.7" width="1.2" height="2.0" fill="#505258" opacity=".8"/><rect x="18.9" y="24.7" width="1.9" height="1.5" fill="#6a6a6a" opacity=".8"/><rect x="17.6" y="31.4" width="1.6" height="1.4" fill="#3a5a90" opacity=".8"/><rect x="48.4" y="45.3" width="2.2" height="1.8" fill="#505258" opacity=".8"/><rect x="1.8" y="20.0" width="3.0" height="1.1" fill="#3a5a90" opacity=".8"/><rect x="11.7" y="9.6" width="2.4" height="1.2" fill="#9a9a9a" opacity=".8"/><rect x="32.2" y="5.9" width="2.9" height="2.5" fill="#9a9a9a" opacity=".8"/><rect x="35.3" y="20.7" width="1.9" height="1.4" fill="#3a5a90" opacity=".8"/><rect x="28.5" y="8.4" width="2.9" height="1.2" fill="#3a5a90" opacity=".8"/><rect x="46.2" y="8.5" width="2.3" height="2.0" fill="#3a5a90" opacity=".8"/><rect x="7.3" y="2.6" width="1.4" height="1.3" fill="#6a6a6a" opacity=".8"/><rect x="42.0" y="42.0" width="2.0" height="1.2" fill="#9a9a9a" opacity=".8"/><rect x="10.9" y="37.4" width="1.8" height="2.5" fill="#3a5a90" opacity=".8"/><rect x="14.3" y="6.3" width="1.6" height="1.6" fill="#b0b0b0" opacity=".8"/><rect x="47.8" y="29.0" width="1.0" height="1.6" fill="#b0b0b0" opacity=".8"/><rect x="7.3" y="23.0" width="1.7" height="2.4" fill="#9a9a9a" opacity=".8"/><rect x="24.7" y="33.8" width="1.9" height="2.1" fill="#505258" opacity=".8"/></g></svg>
<div class="a" style="left:11.2px;top:115.2px;width:7.6px;height:7.6px;border-radius:50%;background:#2f6fe8;"></div>
<div class="a" style="left:10px;top:132px;width:34px;height:2.5px;background:rgba(255,255,255,.85)"></div>
<svg class="a" style="left:61px;top:110px" width="51" height="48" viewBox="0 0 51 48"><defs><clipPath id="tc3"><rect width="51" height="48" rx="6"/></clipPath><linearGradient id="tg3" x1="0" y1="0" x2="0" y2="1"><stop offset="0" stop-color="#7a7a7c"/><stop offset="1" stop-color="#4a4a4c"/></linearGradient></defs><g clip-path="url(#tc3)"><rect width="51" height="48" fill="url(#tg3)"/><rect x="27.1" y="41.0" width="2.1" height="1.7" fill="#3a5a90" opacity=".8"/><rect x="27.4" y="21.2" width="1.9" height="1.6" fill="#d08040" opacity=".8"/><rect x="38.6" y="14.2" width="2.7" height="1.3" fill="#6a6a6a" opacity=".8"/><rect x="49.1" y="40.3" width="1.6" height="2.3" fill="#b0b0b0" opacity=".8"/><rect x="6.6" y="29.0" width="1.8" height="2.3" fill="#9a9a9a" opacity=".8"/><rect x="5.8" y="0.7" width="2.6" height="2.5" fill="#9a9a9a" opacity=".8"/><rect x="35.0" y="25.2" width="1.2" height="1.8" fill="#505258" opacity=".8"/><rect x="22.5" y="7.0" width="1.4" height="1.7" fill="#d08040" opacity=".8"/><rect x="28.7" y="30.6" width="1.7" height="1.9" fill="#d08040" opacity=".8"/><rect x="50.0" y="44.9" width="2.7" height="1.4" fill="#6a6a6a" opacity=".8"/><rect x="49.8" y="12.9" width="2.2" height="1.3" fill="#9a9a9a" opacity=".8"/><rect x="50.8" y="35.0" width="1.6" height="2.5" fill="#b0b0b0" opacity=".8"/><rect x="23.1" y="22.9" width="2.6" height="1.3" fill="#d08040" opacity=".8"/><rect x="31.6" y="25.0" width="1.1" height="1.6" fill="#d08040" opacity=".8"/><rect x="28.0" y="29.3" width="1.1" height="2.3" fill="#505258" opacity=".8"/><rect x="19.6" y="47.1" width="2.0" height="1.1" fill="#505258" opacity=".8"/><rect x="25.2" y="5.6" width="2.7" height="2.1" fill="#6a6a6a" opacity=".8"/><rect x="18.4" y="14.4" width="1.7" height="1.7" fill="#d08040" opacity=".8"/><rect x="46.3" y="32.9" width="2.2" height="1.2" fill="#9a9a9a" opacity=".8"/><rect x="11.2" y="17.8" width="1.0" height="2.3" fill="#d08040" opacity=".8"/><rect x="10.7" y="20.9" width="1.1" height="1.8" fill="#b0b0b0" opacity=".8"/><rect x="47.0" y="25.6" width="1.7" height="2.1" fill="#6a6a6a" opacity=".8"/><rect x="40.9" y="10.2" width="2.4" height="1.2" fill="#505258" opacity=".8"/><rect x="44.9" y="18.2" width="1.3" height="1.5" fill="#3a5a90" opacity=".8"/><rect x="28.2" y="5.6" width="2.2" height="1.1" fill="#b0b0b0" opacity=".8"/><rect x="1.4" y="16.9" width="2.0" height="2.5" fill="#9a9a9a" opacity=".8"/><rect x="24.1" y="6.7" width="2.0" height="1.6" fill="#b0b0b0" opacity=".8"/><rect x="32.1" y="31.7" width="1.6" height="2.0" fill="#3a5a90" opacity=".8"/><rect x="38.0" y="42.1" width="1.9" height="2.1" fill="#9a9a9a" opacity=".8"/><rect x="50.6" y="3.2" width="1.6" height="2.4" fill="#9a9a9a" opacity=".8"/><rect x="32.2" y="4.5" width="1.7" height="1.6" fill="#6a6a6a" opacity=".8"/><rect x="29.7" y="42.4" width="2.3" height="2.4" fill="#b0b0b0" opacity=".8"/><rect x="2.6" y="24.9" width="2.0" height="1.9" fill="#d08040" opacity=".8"/><rect x="4.3" y="11.1" width="2.6" height="2.4" fill="#3a5a90" opacity=".8"/><rect x="20.2" y="16.5" width="2.3" height="1.8" fill="#3a5a90" opacity=".8"/><rect x="10.3" y="14.3" width="1.3" height="1.8" fill="#d08040" opacity=".8"/><rect x="31.6" y="17.0" width="2.7" height="2.1" fill="#d08040" opacity=".8"/><rect x="10.4" y="2.9" width="2.7" height="1.9" fill="#3a5a90" opacity=".8"/><rect x="25.2" y="41.0" width="2.6" height="2.4" fill="#b0b0b0" opacity=".8"/><rect x="6.1" y="43.9" width="2.7" height="1.5" fill="#3a5a90" opacity=".8"/><rect x="38.5" y="15.7" width="1.8" height="2.3" fill="#b0b0b0" opacity=".8"/><rect x="42.5" y="2.7" width="1.7" height="1.3" fill="#3a5a90" opacity=".8"/><rect x="14.5" y="16.6" width="2.4" height="1.5" fill="#9a9a9a" opacity=".8"/><rect x="5.7" y="10.6" width="1.3" height="1.3" fill="#3a5a90" opacity=".8"/><rect x="24.6" y="10.0" width="1.7" height="1.3" fill="#6a6a6a" opacity=".8"/><rect x="34.9" y="25.5" width="2.1" height="1.9" fill="#d08040" opacity=".8"/><rect x="32.0" y="21.2" width="1.2" height="1.8" fill="#9a9a9a" opacity=".8"/><rect x="23.3" y="0.9" width="1.5" height="2.3" fill="#b0b0b0" opacity=".8"/><rect x="35.0" y="10.7" width="3.0" height="1.5" fill="#d08040" opacity=".8"/><rect x="50.8" y="23.2" width="1.2" height="1.6" fill="#b0b0b0" opacity=".8"/><rect x="44.1" y="6.9" width="1.2" height="1.8" fill="#505258" opacity=".8"/><rect x="43.4" y="22.9" width="1.3" height="2.4" fill="#d08040" opacity=".8"/><rect x="19.1" y="2.0" width="2.6" height="1.3" fill="#505258" opacity=".8"/><rect x="4.8" y="36.5" width="2.2" height="1.9" fill="#d08040" opacity=".8"/><rect x="34.6" y="13.9" width="3.0" height="2.3" fill="#505258" opacity=".8"/><rect x="38.2" y="14.0" width="1.8" height="1.8" fill="#9a9a9a" opacity=".8"/><rect x="39.0" y="20.3" width="2.1" height="1.4" fill="#505258" opacity=".8"/><rect x="35.6" y="27.0" width="2.4" height="1.5" fill="#3a5a90" opacity=".8"/><rect x="8.3" y="43.9" width="1.3" height="1.6" fill="#3a5a90" opacity=".8"/><rect x="10.0" y="19.6" width="1.7" height="2.1" fill="#d08040" opacity=".8"/><rect x="30.9" y="33.7" width="2.0" height="1.3" fill="#b0b0b0" opacity=".8"/><rect x="5.1" y="25.8" width="2.7" height="1.8" fill="#3a5a90" opacity=".8"/><rect x="20.3" y="3.2" width="2.4" height="1.3" fill="#505258" opacity=".8"/><rect x="13.3" y="10.2" width="2.0" height="1.7" fill="#9a9a9a" opacity=".8"/><rect x="13.4" y="46.2" width="1.5" height="2.2" fill="#b0b0b0" opacity=".8"/><rect x="48.3" y="32.0" width="3.0" height="2.2" fill="#b0b0b0" opacity=".8"/><rect x="37.4" y="43.3" width="2.7" height="1.2" fill="#9a9a9a" opacity=".8"/><rect x="4.3" y="47.2" width="2.9" height="1.5" fill="#505258" opacity=".8"/><rect x="38.9" y="7.9" width="2.0" height="2.5" fill="#6a6a6a" opacity=".8"/><rect x="6.8" y="43.2" width="2.5" height="1.8" fill="#3a5a90" opacity=".8"/></g></svg>
<div class="a" style="left:66.2px;top:115.2px;width:7.6px;height:7.6px;border-radius:50%;background:#2f6fe8;"></div>
<div class="a" style="left:65px;top:132px;width:34px;height:2.5px;background:rgba(255,255,255,.85)"></div>
<div class="a" style="left:6px;top:162px;width:51px;height:46px;background:#fafafa;border:1px solid #eee;border-radius:4px"></div>
<div class="a" style="left:6px;top:214px;width:51px;height:46px;background:#fafafa;border:1px solid #eee;border-radius:4px"></div>
<div class="a" style="left:61px;top:162px;width:51px;height:46px;background:#fafafa;border:1px solid #eee;border-radius:4px"></div>
<div class="a" style="left:61px;top:214px;width:51px;height:46px;background:#fafafa;border:1px solid #eee;border-radius:4px"></div>
<svg class="a" style="left:6px;top:162px" width="110" height="100" viewBox="0 0 110 100"><polyline points="4,42 14,42 22,30 28,38 34,42" fill="none" stroke="#3ab87a" stroke-width="1"/><polyline points="4,42 14,42 21,28 28,36 34,40" fill="none" stroke="#3a6ee8" stroke-width="1"/><polyline points="59,42 68,42 76,30 82,38 88,40" fill="none" stroke="#3ab87a" stroke-width="1"/><polyline points="59,42 68,42 75,29 82,36 88,38" fill="none" stroke="#3a6ee8" stroke-width="1"/><polyline points="4,94 12,92 20,90 26,80 34,92" fill="none" stroke="#3a6ee8" stroke-width="1"/><line x1="59" y1="94" x2="88" y2="94" stroke="#8aaaf0" stroke-width="1"/></svg>
<div class="a" style="left:6px;top:266px;width:51px;height:44px;background:#fbfbfb;border:1px solid #f0f0f0;border-radius:4px"></div>
<div class="a" style="left:61px;top:266px;width:51px;height:44px;background:#fbfbfb;border:1px solid #f0f0f0;border-radius:4px"></div>
<div class="a" style="left:45px;top:326px;width:30px;height:8px;border:1px solid #e4e4e4;border-radius:5px"></div>
<div class="a" style="left:119px;top:33px;width:513px;height:362px;background:#f6f6f6;border-radius:0 0 9px 0"></div>
<div class="a" style="left:150px;top:76.5px;width:468px;height:269.5px;border:1.5px solid #9a9a9a;background:#f7f7f7"></div>
<div class="a" style="left:152.4px;top:79px;width:60.1px;height:155px;background:#e3e9f6;border:1px solid #9db8ec"></div>
<div class="a" style="left:321px;top:77.6px;width:22.3px;height:79.7px;background:#f9e4da;border:1px solid #e8b8a0"></div>
<div class="a" style="left:280px;top:158.8px;width:63.3px;height:38.8px;background:#f9e4da;border:1px solid #e8b8a0"></div>
<div class="a" style="left:258.7px;top:158.8px;width:21.3px;height:75.2px;background:#d4d4d4;border:1px solid #aaa"></div>
<div class="a" style="left:301.6px;top:197.6px;width:41.7px;height:36.4px;background:#d4d4d4;border:1px solid #aaa"></div>
<div class="a" style="left:280px;top:197.6px;width:21.6px;height:36.4px;background:#d4d4d4;border:1px solid #aaa"></div>
<div class="a" style="left:425.3px;top:80.5px;width:24.6px;height:39.5px;background:#f9e4da;border:1px solid #e8b8a0"></div>
<div class="a" style="left:451.4px;top:79px;width:57.1px;height:41px;background:#e3e9f6;border:1px solid #9db8ec"></div>
<div class="a" style="left:403.3px;top:155.8px;width:105.2px;height:39.9px;background:#e3e9f6;border:1px solid #9db8ec"></div>
<div class="a" style="left:258.7px;top:269px;width:109.3px;height:39.7px;background:#e3e9f6;border:1px solid #9db8ec"></div>
<div class="a" style="left:215.4px;top:299px;width:42.2px;height:9px;background:#f9e4da;border:1px solid #e8b8a0"></div>
<div class="a" style="left:150.6px;top:306.4px;width:17.4px;height:28.4px;background:#f9e4da;border:1px solid #e8b8a0"></div>
<div class="a" style="left:402.2px;top:303.8px;width:173.3px;height:41.0px;background:#e3e9f6;border:1px solid #9db8ec"></div>
<div class="a" style="left:480.5px;top:230.4px;width:28.0px;height:39.9px;background:#e3e9f6;border:1px solid #9db8ec"></div>
<div class="a" style="left:214px;top:77px;width:1.5px;height:157px;background:#9a9a9a"></div>
<div class="a" style="left:235px;top:77px;width:1.5px;height:71px;background:#9a9a9a"></div>
<div class="a" style="left:214px;top:147px;width:22.5px;height:1.5px;background:#9a9a9a"></div>
<div class="a" style="left:214px;top:174px;width:44px;height:1.5px;background:#9a9a9a"></div>
<div class="a" style="left:214px;top:232.5px;width:129px;height:1.5px;background:#9a9a9a"></div>
<div class="a" style="left:368px;top:77px;width:1.5px;height:79px;background:#9a9a9a"></div>
<div class="a" style="left:368.6px;top:82px;width:55.2px;height:1.5px;background:#9a9a9a"></div>
<div class="a" style="left:422.5px;top:82px;width:1.5px;height:41px;background:#9a9a9a"></div>
<div class="a" style="left:403px;top:120px;width:21px;height:1.5px;background:#9a9a9a"></div>
<div class="a" style="left:403px;top:82px;width:1.5px;height:39.5px;background:#9a9a9a"></div>
<div class="a" style="left:215px;top:256px;width:1.5px;height:52px;background:#9a9a9a"></div>
<div class="a" style="left:403px;top:229px;width:1.5px;height:40px;background:#9a9a9a"></div>
<div class="a" style="left:419px;top:229px;width:1.5px;height:40px;background:#9a9a9a"></div>
<div class="a" style="left:403px;top:267.5px;width:17px;height:1.5px;background:#9a9a9a"></div>
<div class="a" style="left:215px;top:328px;width:43px;height:1.5px;background:#9a9a9a"></div>
<div class="a" style="left:257px;top:328px;width:1.5px;height:18px;background:#9a9a9a"></div>
<div class="a" style="left:343px;top:77px;width:1.5px;height:157px;background:#9a9a9a"></div>
<div class="a" style="left:258px;top:158px;width:86px;height:1.5px;background:#9a9a9a"></div>
<div class="a" style="left:180.1px;top:97.1px;width:5.0px;height:5.0px;background:#bdbdbd;border:1px solid #999"></div>
<div class="a" style="left:180.1px;top:171.6px;width:5.0px;height:5.0px;background:#bdbdbd;border:1px solid #999"></div>
<div class="a" style="left:180.1px;top:245.9px;width:5.0px;height:5.0px;background:#bdbdbd;border:1px solid #999"></div>
<div class="a" style="left:180.1px;top:320.1px;width:5.0px;height:5.0px;background:#bdbdbd;border:1px solid #999"></div>
<div class="a" style="left:241.3px;top:97.1px;width:5.0px;height:5.0px;background:#bdbdbd;border:1px solid #999"></div>
<div class="a" style="left:241.3px;top:171.6px;width:5.0px;height:5.0px;background:#bdbdbd;border:1px solid #999"></div>
<div class="a" style="left:241.3px;top:245.9px;width:5.0px;height:5.0px;background:#bdbdbd;border:1px solid #999"></div>
<div class="a" style="left:241.3px;top:320.1px;width:5.0px;height:5.0px;background:#bdbdbd;border:1px solid #999"></div>
<div class="a" style="left:302.1px;top:97.1px;width:5.0px;height:5.0px;background:#bdbdbd;border:1px solid #999"></div>
<div class="a" style="left:302.1px;top:171.6px;width:5.0px;height:5.0px;background:#bdbdbd;border:1px solid #999"></div>
<div class="a" style="left:302.1px;top:245.9px;width:5.0px;height:5.0px;background:#bdbdbd;border:1px solid #999"></div>
<div class="a" style="left:302.1px;top:320.1px;width:5.0px;height:5.0px;background:#bdbdbd;border:1px solid #999"></div>
<div class="a" style="left:363.4px;top:97.1px;width:5.0px;height:5.0px;background:#bdbdbd;border:1px solid #999"></div>
<div class="a" style="left:363.4px;top:171.6px;width:5.0px;height:5.0px;background:#bdbdbd;border:1px solid #999"></div>
<div class="a" style="left:363.4px;top:245.9px;width:5.0px;height:5.0px;background:#bdbdbd;border:1px solid #999"></div>
<div class="a" style="left:363.4px;top:320.1px;width:5.0px;height:5.0px;background:#bdbdbd;border:1px solid #999"></div>
<div class="a" style="left:424.5px;top:97.1px;width:5.0px;height:5.0px;background:#bdbdbd;border:1px solid #999"></div>
<div class="a" style="left:424.5px;top:171.6px;width:5.0px;height:5.0px;background:#bdbdbd;border:1px solid #999"></div>
<div class="a" style="left:424.5px;top:245.9px;width:5.0px;height:5.0px;background:#bdbdbd;border:1px solid #999"></div>
<div class="a" style="left:424.5px;top:320.1px;width:5.0px;height:5.0px;background:#bdbdbd;border:1px solid #999"></div>
<div class="a" style="left:485.7px;top:97.1px;width:5.0px;height:5.0px;background:#bdbdbd;border:1px solid #999"></div>
<div class="a" style="left:485.7px;top:171.6px;width:5.0px;height:5.0px;background:#bdbdbd;border:1px solid #999"></div>
<div class="a" style="left:485.7px;top:245.9px;width:5.0px;height:5.0px;background:#bdbdbd;border:1px solid #999"></div>
<div class="a" style="left:485.7px;top:320.1px;width:5.0px;height:5.0px;background:#bdbdbd;border:1px solid #999"></div>
<div class="a" style="left:168.5px;top:90.5px;width:15.0px;height:6.0px;background:#111;border-radius:1px"></div>
<div class="a" style="left:174.5px;top:86.2px;width:3.0px;height:3.0px;background:#111;border-radius:50%"></div>
<div class="a" style="left:168.5px;top:172.5px;width:15.0px;height:6.0px;background:#111;border-radius:1px"></div>
<div class="a" style="left:174.5px;top:168.2px;width:3.0px;height:3.0px;background:#111;border-radius:50%"></div>
<div class="a" style="left:168.5px;top:254.5px;width:15.0px;height:6.0px;background:#111;border-radius:1px"></div>
<div class="a" style="left:174.5px;top:250.2px;width:3.0px;height:3.0px;background:#111;border-radius:50%"></div>
<div class="a" style="left:168.5px;top:336.5px;width:15.0px;height:6.0px;background:#111;border-radius:1px"></div>
<div class="a" style="left:174.5px;top:332.2px;width:3.0px;height:3.0px;background:#111;border-radius:50%"></div>
<div class="a" style="left:245.5px;top:90.5px;width:15.0px;height:6.0px;background:#111;border-radius:1px"></div>
<div class="a" style="left:251.5px;top:86.2px;width:3.0px;height:3.0px;background:#111;border-radius:50%"></div>
<div class="a" style="left:245.5px;top:172.5px;width:15.0px;height:6.0px;background:#111;border-radius:1px"></div>
<div class="a" style="left:251.5px;top:168.2px;width:3.0px;height:3.0px;background:#111;border-radius:50%"></div>
<div class="a" style="left:245.5px;top:254.5px;width:15.0px;height:6.0px;background:#111;border-radius:1px"></div>
<div class="a" style="left:251.5px;top:250.2px;width:3.0px;height:3.0px;background:#111;border-radius:50%"></div>
<div class="a" style="left:245.5px;top:336.5px;width:15.0px;height:6.0px;background:#111;border-radius:1px"></div>
<div class="a" style="left:251.5px;top:332.2px;width:3.0px;height:3.0px;background:#111;border-radius:50%"></div>
<div class="a" style="left:324.5px;top:90.5px;width:15.0px;height:6.0px;background:#111;border-radius:1px"></div>
<div class="a" style="left:330.5px;top:86.2px;width:3.0px;height:3.0px;background:#111;border-radius:50%"></div>
<div class="a" style="left:324.5px;top:172.5px;width:15.0px;height:6.0px;background:#111;border-radius:1px"></div>
<div class="a" style="left:330.5px;top:168.2px;width:3.0px;height:3.0px;background:#111;border-radius:50%"></div>
<div class="a" style="left:324.5px;top:254.5px;width:15.0px;height:6.0px;background:#111;border-radius:1px"></div>
<div class="a" style="left:330.5px;top:250.2px;width:3.0px;height:3.0px;background:#111;border-radius:50%"></div>
<div class="a" style="left:324.5px;top:336.5px;width:15.0px;height:6.0px;background:#111;border-radius:1px"></div>
<div class="a" style="left:330.5px;top:332.2px;width:3.0px;height:3.0px;background:#111;border-radius:50%"></div>
<div class="a" style="left:401.5px;top:90.5px;width:15.0px;height:6.0px;background:#111;border-radius:1px"></div>
<div class="a" style="left:407.5px;top:86.2px;width:3.0px;height:3.0px;background:#111;border-radius:50%"></div>
<div class="a" style="left:401.5px;top:172.5px;width:15.0px;height:6.0px;background:#111;border-radius:1px"></div>
<div class="a" style="left:407.5px;top:168.2px;width:3.0px;height:3.0px;background:#111;border-radius:50%"></div>
<div class="a" style="left:401.5px;top:254.5px;width:15.0px;height:6.0px;background:#111;border-radius:1px"></div>
<div class="a" style="left:407.5px;top:250.2px;width:3.0px;height:3.0px;background:#111;border-radius:50%"></div>
<div class="a" style="left:401.5px;top:336.5px;width:15.0px;height:6.0px;background:#111;border-radius:1px"></div>
<div class="a" style="left:407.5px;top:332.2px;width:3.0px;height:3.0px;background:#111;border-radius:50%"></div>
<div class="a" style="left:480.5px;top:90.5px;width:15.0px;height:6.0px;background:#111;border-radius:1px"></div>
<div class="a" style="left:486.5px;top:86.2px;width:3.0px;height:3.0px;background:#111;border-radius:50%"></div>
<div class="a" style="left:480.5px;top:172.5px;width:15.0px;height:6.0px;background:#111;border-radius:1px"></div>
<div class="a" style="left:486.5px;top:168.2px;width:3.0px;height:3.0px;background:#111;border-radius:50%"></div>
<div class="a" style="left:480.5px;top:254.5px;width:15.0px;height:6.0px;background:#111;border-radius:1px"></div>
<div class="a" style="left:486.5px;top:250.2px;width:3.0px;height:3.0px;background:#111;border-radius:50%"></div>
<div class="a" style="left:480.5px;top:336.5px;width:15.0px;height:6.0px;background:#111;border-radius:1px"></div>
<div class="a" style="left:486.5px;top:332.2px;width:3.0px;height:3.0px;background:#111;border-radius:50%"></div>
<div class="a" style="left:556.5px;top:336.5px;width:15.0px;height:6.0px;background:#111;border-radius:1px"></div>
<div class="a" style="left:562.5px;top:332.2px;width:3.0px;height:3.0px;background:#111;border-radius:50%"></div>
<div class="a" style="left:185.8px;top:110.1px;width:25.0px;height:6.4px;background:#3d7cf2;border-radius:1px"></div>
<div class="a" style="left:246.2px;top:126.2px;width:25.0px;height:6.4px;background:#3d7cf2;border-radius:1px"></div>
<div class="a" style="left:289.1px;top:127.3px;width:25.0px;height:6.4px;background:#3d7cf2;border-radius:1px"></div>
<div class="a" style="left:186.5px;top:141.5px;width:25.0px;height:6.4px;background:#3d7cf2;border-radius:1px"></div>
<div class="a" style="left:186.5px;top:172.8px;width:25.0px;height:6.4px;background:#3d7cf2;border-radius:1px"></div>
<div class="a" style="left:367.3px;top:198.1px;width:25.0px;height:6.4px;background:#3d7cf2;border-radius:1px"></div>
<div class="a" style="left:412.1px;top:202.6px;width:25.0px;height:6.4px;background:#3d7cf2;border-radius:1px"></div>
<div class="a" style="left:458.7px;top:205.6px;width:25.0px;height:6.4px;background:#3d7cf2;border-radius:1px"></div>
<div class="a" style="left:267.4px;top:242.8px;width:25.0px;height:6.4px;background:#3d7cf2;border-radius:1px"></div>
<div class="a" style="left:276.0px;top:282.7px;width:25.0px;height:6.4px;background:#3d7cf2;border-radius:1px"></div>
<div class="a" style="left:336.4px;top:283.9px;width:25.0px;height:6.4px;background:#3d7cf2;border-radius:1px"></div>
<div class="a" style="left:387.1px;top:278.6px;width:25.0px;height:6.4px;background:#3d7cf2;border-radius:1px"></div>
<div class="a" style="left:461.3px;top:280.9px;width:25.0px;height:6.4px;background:#3d7cf2;border-radius:1px"></div>
<div class="a" style="left:479.2px;top:289.8px;width:25.0px;height:6.4px;background:#3d7cf2;border-radius:1px"></div>
<div class="a" style="left:435.6px;top:318.5px;width:25.0px;height:6.4px;background:#3d7cf2;border-radius:1px"></div>
<div class="a" style="left:469.8px;top:318.5px;width:25.0px;height:6.4px;background:#3d7cf2;border-radius:1px"></div>
<div class="a" style="left:473.6px;top:125.4px;width:25.0px;height:6.4px;background:#3d7cf2;border-radius:1px"></div>
<div class="a" style="left:337px;top:223px;width:35px;height:5px;background:#111"></div>
<div class="a" style="left:448px;top:126px;width:41px;height:5px;background:#111"></div>
<div class="a" style="left:455px;top:42px;width:42px;height:2px;background:#777"></div>
<div class="a" style="left:508.8px;top:38.2px;width:117.9px;height:290.8px;background:#fff;border:1px solid #eee;border-radius:5px;box-shadow:0 1px 3px rgba(0,0,0,.06)"></div>
<div class="a" style="left:515px;top:44.5px;width:38px;height:3.0px;background:#444"></div>
<div class="a" style="left:615.1px;top:44.1px;width:4.8px;height:4.8px;border-radius:50%;background:#666;"></div>
<div class="a" style="left:509px;top:55.5px;width:117px;height:0.7px;background:#f0f0f0"></div>
<div class="a" style="left:515.5px;top:63.2px;width:19.0px;height:19.0px;border-radius:50%;background:#fafafa;border:1px solid #eee"></div>
<div class="a" style="left:521px;top:68.5px;width:8px;height:8.0px;background:#e4e4e4;border-radius:1px"></div>
<div class="a" style="left:608px;top:67px;width:12px;height:12px;border:1px solid #eee;border-radius:3px"></div>
<div class="a" style="left:515.4px;top:85.4px;width:104.8px;height:12.4px;background:#ececec;border-radius:4px"></div>
<div class="a" style="left:516.4px;top:86.4px;width:50.3px;height:10.4px;background:#fff;border-radius:4px"></div>
<div class="a" style="left:534px;top:90.5px;width:14px;height:2.0px;background:#555"></div>
<div class="a" style="left:585px;top:90.5px;width:12px;height:2.0px;background:#c8c8c8"></div>
<div class="a" style="left:515px;top:105.6px;width:14px;height:1.4px;background:#ccc"></div>
<div class="a" style="left:515.4px;top:115.2px;width:89.4px;height:12.0px;border:1px solid #eee;border-radius:3px"></div>
<div class="a" style="left:518px;top:120.3px;width:33px;height:2.0px;background:#333"></div>
<div class="a" style="left:613px;top:122px;width:5px;height:2px;background:#555"></div>
<svg class="a" style="left:520.5px;top:133.7px" width="100" height="62" viewBox="0 0 100 62"><g stroke="#ececec" stroke-width=".5"><line x1="0.0" y1="0" x2="0.0" y2="60"/><line x1="8.3" y1="0" x2="8.3" y2="60"/><line x1="16.6" y1="0" x2="16.6" y2="60"/><line x1="24.9" y1="0" x2="24.9" y2="60"/><line x1="33.2" y1="0" x2="33.2" y2="60"/><line x1="41.5" y1="0" x2="41.5" y2="60"/><line x1="49.8" y1="0" x2="49.8" y2="60"/><line x1="58.1" y1="0" x2="58.1" y2="60"/><line x1="66.4" y1="0" x2="66.4" y2="60"/><line x1="74.7" y1="0" x2="74.7" y2="60"/><line x1="83.0" y1="0" x2="83.0" y2="60"/><line x1="91.3" y1="0" x2="91.3" y2="60"/><line x1="99.6" y1="0" x2="99.6" y2="60"/><line x1="0" y1="0.0" x2="100" y2="0.0"/><line x1="0" y1="8.5" x2="100" y2="8.5"/><line x1="0" y1="17.0" x2="100" y2="17.0"/><line x1="0" y1="25.5" x2="100" y2="25.5"/><line x1="0" y1="34.0" x2="100" y2="34.0"/><line x1="0" y1="42.5" x2="100" y2="42.5"/><line x1="0" y1="51.0" x2="100" y2="51.0"/><line x1="0" y1="59.5" x2="100" y2="59.5"/></g><polyline points="0,48 8.3,56 16.6,45 24.9,52 33.2,52 41.5,0 49.8,8 58.1,30 66.4,38 74.7,41 83,45 91.3,53 99.6,58" fill="none" stroke="#3a6ee8" stroke-width="1"/></svg>
<div class="a" style="left:515px;top:206.5px;width:106px;height:0.7px;background:#eee"></div>
<div class="a" style="left:515px;top:214.7px;width:16px;height:1.3px;background:#ccc"></div>
<div class="a" style="left:515px;top:226.0px;width:26px;height:2.4px;background:#333"></div>
<div class="a" style="left:611px;top:226.2px;width:10px;height:2.0px;background:#aaa"></div>
<div class="a" style="left:515px;top:237.7px;width:30px;height:2.4px;background:#333"></div>
<div class="a" style="left:591px;top:237.9px;width:30px;height:2.0px;background:#aaa"></div>
<div class="a" style="left:515px;top:249.6px;width:27px;height:2.4px;background:#333"></div>
<div class="a" style="left:599px;top:249.8px;width:22px;height:2.0px;background:#aaa"></div>
<div class="a" style="left:515px;top:261.6px;width:13px;height:2.4px;background:#333"></div>
<div class="a" style="left:607px;top:261.8px;width:14px;height:2.0px;background:#3cc08a"></div>
<div class="a" style="left:515px;top:273.5px;width:16px;height:2.4px;background:#333"></div>
<div class="a" style="left:590px;top:273.7px;width:31px;height:2.0px;background:#aaa"></div>
<div class="a" style="left:515px;top:307.6px;width:8px;height:2.4px;background:#333"></div>
<div class="a" style="left:605px;top:307.8px;width:16px;height:2.0px;background:#aaa"></div>
<div class="a" style="left:515px;top:319.5px;width:12px;height:2.4px;background:#333"></div>
<div class="a" style="left:615px;top:319.7px;width:6px;height:2.0px;background:#aaa"></div>
<div class="a" style="left:515px;top:331.2px;width:16px;height:2.4px;background:#333"></div>
<div class="a" style="left:599px;top:331.4px;width:22px;height:2.0px;background:#aaa"></div>
<div class="a" style="left:515px;top:289.2px;width:37px;height:0.6px;background:#eee"></div>
<div class="a" style="left:515px;top:297px;width:16px;height:1.2px;background:#ccc"></div>
</div>
<div class="a" style="left:891px;top:588px;width:667.5px;height:60px;border-radius:6px;background:#a7a7a7;border-top:1.5px solid #777;box-shadow:0 1px 2px rgba(0,0,0,.25)">
<div class="a" style="left:4px;top:23.5px;width:15px;height:10px;border-radius:50%;background:#dfe5ef"></div>
<div class="a" style="left:649px;top:23.5px;width:15px;height:10px;border-radius:50%;background:#dfe5ef"></div>
<div class="a" style="left:20px;top:3px;width:9px;height:52px;border-radius:5px;background:linear-gradient(90deg,#8a8a8a,#f4f4f4 35%,#d0d0d0 55%,#7a7a7a);box-shadow:0 0 0 1px rgba(0,0,0,.15)"></div>
<div class="a" style="left:637px;top:3px;width:9px;height:52px;border-radius:5px;background:linear-gradient(90deg,#8a8a8a,#f4f4f4 35%,#d0d0d0 55%,#7a7a7a);box-shadow:0 0 0 1px rgba(0,0,0,.15)"></div>
<div class="a" style="left:53px;top:8px;width:53px;height:41.5px;background:#1c1c1c;border-radius:1px"></div>
<div class="a" style="left:73px;top:15.5px;width:14px;height:14px;border-radius:50%;border:3.5px solid #3a74d8;border-top-color:#2a5cc0"></div>
<div class="a" style="left:71px;top:34px;width:18px;height:1.5px;background:#555"></div>
<div class="a" style="left:74px;top:38px;width:12px;height:1.5px;background:#888"></div>
<div class="a" style="left:119px;top:23.5px;width:9px;height:9px;border-radius:50%;border:2.6px solid #222"></div>
<div class="a" style="left:130.5px;top:23.5px;font-size:7.2px;line-height:10px;letter-spacing:1.3px;color:#2a2a2a">ORBRO</div>
<div class="a" style="left:573px;top:11.5px;width:11px;height:11px;border-radius:50%;border:1.5px solid #e8e8e8;border-right-color:#999"></div>
<div class="a" style="left:418.1px;top:6.5px;width:23.5px;height:19.2px;background:#9b9b9b;border:1px solid #7a7a7a"><div class="a" style="left:2.5px;top:2.5px;width:16.5px;height:11.5px;background:#2b2724"></div></div>
<div class="a" style="left:418.1px;top:33.2px;width:23.5px;height:19.2px;background:#9b9b9b;border:1px solid #7a7a7a"><div class="a" style="left:2.5px;top:5px;width:16.5px;height:11.5px;background:#2b2724"></div></div>
<div class="a" style="left:451.3px;top:6.5px;width:23.5px;height:19.2px;background:#9b9b9b;border:1px solid #7a7a7a"><div class="a" style="left:2.5px;top:2.5px;width:16.5px;height:11.5px;background:#2b2724"></div></div>
<div class="a" style="left:451.3px;top:33.2px;width:23.5px;height:19.2px;background:#9b9b9b;border:1px solid #7a7a7a"><div class="a" style="left:2.5px;top:5px;width:16.5px;height:11.5px;background:#2b2724"></div></div>
<div class="a" style="left:484.2px;top:6.5px;width:23.5px;height:19.2px;background:#9b9b9b;border:1px solid #7a7a7a"><div class="a" style="left:2.5px;top:2.5px;width:16.5px;height:11.5px;background:#2b2724"></div></div>
<div class="a" style="left:484.2px;top:33.2px;width:23.5px;height:19.2px;background:#9b9b9b;border:1px solid #7a7a7a"><div class="a" style="left:2.5px;top:5px;width:16.5px;height:11.5px;background:#2b2724"></div></div>
<div class="a" style="left:517.3px;top:6.5px;width:23.5px;height:19.2px;background:#9b9b9b;border:1px solid #7a7a7a"><div class="a" style="left:2.5px;top:2.5px;width:16.5px;height:11.5px;background:#2b2724"></div></div>
<div class="a" style="left:517.3px;top:33.2px;width:23.5px;height:19.2px;background:#9b9b9b;border:1px solid #7a7a7a"><div class="a" style="left:2.5px;top:5px;width:16.5px;height:11.5px;background:#2b2724"></div></div>
<div class="a" style="left:588.2px;top:6.5px;width:23.5px;height:19.2px;background:#9b9b9b;border:1px solid #7a7a7a"><div class="a" style="left:2.5px;top:2.5px;width:16.5px;height:11.5px;background:#2b2724"></div></div>
<div class="a" style="left:588.2px;top:33.2px;width:23.5px;height:19.2px;background:#9b9b9b;border:1px solid #7a7a7a"><div class="a" style="left:2.5px;top:5px;width:16.5px;height:11.5px;background:#2b2724"></div></div>
</div>

<div class="a" style="left:810px;top:684px;width:823px;height:693px;background:#e6eaf3;border-radius:7px"></div>
<svg class="a" style="left:830px;top:711.5px" width="309" height="443"><rect x="1" y="1" width="307" height="441" fill="none" stroke="#3f78ea" stroke-width="2" stroke-dasharray="3.5 3"/></svg>
<svg class="a" style="left:1311.5px;top:711.5px" width="308" height="443"><rect x="1" y="1" width="306" height="441" fill="none" stroke="#3f78ea" stroke-width="2" stroke-dasharray="3.5 3"/></svg>
<svg class="a" style="left:830px;top:1189px" width="790" height="166"><rect x="1" y="1" width="788" height="164" fill="none" stroke="#4ccf9c" stroke-width="2" stroke-dasharray="4 3.5"/></svg>
<div class="a" style="left:848px;top:738px;width:272px;height:139px;background:#fff;border-radius:5px"></div>
<div class="a" style="left:848px;top:901px;width:272px;height:112px;background:#fff;border-radius:5px"></div>
<div class="a" style="left:848px;top:1027px;width:272px;height:111.5px;background:#fff;border-radius:5px"></div>
<div class="a" style="left:1329.5px;top:728px;width:272.0px;height:112px;background:#fff;border-radius:5px"></div>
<div class="a" style="left:1329.5px;top:877px;width:272.0px;height:112px;background:#fff;border-radius:5px"></div>
<div class="a" style="left:1329.5px;top:1027px;width:272.0px;height:111.5px;background:#fff;border-radius:5px"></div>
<div class="a" style="left:1166px;top:727.5px;width:119px;height:412px;background:#fff;border-radius:5px;box-shadow:0 2px 3px rgba(0,0,0,.18)"></div>
<div class="a" style="left:848px;top:1204px;width:140px;height:134.6px;background:#fff;border-radius:5px"></div>
<div class="a" style="left:1001px;top:1204px;width:141.29999999999995px;height:134.6px;background:#fff;border-radius:5px"></div>
<div class="a" style="left:1154.3px;top:1204px;width:141.20000000000005px;height:134.6px;background:#fff;border-radius:5px"></div>
<div class="a" style="left:1308.6px;top:1204px;width:139.80000000000018px;height:134.6px;background:#fff;border-radius:5px"></div>
<div class="a" style="left:1461.4px;top:1204px;width:140.19999999999982px;height:134.6px;background:#fff;border-radius:5px"></div>
<div class="t" style="left:868.0px;top:757.5px;font-size:20.5px;line-height:27px;font-weight:700;color:#141414;transform:scaleX(0.8554);transform-origin:0 50%;-webkit-text-stroke:0.35px #141414;">실시간 센싱데이터 수집</div>
<div class="t" style="left:868.0px;top:783.5px;font-size:20.5px;line-height:27px;font-weight:700;color:#141414;transform:scaleX(0.8709);transform-origin:0 50%;-webkit-text-stroke:0.35px #141414;">(기지국에서 수집된 데이터)</div>
<div class="t" style="left:868.0px;top:816.0px;font-size:15.5px;line-height:20px;font-weight:400;color:#6e6e6e;transform:scaleX(0.8607);transform-origin:0 50%;">ISAC 기지국으로부터 수집된 통신 및</div>
<div class="t" style="left:868.0px;top:836.4px;font-size:15.5px;line-height:20px;font-weight:400;color:#6e6e6e;transform:scaleX(0.8456);transform-origin:0 50%;">센싱 데이터 수신</div>
<div class="t" style="left:868.0px;top:919.9px;font-size:20.5px;line-height:27px;font-weight:700;color:#141414;transform:scaleX(0.8971);transform-origin:0 50%;-webkit-text-stroke:0.35px #141414;">CCTV 영상정보 스트리밍</div>
<div class="t" style="left:868.0px;top:952.2px;font-size:15.5px;line-height:20px;font-weight:400;color:#6e6e6e;transform:scaleX(0.8720);transform-origin:0 50%;">원격 현장확인을 위한 기존 CCTV 데</div>
<div class="t" style="left:868.0px;top:972.4px;font-size:15.5px;line-height:20px;font-weight:400;color:#6e6e6e;transform:scaleX(0.8344);transform-origin:0 50%;">이터 연동</div>
<div class="t" style="left:868.0px;top:1045.5px;font-size:20.5px;line-height:27px;font-weight:700;color:#141414;transform:scaleX(0.8720);transform-origin:0 50%;-webkit-text-stroke:0.35px #141414;">외부 데이터 정보 송/수신</div>
<div class="t" style="left:868.0px;top:1077.4px;font-size:15.5px;line-height:20px;font-weight:400;color:#6e6e6e;transform:scaleX(0.8476);transform-origin:0 50%;">공공 데이터 정보 수신</div>
<div class="t" style="left:868.0px;top:1097.9px;font-size:15.5px;line-height:20px;font-weight:400;color:#6e6e6e;transform:scaleX(0.8513);transform-origin:0 50%;">실시간 데이터 수집 및 연동</div>
<div class="t" style="left:1349.6px;top:747.2px;font-size:20.5px;line-height:27px;font-weight:700;color:#141414;transform:scaleX(0.8569);transform-origin:0 50%;-webkit-text-stroke:0.35px #141414;">실시간 위치 데이터 표현</div>
<div class="t" style="left:1349.6px;top:779.0px;font-size:15.5px;line-height:20px;font-weight:400;color:#6e6e6e;transform:scaleX(0.8475);transform-origin:0 50%;">수집된 데이터의 정보를 지도 기반의</div>
<div class="t" style="left:1349.6px;top:799.0px;font-size:15.5px;line-height:20px;font-weight:400;color:#6e6e6e;transform:scaleX(0.8467);transform-origin:0 50%;">모니터링 화면에 실시간 표시</div>
<div class="t" style="left:1349.6px;top:896.5px;font-size:20.5px;line-height:27px;font-weight:700;color:#141414;transform:scaleX(0.8536);transform-origin:0 50%;-webkit-text-stroke:0.35px #141414;">네트워크 상태 모니터링</div>
<div class="t" style="left:1349.6px;top:928.0px;font-size:15.5px;line-height:20px;font-weight:400;color:#6e6e6e;transform:scaleX(0.8480);transform-origin:0 50%;">연동된 장비들의 수신율, 네트워크 상</div>
<div class="t" style="left:1349.6px;top:948.2px;font-size:15.5px;line-height:20px;font-weight:400;color:#6e6e6e;transform:scaleX(0.8449);transform-origin:0 50%;">태 등 모니터링</div>
<div class="t" style="left:1349.6px;top:1045.5px;font-size:20.5px;line-height:27px;font-weight:700;color:#141414;transform:scaleX(0.8491);transform-origin:0 50%;-webkit-text-stroke:0.35px #141414;">데이터 분석</div>
<div class="t" style="left:1349.6px;top:1077.4px;font-size:15.5px;line-height:20px;font-weight:400;color:#6e6e6e;transform:scaleX(0.8475);transform-origin:0 50%;">위치분석 서비스를 위한 데이터 분석</div>
<div class="t" style="left:1349.6px;top:1097.9px;font-size:15.5px;line-height:20px;font-weight:400;color:#6e6e6e;transform:scaleX(0.8300);transform-origin:0 50%;">결과 제공</div>
<div class="t" style="left:1199.0px;top:912.1px;font-size:20.5px;line-height:27px;font-weight:700;color:#141414;transform:scaleX(0.8571);transform-origin:0 50%;-webkit-text-stroke:0.35px #141414;">서비스</div>
<div class="t" style="left:1199.0px;top:938.4px;font-size:20.5px;line-height:27px;font-weight:700;color:#141414;transform:scaleX(0.9116);transform-origin:0 50%;-webkit-text-stroke:0.35px #141414;">CORE</div>
<div class="t" style="left:857.5px;top:1212.2px;font-size:18.5px;line-height:24px;font-weight:700;color:#141414;transform:scaleX(0.8197);transform-origin:0 50%;-webkit-text-stroke:0.35px #141414;">지도관리</div>
<div class="t" style="left:857.5px;top:1242.0px;font-size:15px;line-height:20px;font-weight:400;color:#6e6e6e;transform:scaleX(0.9056);transform-origin:0 50%;">관리 공간의 지도 편</div>
<div class="t" style="left:857.5px;top:1262.9px;font-size:15px;line-height:20px;font-weight:400;color:#6e6e6e;transform:scaleX(0.9099);transform-origin:0 50%;">집 및 수정 지원, 축</div>
<div class="t" style="left:857.5px;top:1283.8px;font-size:15px;line-height:20px;font-weight:400;color:#6e6e6e;transform:scaleX(0.9056);transform-origin:0 50%;">척 등의 세부정보 입</div>
<div class="t" style="left:857.5px;top:1304.7px;font-size:15px;line-height:20px;font-weight:400;color:#6e6e6e;transform:scaleX(0.9030);transform-origin:0 50%;">력 지원</div>
<div class="t" style="left:1011.3px;top:1212.2px;font-size:18.5px;line-height:24px;font-weight:700;color:#141414;transform:scaleX(0.8200);transform-origin:0 50%;-webkit-text-stroke:0.35px #141414;">디바이스 관리</div>
<div class="t" style="left:1011.3px;top:1242.0px;font-size:15px;line-height:20px;font-weight:400;color:#6e6e6e;transform:scaleX(0.8939);transform-origin:0 50%;">수신된 디바이스의</div>
<div class="t" style="left:1011.3px;top:1262.9px;font-size:15px;line-height:20px;font-weight:400;color:#6e6e6e;transform:scaleX(0.9041);transform-origin:0 50%;">등록 상태 관리, 장</div>
<div class="t" style="left:1011.3px;top:1283.8px;font-size:15px;line-height:20px;font-weight:400;color:#6e6e6e;transform:scaleX(0.8842);transform-origin:0 50%;">비 이상관리</div>
<div class="t" style="left:1164.0px;top:1212.2px;font-size:18.5px;line-height:24px;font-weight:700;color:#141414;transform:scaleX(0.8188);transform-origin:0 50%;-webkit-text-stroke:0.35px #141414;">사용자 관리</div>
<div class="t" style="left:1164.0px;top:1242.0px;font-size:15px;line-height:20px;font-weight:400;color:#6e6e6e;transform:scaleX(0.9056);transform-origin:0 50%;">사용자, 관리자 권한</div>
<div class="t" style="left:1164.0px;top:1262.9px;font-size:15px;line-height:20px;font-weight:400;color:#6e6e6e;transform:scaleX(0.9041);transform-origin:0 50%;">및 그룹, 정책 편집</div>
<div class="t" style="left:1164.0px;top:1283.8px;font-size:15px;line-height:20px;font-weight:400;color:#6e6e6e;transform:scaleX(0.8867);transform-origin:0 50%;">및 관리</div>
<div class="t" style="left:1318.0px;top:1212.2px;font-size:18.5px;line-height:24px;font-weight:700;color:#141414;transform:scaleX(0.8258);transform-origin:0 50%;-webkit-text-stroke:0.35px #141414;">시스템 관리</div>
<div class="t" style="left:1318.0px;top:1242.0px;font-size:15px;line-height:20px;font-weight:400;color:#6e6e6e;transform:scaleX(0.9038);transform-origin:0 50%;">운영 서버의 관리상</div>
<div class="t" style="left:1318.0px;top:1262.9px;font-size:15px;line-height:20px;font-weight:400;color:#6e6e6e;transform:scaleX(0.9020);transform-origin:0 50%;">태 모니터링, 서버</div>
<div class="t" style="left:1318.0px;top:1283.8px;font-size:15px;line-height:20px;font-weight:400;color:#6e6e6e;transform:scaleX(0.8994);transform-origin:0 50%;">부하 모니터링</div>
<div class="t" style="left:1470.8px;top:1212.2px;font-size:18.5px;line-height:24px;font-weight:700;color:#141414;transform:scaleX(0.8338);transform-origin:0 50%;-webkit-text-stroke:0.35px #141414;">개발자 센터</div>
<div class="t" style="left:1470.8px;top:1242.0px;font-size:15px;line-height:20px;font-weight:400;color:#6e6e6e;transform:scaleX(0.9062);transform-origin:0 50%;">오브로 서비스의 플</div>
<div class="t" style="left:1470.8px;top:1262.9px;font-size:15px;line-height:20px;font-weight:400;color:#6e6e6e;transform:scaleX(0.9062);transform-origin:0 50%;">러그인을 위한 개발</div>
<div class="t" style="left:1470.8px;top:1283.8px;font-size:15px;line-height:20px;font-weight:400;color:#6e6e6e;transform:scaleX(0.9041);transform-origin:0 50%;">자 센터 제공, 토근</div>
<div class="t" style="left:1470.8px;top:1304.7px;font-size:15px;line-height:20px;font-weight:400;color:#6e6e6e;transform:scaleX(0.8951);transform-origin:0 50%;">발급 및 관리</div>
<div class="a" style="left:1118.5px;top:804.0px;width:6.6px;height:6.6px;border-radius:50%;background:#808080;"></div>
<div class="a" style="left:1121.8px;top:806.55px;width:42.200000000000045px;height:1.5px;background:#808080"></div>
<div class="a" style="left:1156px;top:803.3px;border-top:4px solid transparent;border-bottom:4px solid transparent;border-left:8px solid #808080"></div>
<div class="a" style="left:1118.5px;top:956.1px;width:6.6px;height:6.6px;border-radius:50%;background:#808080;"></div>
<div class="a" style="left:1121.8px;top:958.65px;width:42.200000000000045px;height:1.5px;background:#808080"></div>
<div class="a" style="left:1156px;top:955.4px;border-top:4px solid transparent;border-bottom:4px solid transparent;border-left:8px solid #808080"></div>
<div class="a" style="left:1118.5px;top:1078.7px;width:6.6px;height:6.6px;border-radius:50%;background:#808080;"></div>
<div class="a" style="left:1121.8px;top:1081.25px;width:42.200000000000045px;height:1.5px;background:#808080"></div>
<div class="a" style="left:1156px;top:1078px;border-top:4px solid transparent;border-bottom:4px solid transparent;border-left:8px solid #808080"></div>
<div class="a" style="left:1324.7px;top:770.4px;width:6.6px;height:6.6px;border-radius:50%;background:#808080;"></div>
<div class="a" style="left:1287px;top:772.95px;width:41px;height:1.5px;background:#808080"></div>
<div class="a" style="left:1287px;top:769.7px;border-top:4px solid transparent;border-bottom:4px solid transparent;border-right:8px solid #808080"></div>
<div class="a" style="left:1324.7px;top:929.2px;width:6.6px;height:6.6px;border-radius:50%;background:#808080;"></div>
<div class="a" style="left:1287px;top:931.75px;width:41px;height:1.5px;background:#808080"></div>
<div class="a" style="left:1287px;top:928.5px;border-top:4px solid transparent;border-bottom:4px solid transparent;border-right:8px solid #808080"></div>
<div class="a" style="left:1324.7px;top:1078.7px;width:6.6px;height:6.6px;border-radius:50%;background:#808080;"></div>
<div class="a" style="left:1287px;top:1081.25px;width:41px;height:1.5px;background:#808080"></div>
<div class="a" style="left:1287px;top:1078px;border-top:4px solid transparent;border-bottom:4px solid transparent;border-right:8px solid #808080"></div>
<div class="a" style="left:915.4px;top:1199.2px;width:6.6px;height:6.6px;border-radius:50%;background:#808080;"></div>
<div class="a" style="left:917.95px;top:1169px;width:1.5px;height:33.5px;background:#808080"></div>
<div class="a" style="left:918.7px;top:1168.25px;width:279.89999999999986px;height:1.5px;background:#808080"></div>
<div class="a" style="left:1197.85px;top:1148px;width:1.5px;height:21px;background:#808080"></div>
<div class="a" style="left:1194.6px;top:1142px;border-left:4px solid transparent;border-right:4px solid transparent;border-bottom:8px solid #808080"></div>
<div class="a" style="left:1063.0px;top:1199.2px;width:6.6px;height:6.6px;border-radius:50%;background:#808080;"></div>
<div class="a" style="left:1065.55px;top:1180.5px;width:1.5px;height:22.0px;background:#808080"></div>
<div class="a" style="left:1066.3px;top:1179.75px;width:146.9000000000001px;height:1.5px;background:#808080"></div>
<div class="a" style="left:1212.45px;top:1148px;width:1.5px;height:32.5px;background:#808080"></div>
<div class="a" style="left:1209.2px;top:1142px;border-left:4px solid transparent;border-right:4px solid transparent;border-bottom:8px solid #808080"></div>
<div class="a" style="left:1220.3px;top:1199.2px;width:6.6px;height:6.6px;border-radius:50%;background:#808080;"></div>
<div class="a" style="left:1222.85px;top:1148px;width:1.5px;height:55px;background:#808080"></div>
<div class="a" style="left:1219.6px;top:1142px;border-left:4px solid transparent;border-right:4px solid transparent;border-bottom:8px solid #808080"></div>
<div class="a" style="left:1373.1px;top:1199.2px;width:6.6px;height:6.6px;border-radius:50%;background:#808080;"></div>
<div class="a" style="left:1375.65px;top:1180.5px;width:1.5px;height:22.0px;background:#808080"></div>
<div class="a" style="left:1235.5px;top:1179.75px;width:140.9000000000001px;height:1.5px;background:#808080"></div>
<div class="a" style="left:1234.75px;top:1148px;width:1.5px;height:32.5px;background:#808080"></div>
<div class="a" style="left:1231.5px;top:1142px;border-left:4px solid transparent;border-right:4px solid transparent;border-bottom:8px solid #808080"></div>
<div class="a" style="left:1527.8px;top:1199.2px;width:6.6px;height:6.6px;border-radius:50%;background:#808080;"></div>
<div class="a" style="left:1530.35px;top:1168.2px;width:1.5px;height:34.299999999999955px;background:#808080"></div>
<div class="a" style="left:1248.6px;top:1167.45px;width:282.5px;height:1.5px;background:#808080"></div>
<div class="a" style="left:1247.85px;top:1148px;width:1.5px;height:20.200000000000045px;background:#808080"></div>
<div class="a" style="left:1244.6px;top:1142px;border-left:4px solid transparent;border-right:4px solid transparent;border-bottom:8px solid #808080"></div>

<div class="t" style="left:1813.6px;top:141.0px;font-size:24.5px;line-height:32px;font-weight:700;color:#1b3f91;transform:scaleX(0.8988);transform-origin:0 50%;-webkit-text-stroke:0.35px #1b3f91;">통신 관리</div>
<div class="a" style="left:1814.3px;top:190.6px;width:557px;height:358px;background:#e6eaf3"></div>
<div class="a" style="left:1847.5px;top:211.3px;width:494.5px;height:297.4px;background:#fff"></div>
<div class="a" style="left:1850px;top:215px;width:241.0px;height:140.0px;overflow:hidden;background:linear-gradient(180deg,#2a5bc8 0%,#2450b8 35%,#1a3a90 55%,#0a1850 75%,#050c30 100%)"><div class="a" style="left:24.1px;top:14.7px;width:192.8px;height:125.3px;background:#fff;border-radius:2px;box-shadow:0 2px 4px rgba(0,0,0,.4)"><div class="a" style="left:4px;top:6px;width:184.8px;height:68.9px;background:linear-gradient(135deg,#e8e8e8,#d4d4d4 40%,#e6e6e6 60%,#cfcfcf)"></div><div class="a" style="left:106.0px;top:2px;width:48.2px;height:37.6px;background:#b8b8b8;opacity:.6;border-radius:30%"></div><div class="a" style="left:67.5px;top:87.7px;width:86.8px;height:35.1px;background:linear-gradient(170deg,#eef2fb,#dfe6f5)"></div></div><div class="a" style="left:188.0px;top:43.4px;width:41.0px;height:104.6px;background:#f4f6fa;border:2px solid #3a3632;border-radius:7px"></div><div class="a" style="left:227.0px;top:126.0px;width:8px;height:8px;border-radius:50%;background:#fff"></div></div>
<div class="a" style="left:2102px;top:216px;width:235.0px;height:137.6px;overflow:hidden;background:linear-gradient(180deg,#2a5bc8 0%,#2450b8 35%,#1a3a90 55%,#0a1850 75%,#050c30 100%)"><div class="a" style="left:23.5px;top:14.4px;width:188.0px;height:110.1px;background:#fff;border-radius:2px;box-shadow:0 2px 4px rgba(0,0,0,.4)"><div class="a" style="left:6px;top:6px;width:178.0px;height:102.1px;background:radial-gradient(ellipse 30% 35% at 62% 65%,#f4541e 0%,#f45a22 60%,transparent 100%),radial-gradient(ellipse 55% 60% at 55% 55%,#f08438 0%,#f0903f 50%,transparent 100%),radial-gradient(ellipse at 50% 50%,#f5c49a 0%,#f3cfae 60%,#e4e2e2 100%)"></div><div class="a" style="left:117.3px;top:79.2px;width:3.5px;height:3.5px;border-radius:50%;background:#3d7ae8;box-shadow:1px -1px 0 #fff"></div><div class="a" style="left:136.7px;top:94.6px;width:3.5px;height:3.5px;border-radius:50%;background:#3d7ae8;box-shadow:1px -1px 0 #fff"></div><div class="a" style="left:130.5px;top:93.1px;width:3.5px;height:3.5px;border-radius:50%;background:#3d7ae8;box-shadow:1px -1px 0 #fff"></div><div class="a" style="left:50.3px;top:57.9px;width:3.5px;height:3.5px;border-radius:50%;background:#3d7ae8;box-shadow:1px -1px 0 #fff"></div><div class="a" style="left:153.4px;top:72.0px;width:3.5px;height:3.5px;border-radius:50%;background:#3d7ae8;box-shadow:1px -1px 0 #fff"></div><div class="a" style="left:148.6px;top:30.7px;width:3.5px;height:3.5px;border-radius:50%;background:#3d7ae8;box-shadow:1px -1px 0 #fff"></div><div class="a" style="left:99.9px;top:41.0px;width:3.5px;height:3.5px;border-radius:50%;background:#3d7ae8;box-shadow:1px -1px 0 #fff"></div><div class="a" style="left:108.3px;top:66.2px;width:3.5px;height:3.5px;border-radius:50%;background:#3d7ae8;box-shadow:1px -1px 0 #fff"></div><div class="a" style="left:48.5px;top:38.7px;width:3.5px;height:3.5px;border-radius:50%;background:#3d7ae8;box-shadow:1px -1px 0 #fff"></div><div class="a" style="left:78.5px;top:92.6px;width:3.5px;height:3.5px;border-radius:50%;background:#3d7ae8;box-shadow:1px -1px 0 #fff"></div><div class="a" style="left:133.4px;top:34.3px;width:3.5px;height:3.5px;border-radius:50%;background:#3d7ae8;box-shadow:1px -1px 0 #fff"></div><div class="a" style="left:136.9px;top:32.7px;width:3.5px;height:3.5px;border-radius:50%;background:#3d7ae8;box-shadow:1px -1px 0 #fff"></div><div class="a" style="left:116.6px;top:31.8px;width:3.5px;height:3.5px;border-radius:50%;background:#3d7ae8;box-shadow:1px -1px 0 #fff"></div><div class="a" style="left:47.2px;top:89.2px;width:3.5px;height:3.5px;border-radius:50%;background:#3d7ae8;box-shadow:1px -1px 0 #fff"></div><div class="a" style="left:70.6px;top:38.6px;width:3.5px;height:3.5px;border-radius:50%;background:#3d7ae8;box-shadow:1px -1px 0 #fff"></div><div class="a" style="left:157.8px;top:89.2px;width:3.5px;height:3.5px;border-radius:50%;background:#3d7ae8;box-shadow:1px -1px 0 #fff"></div><div class="a" style="left:79.6px;top:96.1px;width:3.5px;height:3.5px;border-radius:50%;background:#3d7ae8;box-shadow:1px -1px 0 #fff"></div><div class="a" style="left:107.8px;top:74.2px;width:3.5px;height:3.5px;border-radius:50%;background:#3d7ae8;box-shadow:1px -1px 0 #fff"></div><div class="a" style="left:70.1px;top:94.5px;width:3.5px;height:3.5px;border-radius:50%;background:#3d7ae8;box-shadow:1px -1px 0 #fff"></div><div class="a" style="left:124.9px;top:96.5px;width:3.5px;height:3.5px;border-radius:50%;background:#3d7ae8;box-shadow:1px -1px 0 #fff"></div><div class="a" style="left:147.8px;top:45.0px;width:3.5px;height:3.5px;border-radius:50%;background:#3d7ae8;box-shadow:1px -1px 0 #fff"></div><div class="a" style="left:87.7px;top:34.8px;width:3.5px;height:3.5px;border-radius:50%;background:#3d7ae8;box-shadow:1px -1px 0 #fff"></div><div class="a" style="left:63.4px;top:27.0px;width:3.5px;height:3.5px;border-radius:50%;background:#3d7ae8;box-shadow:1px -1px 0 #fff"></div><div class="a" style="left:81.0px;top:68.5px;width:3.5px;height:3.5px;border-radius:50%;background:#3d7ae8;box-shadow:1px -1px 0 #fff"></div><div class="a" style="left:47.4px;top:74.3px;width:3.5px;height:3.5px;border-radius:50%;background:#3d7ae8;box-shadow:1px -1px 0 #fff"></div><div class="a" style="left:85.1px;top:45.9px;width:3.5px;height:3.5px;border-radius:50%;background:#3d7ae8;box-shadow:1px -1px 0 #fff"></div></div><div class="a" style="left:183.3px;top:41.3px;width:40.0px;height:85.3px;background:#f4f6fa;border:2px solid #3a3632;border-radius:7px"></div><div class="a" style="left:221.0px;top:123.6px;width:8px;height:8px;border-radius:50%;background:#fff"></div></div>
<div class="a" style="left:1853px;top:368px;width:235.0px;height:137.7px;overflow:hidden;background:linear-gradient(180deg,#2a5bc8 0%,#2450b8 35%,#1a3a90 55%,#0a1850 75%,#050c30 100%)"><div class="a" style="left:23.5px;top:14.5px;width:188.0px;height:110.2px;background:#fff;border-radius:2px;box-shadow:0 2px 4px rgba(0,0,0,.4)"><div class="a" style="left:56.4px;top:33.0px;width:84.6px;height:44.1px;background:repeating-linear-gradient(180deg,#ddd 0 1px,transparent 1px 6px)"></div></div><div class="a" style="left:183.3px;top:41.3px;width:40.0px;height:85.4px;background:#f4f6fa;border:2px solid #3a3632;border-radius:7px"></div><div class="a" style="left:221.0px;top:123.7px;width:8px;height:8px;border-radius:50%;background:#fff"></div></div>
<div class="a" style="left:2103px;top:369px;width:234.0px;height:138.5px;overflow:hidden;background:linear-gradient(180deg,#2a5bc8 0%,#2450b8 35%,#1a3a90 55%,#0a1850 75%,#050c30 100%)"><div class="a" style="left:23.4px;top:14.5px;width:187.2px;height:110.8px;background:#fff;border-radius:2px;box-shadow:0 2px 4px rgba(0,0,0,.4)"><div class="a" style="left:56.2px;top:52px;width:4px;height:10px;background:#e8502a"></div><div class="a" style="left:63.2px;top:52px;width:4px;height:12px;background:#e8502a"></div><div class="a" style="left:70.2px;top:52px;width:4px;height:9px;background:#e8502a"></div><div class="a" style="left:77.2px;top:52px;width:4px;height:7px;background:#e8502a"></div><div class="a" style="left:84.2px;top:52px;width:4px;height:5px;background:#e8502a"></div><div class="a" style="left:91.2px;top:52px;width:4px;height:3px;background:#e8502a"></div><div class="a" style="left:98.2px;top:49px;width:4px;height:3px;background:#3a6ee8"></div><div class="a" style="left:105.2px;top:47px;width:4px;height:5px;background:#3a6ee8"></div><div class="a" style="left:112.2px;top:45px;width:4px;height:7px;background:#3a6ee8"></div><div class="a" style="left:119.2px;top:43px;width:4px;height:9px;background:#3a6ee8"></div><div class="a" style="left:126.2px;top:40px;width:4px;height:12px;background:#3a6ee8"></div><div class="a" style="left:133.2px;top:37px;width:4px;height:15px;background:#3a6ee8"></div><div class="a" style="left:33.7px;top:94.2px;width:8px;height:4px;background:#3a6ee8"></div></div><div class="a" style="left:220.0px;top:124.5px;width:8px;height:8px;border-radius:50%;background:#fff"></div></div>
<div class="t" style="left:1813.6px;top:562.1px;font-size:24.5px;line-height:32px;font-weight:700;color:#1b3f91;transform:scaleX(0.8988);transform-origin:0 50%;-webkit-text-stroke:0.35px #1b3f91;">센싱 관리</div>
<div class="a" style="left:1814.3px;top:607px;width:557px;height:413px;background:#e6eaf3"></div>
<div class="a" style="left:1845px;top:623px;width:229px;height:163.39999999999998px;background:#fff;border-radius:6px"></div>
<div class="a" style="left:1866.4px;top:641.9px;width:185.6px;height:117.0px;border:2.6px solid #111;border-radius:7px;background:#fff;overflow:hidden"><div class="a" style="left:37.1px;top:0;width:148.5px;height:117.0px;background:#f7f7f7"></div><div class="a" style="left:150.3px;top:5.9px;width:33.4px;height:91.3px;background:#fff"></div><div class="a" style="left:154.0px;top:35.1px;width:26.0px;height:35.1px;background:repeating-linear-gradient(90deg,#eee 0 1px,transparent 1px 5px)"></div><svg class="a" style="left:154.0px;top:35.1px" width="26.0" height="35.1" viewBox="0 0 26 35"><polyline points="0,30 8,30 13,10 16,8 18,25 26,28" fill="none" stroke="#7a9ae0" stroke-width="1"/></svg><div class="a" style="left:154.0px;top:77.2px;width:9.3px;height:1.5px;background:#666"></div><div class="a" style="left:170.8px;top:77.2px;width:9.3px;height:1.5px;background:#aaa"></div><div class="a" style="left:154.0px;top:83.1px;width:9.3px;height:1.5px;background:#666"></div><div class="a" style="left:170.8px;top:83.1px;width:9.3px;height:1.5px;background:#aaa"></div><div class="a" style="left:154.0px;top:88.9px;width:9.3px;height:1.5px;background:#666"></div><div class="a" style="left:170.8px;top:88.9px;width:9.3px;height:1.5px;background:#aaa"></div><div class="a" style="left:154.0px;top:94.8px;width:9.3px;height:1.5px;background:#666"></div><div class="a" style="left:170.8px;top:94.8px;width:9.3px;height:1.5px;background:#aaa"></div><div class="a" style="left:154.0px;top:100.6px;width:9.3px;height:1.5px;background:#666"></div><div class="a" style="left:170.8px;top:100.6px;width:9.3px;height:1.5px;background:#aaa"></div><div class="a" style="left:37.1px;top:43.3px;width:113.2px;height:29.2px;border:1px solid #999;background:repeating-linear-gradient(90deg,rgba(120,120,120,.55) 0 1px,transparent 1px 6px) 0 8.8px/100% 16.1px no-repeat,#fbfbfb"><div class="a" style="left:0;top:4.4px;width:37.4px;height:24.9px;background:#b6caf2;opacity:.9"></div><div class="a" style="left:3.4px;top:-2.0px;width:7px;height:3px;background:#111"></div><div class="a" style="left:12.8px;top:25.2px;width:7px;height:3px;background:#111"></div><div class="a" style="left:24.0px;top:13.2px;width:7px;height:3px;background:#111"></div><div class="a" style="left:34.8px;top:16.4px;width:6px;height:2.5px;background:#2f6fe8"></div><div class="a" style="left:47.8px;top:13.2px;width:7px;height:3px;background:#111"></div><div class="a" style="left:44.1px;top:13.8px;width:6px;height:2.5px;background:#2f6fe8"></div><div class="a" style="left:67.7px;top:-2.0px;width:7px;height:3px;background:#111"></div><div class="a" style="left:89.4px;top:25.2px;width:7px;height:3px;background:#111"></div><div class="a" style="left:89.8px;top:10.1px;width:6px;height:2.5px;background:#2f6fe8"></div><div class="a" style="left:102.4px;top:25.2px;width:7px;height:3px;background:#111"></div></div></div>
<div class="a" style="left:2114px;top:621.5px;width:229.4000000000001px;height:163.79999999999995px;background:#fff;border-radius:6px"></div>
<div class="a" style="left:2136.2px;top:641.9px;width:185.3px;height:117.0px;border:2.6px solid #111;border-radius:7px;background:#fff;overflow:hidden"><div class="a" style="left:37.1px;top:0;width:148.2px;height:117.0px;background:#f7f7f7"></div><div class="a" style="left:150.1px;top:5.9px;width:33.4px;height:91.3px;background:#fff"></div><div class="a" style="left:153.8px;top:35.1px;width:25.9px;height:35.1px;background:repeating-linear-gradient(90deg,#eee 0 1px,transparent 1px 5px)"></div><svg class="a" style="left:153.8px;top:35.1px" width="25.9" height="35.1" viewBox="0 0 26 35"><polyline points="0,30 8,30 13,10 16,8 18,25 26,28" fill="none" stroke="#7a9ae0" stroke-width="1"/></svg><div class="a" style="left:153.8px;top:77.2px;width:9.3px;height:1.5px;background:#666"></div><div class="a" style="left:170.5px;top:77.2px;width:9.3px;height:1.5px;background:#aaa"></div><div class="a" style="left:153.8px;top:83.1px;width:9.3px;height:1.5px;background:#666"></div><div class="a" style="left:170.5px;top:83.1px;width:9.3px;height:1.5px;background:#aaa"></div><div class="a" style="left:153.8px;top:88.9px;width:9.3px;height:1.5px;background:#666"></div><div class="a" style="left:170.5px;top:88.9px;width:9.3px;height:1.5px;background:#aaa"></div><div class="a" style="left:153.8px;top:94.8px;width:9.3px;height:1.5px;background:#666"></div><div class="a" style="left:170.5px;top:94.8px;width:9.3px;height:1.5px;background:#aaa"></div><div class="a" style="left:153.8px;top:100.6px;width:9.3px;height:1.5px;background:#666"></div><div class="a" style="left:170.5px;top:100.6px;width:9.3px;height:1.5px;background:#aaa"></div><div class="a" style="left:81.5px;top:44.5px;width:68.6px;height:28.1px;border:1px solid #999;background:repeating-linear-gradient(90deg,rgba(120,120,120,.55) 0 1px,transparent 1px 6px) 0 8.4px/100% 15.4px no-repeat,#fbfbfb"><div class="a" style="left:11.3px;top:-2.0px;width:7px;height:3px;background:#111"></div><div class="a" style="left:35.4px;top:24.1px;width:7px;height:3px;background:#111"></div></div></div>
<div class="a" style="left:1845px;top:805.3px;width:229px;height:157.30000000000007px;background:#fff;border-radius:6px"></div>
<div class="a" style="left:1866.4px;top:820.4px;width:185.6px;height:117.3px;border:2.6px solid #111;border-radius:7px;background:#fff;overflow:hidden"><div class="a" style="left:37.1px;top:0;width:148.5px;height:117.3px;background:#f7f7f7"></div><div class="a" style="left:150.3px;top:5.9px;width:33.4px;height:91.5px;background:#fff"></div><div class="a" style="left:154.0px;top:35.2px;width:26.0px;height:35.2px;background:repeating-linear-gradient(90deg,#eee 0 1px,transparent 1px 5px)"></div><div class="a" style="left:154.0px;top:77.4px;width:9.3px;height:1.5px;background:#666"></div><div class="a" style="left:170.8px;top:77.4px;width:9.3px;height:1.5px;background:#aaa"></div><div class="a" style="left:154.0px;top:83.3px;width:9.3px;height:1.5px;background:#666"></div><div class="a" style="left:170.8px;top:83.3px;width:9.3px;height:1.5px;background:#aaa"></div><div class="a" style="left:154.0px;top:89.1px;width:9.3px;height:1.5px;background:#666"></div><div class="a" style="left:170.8px;top:89.1px;width:9.3px;height:1.5px;background:#aaa"></div><div class="a" style="left:154.0px;top:95.0px;width:9.3px;height:1.5px;background:#666"></div><div class="a" style="left:170.8px;top:95.0px;width:9.3px;height:1.5px;background:#aaa"></div><div class="a" style="left:154.0px;top:100.9px;width:9.3px;height:1.5px;background:#666"></div><div class="a" style="left:170.8px;top:100.9px;width:9.3px;height:1.5px;background:#aaa"></div><div class="a" style="left:37.1px;top:46.9px;width:111.4px;height:28.2px;border:1px solid #999;background:repeating-linear-gradient(90deg,rgba(120,120,120,.55) 0 1px,transparent 1px 6px) 0 8.4px/100% 15.5px no-repeat,#fbfbfb"><div class="a" style="left:2.2px;top:3.4px;width:66.8px;height:22.5px;background:radial-gradient(ellipse 35% 22% at 40% 30%,#a8e83a 60%,transparent 100%),radial-gradient(ellipse 45% 25% at 35% 75%,#a8e83a 60%,transparent 100%),radial-gradient(ellipse 10% 14% at 70% 20%,#f04a2a 60%,transparent 100%);filter:blur(.6px)"></div><div class="a" style="left:5.6px;top:20.3px;width:3px;height:3px;border-radius:50%;background:#e83a2a"></div><div class="a" style="left:12.2px;top:20.3px;width:3px;height:3px;border-radius:50%;background:#e83a2a"></div><div class="a" style="left:18.9px;top:20.3px;width:3px;height:3px;border-radius:50%;background:#e83a2a"></div><div class="a" style="left:25.6px;top:20.3px;width:3px;height:3px;border-radius:50%;background:#e83a2a"></div><div class="a" style="left:32.3px;top:20.3px;width:3px;height:3px;border-radius:50%;background:#e83a2a"></div><div class="a" style="left:39.0px;top:20.3px;width:3px;height:3px;border-radius:50%;background:#e83a2a"></div><div class="a" style="left:45.7px;top:20.3px;width:3px;height:3px;border-radius:50%;background:#e83a2a"></div><div class="a" style="left:52.3px;top:20.3px;width:3px;height:3px;border-radius:50%;background:#e83a2a"></div></div></div>
<div class="a" style="left:2114px;top:805.3px;width:229.4000000000001px;height:157.30000000000007px;background:#fff;border-radius:6px"></div>
<div class="a" style="left:2136.2px;top:820.4px;width:185.3px;height:117.3px;border:2.6px solid #111;border-radius:7px;background:#fff;overflow:hidden"><div class="a" style="left:37.1px;top:0;width:148.2px;height:117.3px;background:#f7f7f7"></div><div class="a" style="left:150.1px;top:5.9px;width:33.4px;height:91.5px;background:#fff"></div><div class="a" style="left:153.8px;top:35.2px;width:25.9px;height:35.2px;background:repeating-linear-gradient(90deg,#eee 0 1px,transparent 1px 5px)"></div><div class="a" style="left:153.8px;top:77.4px;width:9.3px;height:1.5px;background:#666"></div><div class="a" style="left:170.5px;top:77.4px;width:9.3px;height:1.5px;background:#aaa"></div><div class="a" style="left:153.8px;top:83.3px;width:9.3px;height:1.5px;background:#666"></div><div class="a" style="left:170.5px;top:83.3px;width:9.3px;height:1.5px;background:#aaa"></div><div class="a" style="left:153.8px;top:89.1px;width:9.3px;height:1.5px;background:#666"></div><div class="a" style="left:170.5px;top:89.1px;width:9.3px;height:1.5px;background:#aaa"></div><div class="a" style="left:153.8px;top:95.0px;width:9.3px;height:1.5px;background:#666"></div><div class="a" style="left:170.5px;top:95.0px;width:9.3px;height:1.5px;background:#aaa"></div><div class="a" style="left:153.8px;top:100.9px;width:9.3px;height:1.5px;background:#666"></div><div class="a" style="left:170.5px;top:100.9px;width:9.3px;height:1.5px;background:#aaa"></div><div class="a" style="left:37.1px;top:46.9px;width:113.0px;height:28.2px;border:1px solid #999;background:repeating-linear-gradient(90deg,rgba(120,120,120,.55) 0 1px,transparent 1px 6px) 0 8.4px/100% 15.5px no-repeat,#fbfbfb"><div class="a" style="left:0.4px;top:12.7px;width:7px;height:3px;background:#111"></div><div class="a" style="left:11.1px;top:24.2px;width:7px;height:3px;background:#111"></div><div class="a" style="left:35.1px;top:12.7px;width:7px;height:3px;background:#111"></div><div class="a" style="left:57.6px;top:9.3px;width:6px;height:2.5px;background:#2f6fe8"></div><div class="a" style="left:66.7px;top:12.7px;width:7px;height:3px;background:#111"></div><div class="a" style="left:90.4px;top:15.1px;width:6px;height:2.5px;background:#2f6fe8"></div><div class="a" style="left:99.7px;top:12.7px;width:7px;height:3px;background:#111"></div></div></div>
<div class="a" style="left:1667px;top:284.2px;width:100px;height:3px;background:#fff"></div>
<div class="a" style="left:1765px;top:278.7px;border-top:7px solid transparent;border-bottom:7px solid transparent;border-left:13px solid #fff"></div>
<div class="a" style="left:1667px;top:581.1px;width:100px;height:3px;background:#fff"></div>
<div class="a" style="left:1765px;top:575.6px;border-top:7px solid transparent;border-bottom:7px solid transparent;border-left:13px solid #fff"></div>
<div class="a" style="left:1667px;top:878.1px;width:100px;height:3px;background:#fff"></div>
<div class="a" style="left:1765px;top:872.6px;border-top:7px solid transparent;border-bottom:7px solid transparent;border-left:13px solid #fff"></div>
<div class="t" style="left:1680.0px;top:1201.5px;font-size:24px;line-height:31px;font-weight:700;color:#fff;transform:scaleX(1.0548);transform-origin:0 50%;-webkit-text-stroke:0.35px #fff;">Open API</div>
<div class="a" style="left:1687px;top:1255px;width:90px;height:3px;background:#fff"></div>
<div class="a" style="left:1774px;top:1249.5px;border-top:7px solid transparent;border-bottom:7px solid transparent;border-left:13px solid #fff"></div>
<div class="a" style="left:1698px;top:1282px;width:88px;height:3px;background:#fff"></div>
<div class="a" style="left:1687px;top:1276.5px;border-top:7px solid transparent;border-bottom:7px solid transparent;border-right:13px solid #fff"></div>
<div class="a" style="left:1809.0px;top:1085.0px;width:314px;height:314px;border-radius:50%;background:rgba(228,232,240,.72);"></div>
<div class="a" style="left:2087.0px;top:1085.0px;width:314px;height:314px;border-radius:50%;background:rgba(228,232,240,.72);"></div>
<div class="a" style="left:1848.0px;top:1123.5px;width:236px;height:236px;border-radius:50%;background:#1a3774;"></div>
<div class="a" style="left:1849.5px;top:1125.0px;width:233.0px;height:233.0px;border-radius:50%;background:#d8dde8;"></div>
<div class="a" style="left:1853.0px;top:1128.5px;width:226px;height:226px;border-radius:50%;background:#122b5f;"></div>
<div class="t" style="left:1883.1px;top:1193.7px;font-size:35px;line-height:46px;font-weight:700;color:#fff;transform:scaleX(0.8975);transform-origin:0 50%;-webkit-text-stroke:0.5px #fff;">외부 서비스</div>
<div class="t" style="left:1935.0px;top:1240.7px;font-size:35px;line-height:46px;font-weight:700;color:#fff;transform:scaleX(0.8857);transform-origin:0 50%;-webkit-text-stroke:0.5px #fff;">연동</div>
<div class="a" style="left:2126.0px;top:1123.5px;width:236px;height:236px;border-radius:50%;background:#1a3774;"></div>
<div class="a" style="left:2127.5px;top:1125.0px;width:233.0px;height:233.0px;border-radius:50%;background:#d8dde8;"></div>
<div class="a" style="left:2131.0px;top:1128.5px;width:226px;height:226px;border-radius:50%;background:#122b5f;"></div>
<div class="t" style="left:2197.5px;top:1193.7px;font-size:35px;line-height:46px;font-weight:700;color:#fff;transform:scaleX(0.8857);transform-origin:0 50%;-webkit-text-stroke:0.5px #fff;">레포트</div>
<div class="t" style="left:2213.0px;top:1240.7px;font-size:35px;line-height:46px;font-weight:700;color:#fff;transform:scaleX(0.8857);transform-origin:0 50%;-webkit-text-stroke:0.5px #fff;">제작</div>

<div class="wl" style="left:629px;top:958px;width:60px;height:3px"></div>
<div class="lbl" style="left:687px;top:944px;width:97px;height:31px"></div>
<div class="t" style="left:698.0px;top:948.8px;font-size:16px;line-height:21px;font-weight:400;color:#fff;transform:scaleX(0.8437);transform-origin:0 50%;">센싱 및 통신</div>
<div class="wl" style="left:783px;top:958px;width:53px;height:3px"></div>
<div class="a" style="left:834px;top:953px;width:0;height:0;border-top:6.5px solid transparent;border-bottom:6.5px solid transparent;border-left:13px solid #fff"></div>
<div class="lbl" style="left:673px;top:1073px;width:124px;height:31px"></div>
<div class="t" style="left:684.0px;top:1078.0px;font-size:16px;line-height:21px;font-weight:400;color:#fff;transform:scaleX(0.8437);transform-origin:0 50%;">외부 데이터 전달</div>
<div class="wl" style="left:796px;top:1090.5px;width:40px;height:3px"></div>
<div class="a" style="left:834px;top:1085.5px;width:0;height:0;border-top:6.5px solid transparent;border-bottom:6.5px solid transparent;border-left:13px solid #fff"></div>
<div class="wl" style="left:710px;top:1103px;width:3px;height:117px"></div>
<div class="wl" style="left:629px;top:1217px;width:84px;height:3px"></div>

</body></html>
